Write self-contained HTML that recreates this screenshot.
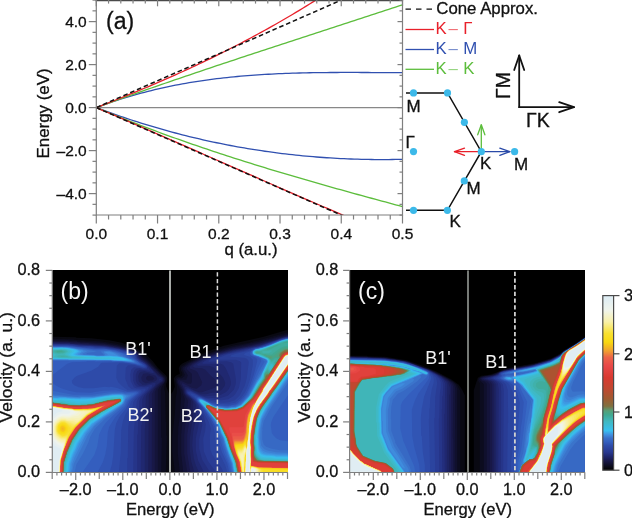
<!DOCTYPE html>
<html><head><meta charset="utf-8"><style>
html,body{margin:0;padding:0;background:#fff;}
svg{display:block;will-change:transform;}
text{font-family:"Liberation Sans",sans-serif;}
g[fill="#111"] text,text[fill="#111"]{stroke:#111;stroke-width:0.3px;}
</style></head><body>
<svg width="632" height="518" viewBox="0 0 632 518">
<rect width="632" height="518" fill="#fff"/>
<defs><clipPath id="ca"><rect x="96.3" y="0" width="306.2" height="215"/></clipPath></defs>
<g clip-path="url(#ca)" fill="none" stroke-width="1.3">
<line x1="96.3" y1="107.6" x2="402.5" y2="107.6" stroke="#888" stroke-width="1.2"/>
<path d="M96.30,107.60 L99.74,106.31 L103.18,105.05 L106.62,103.82 L110.06,102.62 L113.50,101.46 L116.94,100.32 L120.38,99.21 L123.82,98.14 L127.26,97.09 L130.70,96.07 L134.14,95.07 L137.59,94.11 L141.03,93.17 L144.47,92.26 L147.91,91.38 L151.35,90.52 L154.79,89.69 L158.23,88.89 L161.67,88.11 L165.11,87.35 L168.55,86.62 L171.99,85.91 L175.43,85.23 L178.87,84.57 L182.31,83.93 L185.75,83.31 L189.19,82.72 L192.63,82.15 L196.07,81.60 L199.51,81.06 L202.95,80.55 L206.39,80.07 L209.83,79.59 L213.28,79.14 L216.72,78.71 L220.16,78.30 L223.60,77.90 L227.04,77.53 L230.48,77.17 L233.92,76.82 L237.36,76.49 L240.80,76.18 L244.24,75.89 L247.68,75.61 L251.12,75.35 L254.56,75.10 L258.00,74.86 L261.44,74.64 L264.88,74.43 L268.32,74.23 L271.76,74.05 L275.20,73.88 L278.64,73.72 L282.08,73.58 L285.52,73.44 L288.97,73.31 L292.41,73.20 L295.85,73.10 L299.29,73.00 L302.73,72.91 L306.17,72.84 L309.61,72.77 L313.05,72.71 L316.49,72.65 L319.93,72.61 L323.37,72.57 L326.81,72.54 L330.25,72.51 L333.69,72.49 L337.13,72.48 L340.57,72.46 L344.01,72.46 L347.45,72.46 L350.89,72.46 L354.33,72.46 L357.77,72.47 L361.21,72.48 L364.66,72.50 L368.10,72.51 L371.54,72.53 L374.98,72.55 L378.42,72.56 L381.86,72.58 L385.30,72.60 L388.74,72.62 L392.18,72.64 L395.62,72.65 L399.06,72.67 L402.50,72.68" stroke="#3050b0"/>
<path d="M96.30,107.60 L99.74,108.89 L103.18,110.17 L106.62,111.43 L110.06,112.67 L113.50,113.89 L116.94,115.10 L120.38,116.29 L123.82,117.46 L127.26,118.62 L130.70,119.75 L134.14,120.87 L137.59,121.98 L141.03,123.06 L144.47,124.13 L147.91,125.19 L151.35,126.22 L154.79,127.24 L158.23,128.24 L161.67,129.23 L165.11,130.20 L168.55,131.15 L171.99,132.08 L175.43,133.00 L178.87,133.91 L182.31,134.79 L185.75,135.66 L189.19,136.52 L192.63,137.35 L196.07,138.17 L199.51,138.98 L202.95,139.77 L206.39,140.54 L209.83,141.29 L213.28,142.03 L216.72,142.76 L220.16,143.47 L223.60,144.16 L227.04,144.83 L230.48,145.49 L233.92,146.14 L237.36,146.77 L240.80,147.38 L244.24,147.98 L247.68,148.56 L251.12,149.13 L254.56,149.68 L258.00,150.21 L261.44,150.73 L264.88,151.24 L268.32,151.73 L271.76,152.20 L275.20,152.66 L278.64,153.10 L282.08,153.53 L285.52,153.94 L288.97,154.34 L292.41,154.72 L295.85,155.09 L299.29,155.44 L302.73,155.78 L306.17,156.11 L309.61,156.42 L313.05,156.71 L316.49,156.99 L319.93,157.25 L323.37,157.50 L326.81,157.74 L330.25,157.96 L333.69,158.16 L337.13,158.36 L340.57,158.53 L344.01,158.70 L347.45,158.85 L350.89,158.98 L354.33,159.10 L357.77,159.21 L361.21,159.30 L364.66,159.38 L368.10,159.44 L371.54,159.49 L374.98,159.53 L378.42,159.55 L381.86,159.56 L385.30,159.55 L388.74,159.53 L392.18,159.50 L395.62,159.45 L399.06,159.39 L402.50,159.32" stroke="#3050b0"/>
<path d="M96.30,107.60 L99.74,106.35 L103.18,105.10 L106.62,103.86 L110.06,102.62 L113.50,101.38 L116.94,100.15 L120.38,98.92 L123.82,97.69 L127.26,96.47 L130.70,95.25 L134.14,94.04 L137.59,92.82 L141.03,91.62 L144.47,90.41 L147.91,89.21 L151.35,88.01 L154.79,86.81 L158.23,85.62 L161.67,84.43 L165.11,83.24 L168.55,82.06 L171.99,80.88 L175.43,79.70 L178.87,78.52 L182.31,77.35 L185.75,76.18 L189.19,75.01 L192.63,73.84 L196.07,72.68 L199.51,71.52 L202.95,70.36 L206.39,69.20 L209.83,68.05 L213.28,66.89 L216.72,65.74 L220.16,64.59 L223.60,63.44 L227.04,62.30 L230.48,61.15 L233.92,60.01 L237.36,58.87 L240.80,57.73 L244.24,56.59 L247.68,55.46 L251.12,54.32 L254.56,53.19 L258.00,52.05 L261.44,50.92 L264.88,49.79 L268.32,48.66 L271.76,47.53 L275.20,46.41 L278.64,45.28 L282.08,44.15 L285.52,43.03 L288.97,41.90 L292.41,40.78 L295.85,39.66 L299.29,38.53 L302.73,37.41 L306.17,36.29 L309.61,35.17 L313.05,34.05 L316.49,32.92 L319.93,31.80 L323.37,30.68 L326.81,29.56 L330.25,28.44 L333.69,27.32 L337.13,26.20 L340.57,25.07 L344.01,23.95 L347.45,22.83 L350.89,21.71 L354.33,20.58 L357.77,19.46 L361.21,18.33 L364.66,17.21 L368.10,16.08 L371.54,14.96 L374.98,13.83 L378.42,12.70 L381.86,11.57 L385.30,10.44 L388.74,9.31 L392.18,8.17 L395.62,7.04 L399.06,5.91 L402.50,4.77" stroke="#5cbd3c"/>
<path d="M96.30,107.60 L99.74,109.04 L103.18,110.47 L106.62,111.89 L110.06,113.30 L113.50,114.70 L116.94,116.09 L120.38,117.47 L123.82,118.84 L127.26,120.20 L130.70,121.55 L134.14,122.89 L137.59,124.22 L141.03,125.54 L144.47,126.85 L147.91,128.15 L151.35,129.44 L154.79,130.73 L158.23,132.00 L161.67,133.27 L165.11,134.53 L168.55,135.78 L171.99,137.02 L175.43,138.25 L178.87,139.47 L182.31,140.69 L185.75,141.90 L189.19,143.10 L192.63,144.29 L196.07,145.48 L199.51,146.65 L202.95,147.82 L206.39,148.99 L209.83,150.14 L213.28,151.29 L216.72,152.43 L220.16,153.57 L223.60,154.69 L227.04,155.81 L230.48,156.93 L233.92,158.03 L237.36,159.14 L240.80,160.23 L244.24,161.32 L247.68,162.40 L251.12,163.48 L254.56,164.55 L258.00,165.61 L261.44,166.67 L264.88,167.73 L268.32,168.78 L271.76,169.82 L275.20,170.86 L278.64,171.89 L282.08,172.92 L285.52,173.94 L288.97,174.96 L292.41,175.97 L295.85,176.98 L299.29,177.99 L302.73,178.99 L306.17,179.98 L309.61,180.98 L313.05,181.97 L316.49,182.95 L319.93,183.93 L323.37,184.91 L326.81,185.88 L330.25,186.85 L333.69,187.82 L337.13,188.78 L340.57,189.74 L344.01,190.70 L347.45,191.65 L350.89,192.60 L354.33,193.55 L357.77,194.50 L361.21,195.44 L364.66,196.38 L368.10,197.32 L371.54,198.25 L374.98,199.19 L378.42,200.12 L381.86,201.05 L385.30,201.98 L388.74,202.91 L392.18,203.84 L395.62,204.76 L399.06,205.68 L402.50,206.60" stroke="#5cbd3c"/>
<path d="M96.30,107.60 L99.74,106.27 L103.18,104.94 L106.62,103.60 L110.06,102.25 L113.50,100.89 L116.94,99.52 L120.38,98.15 L123.82,96.76 L127.26,95.37 L130.70,93.97 L134.14,92.56 L137.59,91.14 L141.03,89.71 L144.47,88.27 L147.91,86.82 L151.35,85.36 L154.79,83.89 L158.23,82.40 L161.67,80.91 L165.11,79.41 L168.55,77.89 L171.99,76.37 L175.43,74.83 L178.87,73.28 L182.31,71.72 L185.75,70.15 L189.19,68.57 L192.63,66.97 L196.07,65.36 L199.51,63.74 L202.95,62.10 L206.39,60.45 L209.83,58.79 L213.28,57.12 L216.72,55.43 L220.16,53.72 L223.60,52.01 L227.04,50.28 L230.48,48.53 L233.92,46.77 L237.36,45.00 L240.80,43.21 L244.24,41.41 L247.68,39.59 L251.12,37.75 L254.56,35.90 L258.00,34.04 L261.44,32.15 L264.88,30.26 L268.32,28.34 L271.76,26.41 L275.20,24.46 L278.64,22.50 L282.08,20.52 L285.52,18.52 L288.97,16.50 L292.41,14.47 L295.85,12.42 L299.29,10.35 L302.73,8.26 L306.17,6.16 L309.61,4.03 L313.05,1.89 L316.49,-0.27 L319.93,-2.45 L323.37,-4.65 L326.81,-6.87 L330.25,-9.11 L333.69,-11.37 L337.13,-13.65 L340.57,-15.94 L344.01,-18.26 L347.45,-20.60 L350.89,-22.96 L354.33,-25.34 L357.77,-27.74 L361.21,-30.16 L364.66,-32.61 L368.10,-35.07 L371.54,-37.56 L374.98,-40.07 L378.42,-42.60 L381.86,-45.15 L385.30,-47.73 L388.74,-50.33 L392.18,-52.95 L395.62,-55.59 L399.06,-58.26 L402.50,-60.95" stroke="#e8202a"/>
<path d="M96.30,107.60 L99.74,109.06 L103.18,110.53 L106.62,112.00 L110.06,113.47 L113.50,114.95 L116.94,116.43 L120.38,117.91 L123.82,119.39 L127.26,120.88 L130.70,122.36 L134.14,123.85 L137.59,125.34 L141.03,126.84 L144.47,128.33 L147.91,129.83 L151.35,131.33 L154.79,132.83 L158.23,134.33 L161.67,135.84 L165.11,137.34 L168.55,138.85 L171.99,140.35 L175.43,141.86 L178.87,143.37 L182.31,144.88 L185.75,146.40 L189.19,147.91 L192.63,149.42 L196.07,150.94 L199.51,152.45 L202.95,153.97 L206.39,155.48 L209.83,157.00 L213.28,158.51 L216.72,160.03 L220.16,161.55 L223.60,163.06 L227.04,164.58 L230.48,166.10 L233.92,167.62 L237.36,169.13 L240.80,170.65 L244.24,172.16 L247.68,173.68 L251.12,175.19 L254.56,176.71 L258.00,178.22 L261.44,179.73 L264.88,181.25 L268.32,182.76 L271.76,184.27 L275.20,185.78 L278.64,187.28 L282.08,188.79 L285.52,190.29 L288.97,191.80 L292.41,193.30 L295.85,194.80 L299.29,196.30 L302.73,197.79 L306.17,199.29 L309.61,200.78 L313.05,202.27 L316.49,203.76 L319.93,205.25 L323.37,206.74 L326.81,208.22 L330.25,209.70 L333.69,211.18 L337.13,212.65 L340.57,214.12 L344.01,215.59 L347.45,217.06 L350.89,218.52 L354.33,219.99 L357.77,221.44 L361.21,222.90 L364.66,224.35 L368.10,225.80 L371.54,227.25 L374.98,228.69 L378.42,230.13 L381.86,231.56 L385.30,232.99 L388.74,234.42 L392.18,235.85 L395.62,237.27 L399.06,238.68 L402.50,240.09" stroke="#e8202a"/>
<line x1="96.3" y1="107.6" x2="353.508" y2="-5.275000000000006" stroke="#111" stroke-dasharray="4.6,2.8" stroke-width="1.5"/>
<line x1="96.3" y1="107.6" x2="353.508" y2="220.475" stroke="#111" stroke-dasharray="4.6,2.8" stroke-width="1.5"/>
</g>
<g stroke="#7f7f7f" stroke-width="1.2" fill="none">
<path d="M96.3,0 V215 H402.5 V0"/>
<line x1="95.7" y1="0.45" x2="403.1" y2="0.45" stroke="#4a4a4a" stroke-width="1.5"/>
<line x1="92.5" y1="0.10" x2="96.3" y2="0.10"/>
<line x1="399.5" y1="0.10" x2="402.5" y2="0.10"/>
<line x1="92.5" y1="10.85" x2="96.3" y2="10.85"/>
<line x1="399.5" y1="10.85" x2="402.5" y2="10.85"/>
<line x1="88.8" y1="21.60" x2="96.3" y2="21.60"/>
<line x1="397.5" y1="21.60" x2="402.5" y2="21.60"/>
<line x1="92.5" y1="32.35" x2="96.3" y2="32.35"/>
<line x1="399.5" y1="32.35" x2="402.5" y2="32.35"/>
<line x1="92.5" y1="43.10" x2="96.3" y2="43.10"/>
<line x1="399.5" y1="43.10" x2="402.5" y2="43.10"/>
<line x1="92.5" y1="53.85" x2="96.3" y2="53.85"/>
<line x1="399.5" y1="53.85" x2="402.5" y2="53.85"/>
<line x1="88.8" y1="64.60" x2="96.3" y2="64.60"/>
<line x1="397.5" y1="64.60" x2="402.5" y2="64.60"/>
<line x1="92.5" y1="75.35" x2="96.3" y2="75.35"/>
<line x1="399.5" y1="75.35" x2="402.5" y2="75.35"/>
<line x1="92.5" y1="86.10" x2="96.3" y2="86.10"/>
<line x1="399.5" y1="86.10" x2="402.5" y2="86.10"/>
<line x1="92.5" y1="96.85" x2="96.3" y2="96.85"/>
<line x1="399.5" y1="96.85" x2="402.5" y2="96.85"/>
<line x1="88.8" y1="107.60" x2="96.3" y2="107.60"/>
<line x1="397.5" y1="107.60" x2="402.5" y2="107.60"/>
<line x1="92.5" y1="118.35" x2="96.3" y2="118.35"/>
<line x1="399.5" y1="118.35" x2="402.5" y2="118.35"/>
<line x1="92.5" y1="129.10" x2="96.3" y2="129.10"/>
<line x1="399.5" y1="129.10" x2="402.5" y2="129.10"/>
<line x1="92.5" y1="139.85" x2="96.3" y2="139.85"/>
<line x1="399.5" y1="139.85" x2="402.5" y2="139.85"/>
<line x1="88.8" y1="150.60" x2="96.3" y2="150.60"/>
<line x1="397.5" y1="150.60" x2="402.5" y2="150.60"/>
<line x1="92.5" y1="161.35" x2="96.3" y2="161.35"/>
<line x1="399.5" y1="161.35" x2="402.5" y2="161.35"/>
<line x1="92.5" y1="172.10" x2="96.3" y2="172.10"/>
<line x1="399.5" y1="172.10" x2="402.5" y2="172.10"/>
<line x1="92.5" y1="182.85" x2="96.3" y2="182.85"/>
<line x1="399.5" y1="182.85" x2="402.5" y2="182.85"/>
<line x1="88.8" y1="193.60" x2="96.3" y2="193.60"/>
<line x1="397.5" y1="193.60" x2="402.5" y2="193.60"/>
<line x1="92.5" y1="204.35" x2="96.3" y2="204.35"/>
<line x1="399.5" y1="204.35" x2="402.5" y2="204.35"/>
<line x1="92.5" y1="215.10" x2="96.3" y2="215.10"/>
<line x1="399.5" y1="215.10" x2="402.5" y2="215.10"/>
<line x1="96.30" y1="215" x2="96.30" y2="223.5"/>
<line x1="96.30" y1="0" x2="96.30" y2="6.3"/>
<line x1="108.55" y1="215" x2="108.55" y2="219.5"/>
<line x1="108.55" y1="0" x2="108.55" y2="3.6"/>
<line x1="120.80" y1="215" x2="120.80" y2="219.5"/>
<line x1="120.80" y1="0" x2="120.80" y2="3.6"/>
<line x1="133.04" y1="215" x2="133.04" y2="219.5"/>
<line x1="133.04" y1="0" x2="133.04" y2="3.6"/>
<line x1="145.29" y1="215" x2="145.29" y2="219.5"/>
<line x1="145.29" y1="0" x2="145.29" y2="3.6"/>
<line x1="157.54" y1="215" x2="157.54" y2="223.5"/>
<line x1="157.54" y1="0" x2="157.54" y2="6.3"/>
<line x1="169.79" y1="215" x2="169.79" y2="219.5"/>
<line x1="169.79" y1="0" x2="169.79" y2="3.6"/>
<line x1="182.04" y1="215" x2="182.04" y2="219.5"/>
<line x1="182.04" y1="0" x2="182.04" y2="3.6"/>
<line x1="194.28" y1="215" x2="194.28" y2="219.5"/>
<line x1="194.28" y1="0" x2="194.28" y2="3.6"/>
<line x1="206.53" y1="215" x2="206.53" y2="219.5"/>
<line x1="206.53" y1="0" x2="206.53" y2="3.6"/>
<line x1="218.78" y1="215" x2="218.78" y2="223.5"/>
<line x1="218.78" y1="0" x2="218.78" y2="6.3"/>
<line x1="231.03" y1="215" x2="231.03" y2="219.5"/>
<line x1="231.03" y1="0" x2="231.03" y2="3.6"/>
<line x1="243.28" y1="215" x2="243.28" y2="219.5"/>
<line x1="243.28" y1="0" x2="243.28" y2="3.6"/>
<line x1="255.52" y1="215" x2="255.52" y2="219.5"/>
<line x1="255.52" y1="0" x2="255.52" y2="3.6"/>
<line x1="267.77" y1="215" x2="267.77" y2="219.5"/>
<line x1="267.77" y1="0" x2="267.77" y2="3.6"/>
<line x1="280.02" y1="215" x2="280.02" y2="223.5"/>
<line x1="280.02" y1="0" x2="280.02" y2="6.3"/>
<line x1="292.27" y1="215" x2="292.27" y2="219.5"/>
<line x1="292.27" y1="0" x2="292.27" y2="3.6"/>
<line x1="304.52" y1="215" x2="304.52" y2="219.5"/>
<line x1="304.52" y1="0" x2="304.52" y2="3.6"/>
<line x1="316.76" y1="215" x2="316.76" y2="219.5"/>
<line x1="316.76" y1="0" x2="316.76" y2="3.6"/>
<line x1="329.01" y1="215" x2="329.01" y2="219.5"/>
<line x1="329.01" y1="0" x2="329.01" y2="3.6"/>
<line x1="341.26" y1="215" x2="341.26" y2="223.5"/>
<line x1="341.26" y1="0" x2="341.26" y2="6.3"/>
<line x1="353.51" y1="215" x2="353.51" y2="219.5"/>
<line x1="353.51" y1="0" x2="353.51" y2="3.6"/>
<line x1="365.76" y1="215" x2="365.76" y2="219.5"/>
<line x1="365.76" y1="0" x2="365.76" y2="3.6"/>
<line x1="378.00" y1="215" x2="378.00" y2="219.5"/>
<line x1="378.00" y1="0" x2="378.00" y2="3.6"/>
<line x1="390.25" y1="215" x2="390.25" y2="219.5"/>
<line x1="390.25" y1="0" x2="390.25" y2="3.6"/>
<line x1="402.50" y1="215" x2="402.50" y2="223.5"/>
<line x1="402.50" y1="0" x2="402.50" y2="6.3"/>
</g>
<g font-family="Liberation Sans, sans-serif" font-size="15.5" fill="#111" text-anchor="end">
<text x="86.7" y="27.1">4.0</text>
<text x="86.7" y="70.1">2.0</text>
<text x="86.7" y="113.1">0.0</text>
<text x="86.7" y="156.1">–2.0</text>
<text x="86.7" y="199.1">–4.0</text>
</g>
<g font-family="Liberation Sans, sans-serif" font-size="15.5" fill="#111" text-anchor="middle">
<text x="96.3" y="238.5">0.0</text>
<text x="157.5" y="238.5">0.1</text>
<text x="218.8" y="238.5">0.2</text>
<text x="280.0" y="238.5">0.3</text>
<text x="341.3" y="238.5">0.4</text>
<text x="402.5" y="238.5">0.5</text>
<text x="251" y="254.5" font-size="16.8">q (a.u.)</text>
<text transform="translate(49,113.4) rotate(-90)" font-size="16.9">Energy (eV)</text>
</g>
<text x="106" y="29.3" font-family="Liberation Sans, sans-serif" font-size="23" fill="#111">(a)</text>
<g stroke-width="1.3">
<line x1="405.5" y1="9.2" x2="435" y2="9.2" stroke="#111" stroke-dasharray="5.5,5"/>
<line x1="405.5" y1="29.5" x2="434" y2="29.5" stroke="#e8202a"/>
<line x1="405.5" y1="49.5" x2="434" y2="49.5" stroke="#3050b0"/>
<line x1="405.5" y1="69.3" x2="434" y2="69.3" stroke="#5cbd3c"/>
</g>
<g font-family="Liberation Sans, sans-serif" font-size="16.8">
<text x="436.3" y="13.8" fill="#111">Cone Approx.</text>
<text x="435.5" y="34.3" fill="#e8202a">K<tspan dx="1.8" opacity="0.65">–</tspan><tspan dx="5.5">Γ</tspan></text>
<text x="435.5" y="54.2" fill="#3050b0">K<tspan dx="1.8" opacity="0.65">–</tspan><tspan dx="5.5">M</tspan></text>
<text x="435.5" y="74.4" fill="#5cbd3c">K<tspan dx="1.8" opacity="0.65">–</tspan><tspan dx="5.5">K</tspan></text>
</g>
<g stroke="#111" stroke-width="1.5" fill="none">
<path d="M406,92.9 H447.5 L481.3,151.7 L447.4,210.3 H406"/>
</g>
<g stroke="#e8202a" stroke-width="1.3" fill="none" stroke-linecap="round" stroke-linejoin="round"><line x1="481.3" y1="151.7" x2="454.5" y2="151.7"/><path d="M464.50,148.10 L454.5,151.7 L464.50,155.30"/></g>
<g stroke="#2a4aa8" stroke-width="1.3" fill="none" stroke-linecap="round" stroke-linejoin="round"><line x1="481.3" y1="151.7" x2="509.8" y2="151.7"/><path d="M499.80,155.30 L509.8,151.7 L499.80,148.10"/></g>
<g stroke="#5cbd3c" stroke-width="1.3" fill="none" stroke-linecap="round" stroke-linejoin="round"><line x1="481.3" y1="151.7" x2="481.3" y2="124.8"/><path d="M484.90,134.80 L481.3,124.8 L477.70,134.80"/></g>
<g stroke="#111" stroke-width="1.8" fill="none" stroke-linecap="round" stroke-linejoin="round"><line x1="519.2" y1="107.2" x2="519.2" y2="55.5"/><path d="M524.20,70.00 L519.2,55.5 L514.20,70.00"/></g>
<g stroke="#111" stroke-width="1.8" fill="none" stroke-linecap="round" stroke-linejoin="round"><line x1="519.2" y1="107.2" x2="574" y2="107.2"/><path d="M559.20,112.20 L574,107.2 L559.20,102.20"/></g>
<g fill="#3cb9e9">
<circle cx="413.5" cy="92.9" r="3.6"/>
<circle cx="447.5" cy="92.9" r="3.6"/>
<circle cx="464.4" cy="122.3" r="3.6"/>
<circle cx="481.3" cy="151.7" r="3.6"/>
<circle cx="413.5" cy="151.6" r="3.6"/>
<circle cx="514.6" cy="151.7" r="3.6"/>
<circle cx="464.3" cy="180.9" r="3.6"/>
<circle cx="413.5" cy="210.3" r="3.6"/>
<circle cx="447.4" cy="210.3" r="3.6"/>
</g>
<g font-family="Liberation Sans, sans-serif" font-size="17" fill="#111">
<text x="406.5" y="111.5">M</text>
<text x="405.5" y="148.4">Γ</text>
<text x="480" y="169.4">K</text>
<text x="514" y="169.5">M</text>
<text x="466.5" y="193.8">M</text>
<text x="449.5" y="226.6">K</text>
</g>
<g font-family="Liberation Sans, sans-serif" font-size="19.5" fill="#111">
<text x="526" y="126.8">ΓK</text>
<text transform="translate(510.3,99) rotate(-90)">ΓM</text>
</g>
<clipPath id="clb"><rect x="52" y="270" width="236" height="202"/></clipPath><g clip-path="url(#clb)"><g><rect x="52" y="270" width="236" height="202" fill="#000000"/><path fill="#090912" fill-rule="evenodd" d="M287.8 329.8 263.8 336.8 223.8 345.8 206.8 351.8 182.8 363.2 180.2 365.2 178.8 368.2 179.8 373.8 175.8 375.8 173.8 378.2 174.8 386.8 172.8 391.8 170.8 394.2 168.8 393.2 166.2 386.2 166.2 383.8 167.2 381.2 167.2 377.8 166.2 375.8 157.8 367.8 152.8 361.2 145.8 354.2 135.8 347.8 121.8 342.8 109.2 340.2 90.8 338.2 76.2 337.8 75.8 337.2 52.2 336.8 52.2 471.8 287.8 471.8Z"/><path fill="#0c0c1f" fill-rule="evenodd" d="M52.2 338.8 52.2 471.8 165.8 471.8 166.8 435.8 166.2 435.2 166.2 422.2 165.8 421.8 165.2 392.8 164.2 388.2 164.8 384.2 166.2 380.8 166.2 378.2 165.2 376.2 160.8 372.8 153.8 364.8 145.2 356.2 140.2 352.2 135.2 349.2 128.2 346.8 117.2 343.8 100.2 341.2 74.2 339.8 73.8 339.2ZM287.8 332.2 248.8 342.8 234.2 345.2 219.2 349.2 194.8 358.8 186.8 362.8 181.2 366.8 180.8 370.2 182.2 372.8 182.2 375.2 180.2 376.8 176.8 377.2 175.2 379.2 176.8 385.8 176.8 392.8 175.8 396.8 174.8 413.8 172.2 437.2 172.2 450.8 174.8 471.8 287.8 471.8Z"/><path fill="#10102d" fill-rule="evenodd" d="M52.2 340.2 52.2 471.8 161.2 471.8 161.8 438.2 161.2 437.8 160.8 389.8 161.8 386.8 165.2 381.2 164.8 377.2 146.2 358.8 143.2 356.8 138.2 351.8 131.2 348.8 118.2 345.2 102.2 342.8 77.2 341.2 76.8 340.8 68.8 340.8 68.2 340.2ZM287.8 333.8 258.8 341.8 229.2 347.8 215.2 351.8 198.2 358.2 188.2 363.2 182.8 367.2 182.2 368.8 184.8 374.8 184.2 376.2 181.8 378.2 178.2 378.2 176.8 379.2 176.8 382.2 180.2 389.8 181.2 395.2 179.8 416.8 178.2 428.2 178.2 434.2 177.8 434.8 177.8 453.8 179.8 471.8 287.8 471.8Z"/><path fill="#14143a" fill-rule="evenodd" d="M52.2 341.2 52.2 471.8 157.8 471.8 157.8 390.2 159.2 387.2 163.8 382.8 164.8 380.2 164.2 377.8 145.2 359.2 142.8 357.8 137.8 352.2 132.2 349.8 116.8 345.8 102.8 343.8 77.8 342.2 77.2 341.8 68.8 341.8 68.2 341.2ZM287.8 334.8 252.8 344.2 233.8 347.8 216.8 352.2 199.2 358.8 190.2 363.2 184.8 367.2 184.2 369.2 187.8 375.2 186.2 379.8 178.8 379.8 177.8 380.8 178.2 383.2 182.2 390.2 182.8 393.8 184.8 398.8 181.2 434.2 181.2 453.8 183.2 471.8 287.8 471.8Z"/><path fill="#181847" fill-rule="evenodd" d="M52.2 341.8 52.2 471.8 154.8 471.8 154.8 392.2 156.2 388.8 163.8 381.2 163.8 378.2 146.2 361.2 143.2 359.2 136.8 352.2 130.2 349.8 118.2 346.8 105.2 344.8 88.8 343.8 88.2 343.2 80.8 343.2 80.2 342.8 72.8 342.8 72.2 342.2ZM287.8 335.2 264.2 342.2 247.8 346.2 228.8 349.8 217.8 352.8 201.2 358.8 192.2 363.2 186.8 367.8 186.8 369.2 191.8 373.8 191.8 382.2 190.8 383.8 187.8 383.8 182.2 381.2 179.8 381.2 179.8 383.8 183.2 389.8 183.8 393.2 188.2 400.8 184.2 434.8 184.2 453.2 187.2 471.8 287.8 471.8Z"/><path fill="#1b1d55" fill-rule="evenodd" d="M52.2 342.2 52.2 471.8 151.8 471.8 151.8 410.2 152.2 409.8 151.8 394.2 154.2 389.2 158.2 384.8 162.8 381.2 163.2 380.2 162.8 377.8 158.2 374.8 146.2 362.2 141.8 359.2 136.8 352.8 130.2 350.2 118.2 347.2 104.8 345.2 70.2 343.2 69.8 342.8ZM146.2 377.2 147.8 375.8 149.8 375.8 152.8 376.8 154.2 378.8 152.8 380.2 148.2 380.8 146.2 379.2ZM287.8 336.2 282.2 337.2 275.8 339.8 253.2 345.8 234.2 349.2 216.8 353.8 201.8 359.2 193.2 363.8 190.2 366.2 189.8 367.2 190.2 368.8 195.8 370.8 197.8 372.8 202.2 382.2 201.2 385.2 196.8 388.8 191.8 387.8 182.8 383.2 181.8 383.8 184.2 389.8 184.2 392.2 185.2 394.8 190.8 400.8 189.8 417.2 187.2 435.2 187.2 453.2 189.8 469.2 190.8 471.8 287.8 471.8Z"/><path fill="#1d2362" fill-rule="evenodd" d="M52.2 343.2 52.2 471.8 148.2 471.8 148.8 395.2 150.2 392.2 156.8 384.8 162.2 380.8 162.2 378.8 160.8 377.2 158.2 376.2 147.8 364.2 141.2 359.8 135.8 352.8 132.2 351.2 120.8 348.2 104.8 345.8 69.8 343.8 69.2 343.2ZM141.2 377.8 143.2 373.8 147.2 373.2 155.8 375.8 157.2 378.8 155.8 380.8 153.8 381.8 145.8 383.2 142.2 381.2ZM287.8 336.2 260.2 344.8 232.8 350.2 217.2 354.2 200.2 360.8 195.2 363.8 193.2 365.8 193.2 366.8 194.8 367.8 202.2 368.2 205.2 369.8 210.8 375.8 216.8 380.8 217.8 382.8 217.2 385.2 214.8 387.8 201.8 392.2 199.2 392.2 193.8 390.2 188.2 387.2 184.8 386.8 184.8 391.8 185.8 394.2 191.8 399.8 193.2 402.2 192.8 417.2 189.8 438.2 189.8 450.8 191.2 461.2 194.2 471.8 287.8 471.8Z"/><path fill="#202870" fill-rule="evenodd" d="M159.2 378.8 159.2 380.8 161.2 379.8 160.8 378.8ZM52.2 343.8 52.2 471.8 144.8 471.8 144.8 428.8 145.2 428.2 145.8 396.8 147.2 393.8 154.8 385.8 155.8 383.2 154.2 382.8 146.2 384.8 142.2 384.8 138.8 381.2 138.2 376.2 139.2 373.2 140.8 371.8 144.2 371.2 153.2 373.2 153.8 372.8 152.8 370.8 145.8 363.2 138.8 358.2 137.8 355.2 135.8 353.2 127.2 350.2 105.8 346.2 70.8 344.2 70.2 343.8ZM287.8 336.8 281.2 338.2 278.2 339.8 258.8 345.8 233.2 350.8 216.2 355.2 203.2 360.2 197.2 364.2 197.2 365.2 198.2 365.8 208.8 365.8 213.8 367.2 223.2 377.8 225.2 382.8 224.8 385.8 221.8 389.8 218.2 391.8 214.8 392.8 211.8 392.8 206.2 394.2 200.8 394.2 189.2 388.8 187.2 388.2 185.8 389.8 185.8 393.2 193.2 400.2 195.8 404.8 195.8 419.8 193.2 432.2 192.2 445.2 193.8 458.2 195.8 465.2 198.8 471.8 287.8 471.8Z"/><path fill="#232e7d" fill-rule="evenodd" d="M52.2 343.8 52.2 471.8 140.8 471.8 141.2 425.2 141.8 424.8 141.8 415.2 142.2 414.8 142.2 399.8 144.2 395.2 151.8 387.2 152.2 385.2 151.2 384.8 144.2 386.2 139.2 385.8 136.8 383.2 135.8 380.2 135.8 374.8 137.2 371.2 139.8 369.8 150.2 370.8 147.2 365.2 140.8 360.8 137.8 357.8 135.8 353.8 123.8 349.8 110.8 347.2 101.2 346.2 78.8 345.2 71.8 344.2ZM287.8 337.2 282.2 338.2 258.8 346.2 236.2 350.8 220.2 354.8 207.8 359.2 202.2 362.8 202.8 363.8 220.8 363.8 223.2 364.8 225.8 368.2 229.8 377.2 230.8 381.2 230.8 384.8 228.8 389.2 225.8 392.2 219.8 395.2 204.2 396.2 198.2 394.2 189.2 389.8 187.2 389.8 186.2 390.8 186.8 393.8 193.8 399.8 195.8 402.2 197.8 407.2 197.8 412.2 198.8 414.8 198.8 424.2 195.8 438.2 195.8 450.2 198.2 460.8 203.8 471.8 287.8 471.8Z"/><path fill="#263589" fill-rule="evenodd" d="M52.2 344.2 52.2 471.8 136.8 471.8 137.2 471.2 137.2 434.8 137.8 434.2 138.2 415.8 139.2 409.8 139.2 401.2 140.8 397.2 148.2 389.2 148.8 387.2 148.2 386.8 146.2 387.2 136.8 386.8 134.8 384.8 133.2 380.8 133.2 373.8 134.2 370.8 136.2 368.8 139.8 368.2 143.2 369.2 146.8 369.2 147.2 366.2 145.8 364.2 139.8 360.8 137.2 358.2 136.8 355.8 134.8 353.8 119.8 349.2 102.8 346.8 80.2 345.8 73.8 344.8ZM287.8 337.2 284.8 337.8 260.2 346.2 224.8 354.2 215.2 357.2 209.8 359.8 208.2 361.2 209.2 361.8 226.8 361.2 231.2 362.2 233.2 363.8 235.8 378.2 235.8 383.8 233.8 389.8 227.8 395.8 219.8 398.2 206.8 397.8 200.2 395.8 190.2 390.8 187.2 391.2 186.8 392.2 187.2 393.2 195.8 401.2 198.8 405.8 199.2 410.2 202.2 419.2 202.2 425.8 199.2 439.2 199.2 448.8 202.2 459.8 209.8 471.8 287.8 471.8Z"/><path fill="#293c95" fill-rule="evenodd" d="M52.2 344.8 52.2 471.8 133.2 471.8 133.8 431.2 136.8 401.2 138.2 398.2 145.2 390.8 145.8 388.8 136.2 388.2 133.8 387.2 130.8 381.2 130.2 374.8 131.2 369.8 133.8 367.2 146.2 368.2 146.8 367.2 146.2 365.8 143.8 363.2 139.2 360.8 136.8 358.2 134.8 354.2 129.8 352.2 118.2 349.2 104.8 347.2 97.2 347.2 90.8 346.2 82.2 346.2 66.8 344.8ZM287.8 337.8 283.8 338.2 259.8 346.8 253.8 347.8 244.8 350.8 227.8 354.2 216.2 358.8 217.2 359.8 235.8 359.8 240.2 361.2 241.2 362.8 240.8 379.2 238.8 388.2 235.2 394.2 233.2 396.2 228.2 399.2 221.8 400.2 216.2 400.2 207.2 398.8 198.8 395.8 190.8 391.8 187.8 392.2 188.2 393.8 195.2 399.8 199.2 405.2 200.8 410.8 203.8 416.2 205.8 424.2 205.2 430.8 203.2 438.8 203.8 451.2 207.8 460.8 215.8 471.8 287.8 471.8Z"/><path fill="#2b449f" fill-rule="evenodd" d="M52.2 345.2 52.2 471.8 126.8 471.8 127.2 470.8 127.2 458.2 127.8 457.8 128.2 427.2 129.2 419.8 132.2 409.2 133.2 402.2 134.2 400.2 141.2 393.2 141.8 390.8 139.8 389.8 131.8 389.2 128.2 386.2 125.2 378.8 125.8 367.8 128.2 365.2 134.2 365.2 144.2 367.8 145.8 366.8 145.2 365.2 138.2 360.8 135.8 358.2 135.2 356.2 133.8 354.8 120.2 350.2 104.2 347.8 95.8 347.8 89.8 346.8 81.2 346.8 67.2 345.2ZM287.8 337.8 278.8 340.2 266.2 345.2 257.8 347.8 255.8 347.8 248.8 350.8 235.8 353.8 231.2 355.2 230.2 356.8 244.2 357.8 246.8 358.8 248.2 360.2 248.8 362.2 246.8 377.8 244.8 385.8 239.8 395.2 234.8 400.2 228.8 402.2 224.2 402.8 216.2 402.2 205.8 399.2 193.2 393.8 190.2 393.2 190.8 394.8 195.8 399.2 197.2 402.2 200.2 405.2 202.2 410.2 208.8 421.8 210.8 428.8 209.8 436.2 210.2 449.2 212.2 454.8 221.8 468.2 223.2 471.8 287.8 471.8Z"/><path fill="#2e4ba9" fill-rule="evenodd" d="M52.2 345.8 52.2 471.8 118.8 471.8 120.8 452.8 121.2 430.2 122.8 421.2 125.2 414.8 128.8 408.8 131.2 401.2 139.2 393.8 139.8 391.8 138.2 390.8 127.8 390.2 122.2 386.2 118.2 382.2 116.2 377.8 116.8 365.8 119.2 363.2 130.2 363.8 143.2 366.8 144.2 365.8 142.2 363.8 137.2 360.8 132.2 355.2 126.8 352.8 115.2 349.8 103.8 348.2 94.8 348.2 94.2 347.8 80.8 347.2 67.8 345.8ZM287.8 338.2 280.8 339.8 264.2 346.2 253.8 348.8 249.2 351.8 245.8 352.8 243.8 354.2 244.8 355.2 249.8 356.8 252.8 359.8 252.8 365.2 249.8 380.2 247.2 387.8 244.8 392.8 241.2 397.8 235.2 402.8 231.2 403.2 229.2 404.2 216.8 403.8 211.2 402.2 201.8 397.8 194.2 395.8 197.8 402.2 201.8 406.2 204.8 412.2 206.8 414.2 206.8 415.2 210.2 420.2 213.2 426.2 214.8 432.8 214.8 437.2 216.8 448.2 225.2 465.2 227.2 471.8 287.8 471.8Z"/><path fill="#3155b4" fill-rule="evenodd" d="M52.2 346.2 52.2 471.8 109.8 471.8 111.8 464.8 113.2 455.8 114.8 429.8 116.2 423.2 119.8 416.2 126.2 408.2 129.8 400.8 138.2 393.2 138.2 392.2 136.2 391.2 127.8 391.8 116.2 387.8 110.8 386.8 109.2 387.2 104.8 386.8 93.8 388.2 83.8 388.2 78.8 387.2 74.2 385.2 72.2 383.2 71.8 380.8 74.8 377.2 77.2 375.8 91.2 370.8 98.2 366.8 100.8 363.2 102.2 362.8 122.2 362.2 133.8 363.8 138.8 365.2 142.2 365.2 142.2 364.8 129.2 354.8 115.2 350.2 104.2 348.8 94.2 348.8 69.8 346.2ZM287.8 338.2 278.8 340.8 272.2 343.8 261.8 347.2 254.8 348.8 252.8 349.8 249.8 352.8 249.8 354.2 251.2 355.8 255.8 357.8 257.2 359.2 257.2 361.2 253.8 374.8 249.2 387.8 246.2 393.8 243.2 397.8 237.2 403.2 235.2 404.2 227.8 405.8 219.8 405.2 211.8 403.2 200.8 397.8 198.8 397.2 196.8 397.8 197.2 400.8 202.2 406.2 211.8 420.2 215.2 426.8 219.2 441.2 219.8 445.2 222.2 452.8 227.2 463.2 229.2 471.8 287.8 471.8Z"/><path fill="#345ebe" fill-rule="evenodd" d="M52.2 382.8 52.2 471.8 97.8 471.8 102.8 462.2 105.2 454.8 106.8 446.2 107.8 432.2 109.2 426.8 115.2 417.2 125.2 406.8 128.2 400.8 136.8 393.8 136.2 392.2 124.8 392.2 115.8 390.2 102.8 390.8 90.8 392.8 76.2 392.2 68.8 390.8 61.2 388.2 56.2 385.8ZM52.2 346.2 52.2 375.2 67.2 363.8 71.8 362.2 86.2 361.8 86.8 361.2 94.8 361.2 95.2 361.8 111.8 361.2 112.2 361.8 121.8 361.8 139.8 364.8 140.2 364.2 137.8 361.8 126.2 354.2 115.2 350.8 105.8 349.2 93.8 349.2 72.2 346.8ZM287.8 338.8 285.2 338.8 268.8 345.2 255.2 348.8 251.2 351.8 251.2 354.2 252.2 355.2 258.8 357.8 260.8 359.2 261.2 361.2 257.2 369.8 252.2 383.8 247.2 394.2 243.8 398.8 238.2 403.8 235.2 405.2 232.2 405.2 229.8 406.2 223.2 406.2 214.2 404.8 199.8 397.8 198.2 397.8 197.2 398.8 198.2 401.8 202.8 406.2 216.2 426.2 224.2 452.8 229.2 464.8 230.8 471.8 287.8 471.8Z"/><path fill="#3769c4" fill-rule="evenodd" d="M134.2 393.2 125.2 393.2 121.8 392.2 109.2 392.2 92.2 394.8 72.8 394.8 52.2 390.8 52.2 471.8 82.8 471.8 94.2 455.2 97.2 446.8 99.2 434.2 102.8 426.8 105.8 422.8 112.8 415.8 124.8 405.2 126.8 400.8 134.8 393.8ZM52.2 346.8 52.2 360.8 68.2 360.8 68.8 361.2 111.2 360.8 111.8 361.2 120.8 361.2 138.2 363.8 134.8 360.2 127.2 356.8 121.8 353.2 110.2 350.2 106.2 349.8 96.8 350.2 67.8 346.8ZM287.8 338.8 279.8 340.8 263.2 347.2 254.8 349.2 252.2 351.2 251.8 353.8 253.2 355.2 261.2 358.2 264.8 361.8 260.8 368.2 247.8 395.2 243.2 400.8 239.8 403.8 234.8 406.2 230.8 406.2 227.2 407.2 218.2 405.8 217.2 406.2 212.8 404.8 201.8 398.8 198.8 398.2 197.8 399.2 198.2 401.2 208.2 412.8 216.8 425.2 219.8 434.8 222.2 440.2 222.8 443.8 226.2 452.8 226.8 455.8 230.2 463.8 231.8 471.8 287.8 471.8 287.8 441.2 280.2 440.2 276.2 438.2 272.8 434.8 271.8 432.8 270.8 425.8 271.2 422.2 273.2 417.2 287.8 395.2Z"/><path fill="#3b74cb" fill-rule="evenodd" d="M131.2 394.8 125.2 394.2 122.2 393.2 112.2 393.2 91.8 396.2 78.8 396.2 77.8 396.8 52.2 394.2 52.2 471.8 74.8 471.8 76.2 464.8 82.8 453.8 88.2 442.8 90.2 436.8 94.8 428.8 106.2 417.8 109.8 415.8 121.8 406.2 124.2 403.8 125.8 399.8 129.8 396.8ZM52.2 347.2 52.2 359.8 54.8 360.2 95.8 360.2 96.2 360.8 110.8 360.2 111.2 360.8 124.8 361.2 133.8 362.8 135.8 362.2 133.8 360.2 126.8 357.8 118.8 353.2 109.2 350.8 101.8 351.2 100.8 351.8 103.8 354.8 98.2 355.8 94.8 354.8 86.8 354.2 86.2 353.8 87.8 352.8 96.8 351.8 92.8 350.8 69.2 347.2ZM287.8 338.8 280.2 340.8 271.2 344.8 260.8 348.2 255.2 349.2 252.2 351.8 252.2 353.2 253.2 354.8 264.8 359.2 266.8 361.8 256.2 380.2 248.8 395.2 240.8 404.2 235.2 406.8 226.2 407.8 213.8 405.8 200.8 398.8 198.8 398.8 198.2 399.8 198.8 401.2 203.2 405.8 217.2 424.2 220.2 433.2 222.8 438.2 226.2 450.8 231.2 463.2 232.8 471.8 287.8 471.8 287.8 450.2 279.8 450.2 271.8 448.8 266.2 446.8 263.8 444.8 262.2 439.2 262.2 430.8 262.8 430.2 262.2 428.8 263.8 420.8 272.2 405.8 287.8 382.8Z"/><path fill="#3d80d4" fill-rule="evenodd" d="M128.8 395.8 121.8 393.8 114.8 393.8 92.8 396.8 80.2 396.8 79.8 397.2 58.8 396.2 58.2 395.8 56.8 396.2 52.2 395.2 52.2 471.8 72.2 471.8 73.8 463.8 87.8 435.2 94.2 426.2 103.8 418.2 121.2 405.8 123.8 403.2 125.2 399.2ZM52.2 347.2 52.2 359.8 112.8 360.2 113.2 360.8 121.8 360.8 134.2 362.2 133.8 360.8 130.8 359.2 120.2 355.8 115.2 352.8 109.8 351.2 104.2 351.2 103.8 352.8 105.2 354.8 103.8 355.8 86.2 355.2 83.2 354.8 82.2 353.8 87.2 351.2 82.8 349.8 66.2 347.2ZM287.8 339.2 285.2 339.2 271.8 344.8 261.2 348.2 255.8 349.2 252.8 351.2 252.8 353.8 254.2 355.2 258.8 356.2 266.2 359.8 267.2 361.2 262.8 370.8 249.2 395.2 240.8 404.8 235.2 407.2 231.2 407.2 227.8 408.2 218.8 407.2 211.8 405.2 202.8 399.8 198.8 399.2 199.2 401.8 211.2 415.2 218.8 426.8 220.8 433.2 223.8 439.2 224.8 444.2 231.8 463.2 233.2 471.8 287.8 471.8 287.8 452.8 276.2 452.2 268.2 450.8 264.2 449.2 261.2 445.8 260.2 438.2 260.8 428.2 262.2 420.2 267.8 409.8 287.8 379.8Z"/><path fill="#3f8cdd" fill-rule="evenodd" d="M125.2 395.2 122.2 394.2 112.8 394.2 92.8 397.2 80.8 397.2 80.2 397.8 52.2 396.2 52.2 471.8 70.8 471.8 71.8 468.2 71.8 464.8 74.8 456.8 86.2 434.2 94.8 424.2 104.8 416.2 113.8 410.8 123.2 403.2 126.2 396.2ZM52.2 347.8 52.2 359.2 117.2 360.2 117.8 360.8 133.2 361.8 131.2 359.8 122.8 356.8 118.8 356.2 112.8 352.8 109.2 351.8 105.8 351.8 105.2 352.8 107.2 353.8 107.8 354.8 102.8 356.2 82.2 355.2 79.8 354.2 80.2 353.2 83.8 351.2 82.2 350.2 69.8 347.8 63.2 347.8 62.8 347.2ZM287.8 339.2 282.2 340.2 270.8 345.2 258.2 349.2 256.2 349.2 253.2 350.8 252.8 353.2 253.8 354.8 259.2 356.2 266.8 359.8 267.2 362.2 260.8 375.8 257.2 380.8 248.8 396.8 240.8 405.2 236.2 407.2 230.2 408.2 219.2 407.8 211.2 405.2 208.2 402.8 202.2 399.8 199.2 399.2 198.8 400.2 209.2 412.2 218.2 424.8 220.8 430.8 220.8 432.2 223.8 438.2 228.8 454.8 232.2 463.2 233.8 471.8 287.8 471.8 287.8 454.2 286.8 453.8 276.2 453.8 266.2 452.2 262.8 450.8 260.2 447.2 259.2 438.8 259.8 428.2 261.8 418.8 269.8 404.8 287.8 378.2Z"/><path fill="#3e9ae3" fill-rule="evenodd" d="M124.2 395.8 122.2 394.8 111.8 394.8 92.8 397.8 81.2 397.8 80.8 398.2 66.8 397.8 66.2 397.2 58.2 397.2 57.8 397.8 52.2 397.2 52.2 471.8 69.8 471.8 70.8 463.8 73.2 456.8 79.2 443.8 82.8 438.8 85.8 432.8 90.2 427.2 96.2 421.8 121.8 404.2 124.2 399.8 124.8 397.8ZM52.2 347.8 52.2 359.2 111.2 359.8 111.8 360.2 131.8 361.2 131.2 360.2 127.8 358.8 118.2 356.2 113.2 356.2 112.8 355.8 95.8 356.2 95.2 355.8 79.8 355.2 78.2 354.8 77.8 353.8 80.8 352.2 81.2 351.2 76.8 349.2 67.2 347.8ZM287.8 339.2 281.2 340.8 263.8 347.8 255.2 349.8 253.2 351.2 252.8 352.8 254.2 354.8 259.8 356.2 266.2 359.2 267.8 360.8 267.8 361.8 261.2 375.8 257.2 381.8 249.8 395.8 241.2 405.2 235.8 407.8 231.2 407.8 229.2 408.8 226.2 408.8 213.8 406.8 208.8 403.2 201.8 399.8 199.2 399.8 199.8 401.8 209.8 412.2 209.8 413.2 213.8 417.8 218.8 425.2 221.8 433.8 223.8 437.2 227.8 450.8 232.8 463.8 232.8 466.2 234.2 471.8 287.8 471.8 287.8 455.2 280.2 455.2 263.8 453.2 260.8 450.8 258.8 444.2 258.8 431.8 260.8 419.2 266.2 408.8 287.8 376.8Z"/><path fill="#3ca8e8" fill-rule="evenodd" d="M123.2 395.8 120.2 394.8 116.2 394.8 92.2 398.2 80.8 398.2 80.2 398.8 66.8 398.2 66.2 397.8 59.2 397.8 58.8 398.2 52.2 397.8 52.2 471.8 68.8 471.8 69.8 467.8 69.8 463.8 72.8 455.2 78.2 443.2 84.2 433.2 92.2 423.8 121.8 403.8 123.8 400.2ZM52.2 348.2 52.2 358.8 52.8 359.2 68.2 359.2 68.8 359.8 93.8 359.2 94.2 359.8 113.2 359.8 113.8 360.2 130.2 360.8 128.2 359.2 123.8 357.8 116.2 356.2 108.8 355.8 108.2 356.2 97.8 356.8 93.8 355.8 77.2 355.2 75.8 354.2 79.8 351.2 75.2 349.2 65.2 347.8 52.8 347.8ZM287.8 339.2 280.2 341.2 271.2 345.2 260.8 348.8 255.2 349.8 253.2 351.2 253.8 354.2 266.8 359.2 267.8 360.2 267.8 362.2 260.2 378.2 256.8 383.2 249.8 396.2 241.8 405.2 234.8 408.2 230.2 408.8 219.2 408.2 211.2 405.8 209.2 403.8 201.2 399.8 199.8 399.8 199.8 401.2 212.2 415.2 212.2 416.2 216.8 421.2 219.8 426.8 221.2 431.8 224.8 438.8 227.2 448.2 232.8 462.8 234.2 471.8 287.8 471.8 287.8 455.8 275.8 455.8 265.8 454.8 262.2 453.8 260.2 451.8 258.8 448.2 258.2 438.2 257.8 437.8 259.2 423.2 261.8 415.8 266.2 407.8 287.8 375.8Z"/><path fill="#3ab6ed" fill-rule="evenodd" d="M122.2 395.8 120.8 395.2 109.8 395.8 85.8 399.2 52.2 398.2 52.2 471.8 68.2 471.8 69.2 462.8 73.2 451.8 74.8 449.8 77.2 443.2 84.8 431.2 91.8 423.2 93.2 422.8 103.8 414.8 121.2 403.8 123.2 400.8 123.2 396.8ZM52.2 348.2 52.2 358.8 128.2 360.2 122.8 357.8 117.2 356.8 111.8 356.8 111.2 356.2 96.2 356.8 95.8 356.2 78.2 355.8 75.2 355.2 74.2 354.2 77.8 351.8 77.8 350.8 75.8 349.8 61.8 347.8ZM287.8 339.2 281.8 340.8 270.2 345.8 261.2 348.8 255.8 349.8 253.2 351.8 253.2 353.2 254.8 354.8 259.2 355.8 266.2 358.8 268.2 360.8 268.2 361.8 262.8 372.8 260.8 378.2 256.2 384.8 252.2 392.8 247.2 399.8 241.2 405.8 235.8 408.2 231.2 408.2 226.2 409.2 212.8 406.8 208.2 403.2 203.2 400.8 199.8 400.2 200.2 401.8 204.2 405.8 205.2 407.8 209.8 411.8 217.2 421.8 219.8 426.2 221.8 432.2 225.2 439.2 225.8 442.8 233.2 463.2 234.8 471.8 287.8 471.8 287.8 456.8 276.2 456.8 274.2 455.8 267.2 455.8 261.2 454.2 259.8 452.8 258.2 448.8 257.8 438.2 257.2 437.8 258.8 423.8 260.8 416.8 265.2 408.2 287.8 374.8Z"/><path fill="#39bfeb" fill-rule="evenodd" d="M121.2 395.8 112.2 395.8 108.8 396.8 104.8 396.8 98.8 398.2 86.2 399.8 75.2 399.8 68.8 398.8 59.8 398.8 59.2 399.2 52.2 398.8 52.2 471.8 67.8 471.8 68.2 463.8 71.2 454.8 76.2 443.2 84.2 430.8 92.2 422.2 121.2 403.2 122.8 401.2 122.8 397.2ZM52.2 348.2 52.2 358.8 111.8 359.2 112.2 359.8 122.8 359.8 123.2 360.2 126.8 359.8 121.2 357.8 112.2 356.8 95.2 356.8 94.8 356.2 75.8 355.8 72.8 354.2 76.8 351.2 72.8 349.2 66.8 348.2ZM287.8 339.8 280.8 341.2 269.2 346.2 256.2 349.8 253.8 351.2 253.2 352.8 254.2 354.2 266.8 358.8 268.2 360.2 268.2 362.2 263.2 372.2 261.8 377.2 257.2 383.8 249.8 397.2 241.8 405.8 234.2 408.8 225.8 409.2 212.8 406.8 208.8 403.8 202.8 400.8 200.2 400.2 200.2 401.2 210.2 412.2 218.8 423.2 225.2 438.8 229.8 453.8 233.2 462.2 234.8 471.8 287.8 471.8 287.8 457.2 275.8 457.2 271.2 456.2 264.8 456.2 261.2 455.2 258.2 451.2 257.2 445.2 257.2 431.8 259.2 419.2 264.8 408.2 287.8 374.2Z"/><path fill="#3bbddf" fill-rule="evenodd" d="M121.2 396.8 120.2 396.2 109.8 396.8 95.2 399.2 90.8 400.8 79.8 401.2 79.2 401.8 64.8 399.2 63.2 399.8 61.2 399.2 57.2 400.2 52.2 399.8 52.2 471.8 66.8 471.8 67.2 463.2 69.8 457.2 70.2 454.2 75.2 442.8 82.2 431.8 91.2 421.8 120.2 403.2 122.2 400.8 122.2 398.2ZM52.2 348.8 52.2 358.2 68.8 358.8 69.2 359.2 73.8 358.8 122.8 359.2 117.8 357.8 112.8 357.8 108.8 356.8 108.2 357.2 95.8 357.2 95.2 356.8 84.2 356.8 83.8 356.2 72.2 355.8 70.8 354.2 74.2 351.8 74.2 350.8 72.2 349.8 61.8 348.2ZM287.8 339.8 281.2 341.2 271.2 345.8 260.8 349.2 255.2 350.2 253.8 351.8 253.8 353.2 254.8 354.2 260.2 355.8 267.2 358.8 268.8 360.2 268.8 361.8 263.2 373.2 262.8 376.2 261.2 379.2 258.8 382.2 250.2 397.2 241.8 406.2 236.2 408.8 226.2 409.8 213.8 407.2 204.2 401.8 201.2 401.2 205.8 407.8 207.8 409.2 217.8 421.2 220.2 425.8 225.8 438.8 230.2 453.8 233.8 462.2 235.2 471.8 287.8 471.8 287.8 458.2 275.8 458.2 270.2 457.2 263.8 457.2 260.8 456.2 257.2 451.8 256.8 439.2 256.2 438.8 257.8 423.8 258.8 419.2 261.2 413.2 264.2 407.8 287.8 373.2Z"/><path fill="#3dbbd2" fill-rule="evenodd" d="M120.2 397.2 111.8 397.2 108.8 398.2 104.8 398.2 95.8 400.2 91.2 402.2 80.2 402.8 79.8 403.2 76.2 403.2 74.8 402.2 70.8 402.2 69.8 401.2 66.2 401.2 62.2 400.2 52.2 400.8 52.2 471.8 65.8 471.8 66.2 463.2 67.2 461.8 69.8 452.8 74.8 441.8 81.8 430.8 90.8 421.2 102.2 413.2 105.8 411.8 119.8 402.8 121.8 400.8 121.8 398.8ZM52.2 349.2 52.2 357.8 54.2 358.2 67.2 358.2 67.8 358.8 80.2 358.8 80.8 358.2 94.8 358.2 95.2 358.8 112.2 358.2 114.2 358.8 114.8 358.2 71.8 356.2 68.8 354.8 69.8 353.2 72.2 351.8 71.2 350.2 63.8 348.8ZM287.8 339.8 279.2 342.2 267.8 347.2 261.8 349.2 255.8 350.2 254.2 351.2 253.8 352.8 255.2 354.2 259.8 355.2 267.8 358.8 269.2 361.8 263.8 372.8 262.8 377.8 258.8 383.2 250.8 397.2 241.8 406.8 235.8 409.2 226.2 409.8 216.8 408.2 211.2 406.2 206.8 403.2 202.8 402.2 205.8 407.2 219.2 423.2 222.8 430.2 234.2 462.2 235.8 471.8 287.8 471.8 287.8 459.2 275.8 459.2 272.2 458.2 261.2 457.8 257.8 454.8 256.8 452.8 256.8 448.2 255.8 444.2 256.2 430.8 257.8 420.8 259.2 416.2 264.2 406.8 287.8 371.8Z"/><path fill="#3fb9c6" fill-rule="evenodd" d="M120.2 398.2 116.2 397.8 106.8 398.8 91.2 403.2 80.2 403.8 79.8 404.2 66.2 402.8 65.2 401.8 61.8 401.2 60.2 401.8 52.2 401.2 52.2 471.8 65.2 471.8 65.8 462.8 68.8 453.2 74.2 440.8 80.8 430.8 90.8 420.2 99.8 414.8 101.8 412.8 107.2 410.2 115.8 404.2 119.8 402.2 121.2 400.8ZM52.2 349.8 52.8 354.2 52.2 357.2 53.8 357.8 61.2 357.8 61.8 358.2 86.2 357.8 69.8 356.2 67.8 355.2 67.2 353.8 69.2 352.8 70.2 351.2 67.2 349.8 64.8 349.2ZM287.8 340.2 281.2 341.8 271.2 346.2 261.2 349.8 255.2 350.8 254.2 351.8 254.2 352.8 255.8 354.2 259.2 354.8 268.2 358.8 269.8 361.2 263.8 373.8 263.2 377.8 259.2 383.2 251.2 397.2 242.2 406.8 235.8 409.2 225.8 409.8 216.2 408.2 209.8 405.8 205.8 403.2 204.2 403.2 204.8 405.2 207.8 409.8 210.2 411.8 219.2 422.8 226.8 438.8 231.2 453.8 233.2 457.8 235.2 464.8 236.2 471.8 287.8 471.8 287.8 459.8 265.8 459.2 260.2 458.2 256.8 454.8 255.2 444.2 255.2 436.2 256.8 423.2 257.8 418.8 260.8 411.8 271.8 395.2 272.8 392.8 287.8 371.2ZM271.2 365.2 272.2 366.8 270.2 368.8 269.8 367.2Z"/><path fill="#40b5b8" fill-rule="evenodd" d="M120.2 398.8 115.8 399.2 112.2 398.8 91.8 403.8 80.8 404.2 80.2 404.8 70.2 404.2 68.8 403.2 65.2 403.2 61.8 402.2 58.8 402.8 52.2 401.8 52.2 471.8 64.2 471.8 65.2 466.8 65.2 462.2 68.2 452.8 73.2 441.2 80.2 430.2 89.8 420.2 100.8 413.2 101.2 412.2 119.8 402.2 121.2 400.8ZM52.2 350.2 52.2 352.8 56.2 354.8 53.8 356.8 59.2 357.8 73.2 357.8 64.8 354.8 65.8 353.2 68.2 351.8 66.8 350.2 64.8 349.8ZM287.8 340.2 280.8 342.2 263.8 349.2 258.8 350.8 256.2 350.8 254.8 351.8 254.8 353.2 260.2 354.8 267.8 358.2 269.8 360.2 269.8 363.8 264.2 373.2 263.8 377.2 262.2 380.2 258.8 384.8 251.2 397.8 242.8 406.8 236.2 409.2 225.8 409.8 216.2 408.2 205.2 403.8 206.2 407.8 207.8 408.8 219.2 422.8 226.8 438.2 233.2 456.8 233.2 458.2 234.2 459.8 234.2 461.2 235.2 462.8 235.2 465.8 236.8 471.8 287.8 471.8 287.8 460.8 263.2 459.8 259.8 458.8 256.8 455.8 255.8 453.8 255.8 448.2 254.8 443.8 255.2 441.2 254.8 436.2 256.8 420.8 260.2 411.8 268.2 398.8 271.2 395.2 272.2 392.8 275.8 388.8 287.8 371.2ZM272.2 363.8 273.2 365.2 272.8 367.8 270.8 370.2 269.8 370.2 268.8 368.8 268.8 366.8 270.2 364.2Z"/><path fill="#40b1ab" fill-rule="evenodd" d="M120.2 398.8 107.2 400.2 91.8 404.2 80.8 404.8 80.2 405.2 65.8 404.2 64.8 403.2 61.2 402.8 58.8 403.2 52.2 402.2 52.2 471.8 64.2 471.8 64.8 462.2 67.8 452.8 73.2 440.2 80.2 429.8 90.2 419.2 101.2 412.2 119.8 402.2 121.2 400.8ZM56.8 356.2 58.8 357.2 68.8 357.2 67.2 356.2 62.8 355.2 59.2 355.2ZM52.2 351.2 52.8 352.2 57.2 353.8 62.8 353.8 66.8 351.8 66.2 350.8 61.2 349.8 54.2 350.2ZM287.8 340.8 282.8 341.8 260.2 350.8 256.8 350.8 254.8 352.2 256.2 353.8 259.8 354.2 268.2 358.2 270.2 360.2 270.8 362.8 272.2 362.2 273.2 362.8 273.8 366.2 270.2 371.2 268.2 369.8 267.8 368.2 264.2 373.8 263.8 378.2 258.8 385.2 250.8 398.8 242.8 406.8 236.2 409.2 225.8 409.8 216.2 408.2 205.8 404.2 206.2 407.8 207.8 408.8 219.2 422.8 226.8 438.2 230.2 449.2 234.8 460.2 236.8 471.8 287.8 471.8 287.8 461.2 263.8 460.2 260.8 459.8 256.8 456.8 255.2 453.2 254.8 437.8 254.2 437.2 256.8 418.8 260.8 410.2 265.2 402.8 287.8 371.2Z"/><path fill="#40ac9d" fill-rule="evenodd" d="M120.2 398.8 107.2 400.2 92.2 404.2 81.2 404.8 80.8 405.2 69.2 404.8 52.2 402.2 52.2 471.8 63.8 471.8 64.2 461.8 66.8 453.8 72.8 440.2 79.8 429.2 89.8 419.2 101.8 411.8 120.2 401.8 121.2 400.2ZM61.2 356.2 61.2 356.8 65.8 356.8ZM54.2 351.2 54.8 352.2 58.8 353.2 63.8 352.8 65.2 351.8 62.2 350.2 57.2 350.2ZM287.8 340.8 268.2 347.8 262.2 350.8 255.2 351.8 255.2 352.8 256.8 353.8 260.8 354.2 268.8 358.2 271.8 361.8 274.8 359.8 275.8 360.2 274.2 362.2 274.2 365.8 270.8 371.2 268.8 371.8 267.8 369.8 266.2 370.8 264.2 374.8 263.8 378.8 258.8 385.8 252.8 396.2 250.2 399.8 242.8 406.8 236.2 409.2 225.8 409.8 216.2 408.2 209.2 405.2 206.2 404.8 206.2 407.2 219.2 422.8 226.8 438.2 230.2 449.2 235.8 462.8 237.2 471.8 287.8 471.8 287.8 461.2 274.2 461.2 273.8 460.8 260.8 460.2 258.2 458.8 255.8 455.8 254.8 452.2 255.2 449.2 254.2 445.2 254.2 435.2 254.8 434.8 254.2 432.8 256.8 418.8 259.2 412.2 263.8 404.8 287.8 371.2ZM272.2 350.8 269.2 353.2 263.2 353.2 261.8 351.8 263.2 350.8 268.8 350.8 269.2 350.2Z"/><path fill="#40a890" fill-rule="evenodd" d="M120.8 399.2 119.8 398.8 113.2 399.2 96.8 402.8 91.2 404.8 80.2 405.2 79.8 405.8 70.2 405.2 68.8 404.2 52.2 402.8 52.2 471.8 63.2 471.8 63.8 462.8 66.8 452.8 72.2 440.2 79.2 429.8 89.8 419.2 101.8 411.8 120.2 401.8 121.2 400.2ZM56.2 351.2 57.2 352.2 63.2 351.8 61.2 350.8ZM287.8 345.8 283.2 346.8 279.2 348.8 271.2 354.8 261.2 353.8 259.8 351.8 255.8 351.8 256.2 353.2 260.8 353.8 267.8 357.2 271.2 360.2 272.8 360.2 274.8 358.2 277.2 358.2 278.2 359.8 276.2 362.2 275.2 362.2 274.8 365.2 269.8 372.8 267.8 371.2 265.8 372.2 264.8 373.8 264.2 378.2 259.2 385.2 251.2 398.8 242.8 406.8 236.8 409.2 225.2 409.8 215.8 408.2 208.8 405.2 206.2 405.2 206.2 407.2 219.8 423.2 226.8 437.8 230.2 449.2 235.8 462.2 237.2 471.8 287.8 471.8 287.8 461.8 261.8 461.2 258.2 459.2 256.2 457.2 254.8 453.8 254.8 448.2 253.8 444.2 254.2 431.2 255.2 428.8 256.8 418.8 259.2 412.2 262.2 406.8 270.2 396.2 271.8 393.2 278.8 384.2 287.8 370.8ZM281.2 343.8 277.2 344.8 266.8 349.2 267.2 349.8 270.2 349.2ZM287.8 341.2 282.2 343.2 287.8 342.8Z"/><path fill="#49a485" fill-rule="evenodd" d="M120.8 399.2 119.8 398.8 113.2 399.2 105.2 400.8 103.8 401.8 91.2 404.8 80.2 405.2 79.8 405.8 70.2 405.2 52.2 402.8 52.2 471.8 63.2 471.8 63.8 462.8 66.8 452.8 72.2 440.2 79.2 429.8 89.8 419.2 101.8 411.8 120.2 401.8ZM256.2 352.2 256.2 352.8 258.8 352.8 257.8 351.8ZM287.8 347.2 285.8 347.2 281.8 348.8 273.8 355.8 264.2 354.8 264.8 355.8 268.2 357.2 271.2 359.8 274.8 356.8 279.2 358.2 269.2 373.2 266.8 372.2 265.2 373.8 264.2 378.8 259.2 385.8 251.2 399.2 242.2 407.2 236.8 409.2 231.8 409.2 226.2 410.2 216.8 408.8 208.8 405.2 206.2 405.8 206.2 407.2 219.8 423.2 226.8 437.8 231.8 451.8 231.8 453.2 235.8 462.2 237.8 471.8 287.8 471.8 287.8 461.8 259.8 461.2 255.2 456.2 254.2 453.2 254.2 445.2 253.8 444.8 253.8 436.2 254.8 427.8 255.8 425.8 256.8 418.8 259.8 410.8 287.8 370.8Z"/><path fill="#52a17b" fill-rule="evenodd" d="M120.8 399.2 112.2 399.8 91.8 404.8 80.8 405.2 80.2 405.8 69.8 405.2 52.2 402.8 52.2 471.8 63.2 471.8 63.8 462.2 66.8 452.2 72.2 439.8 79.2 429.2 89.2 419.2 101.2 411.8 119.8 401.8 120.8 400.8ZM266.2 355.8 270.8 358.8 272.2 358.2 272.2 356.8 271.2 356.2ZM287.8 348.2 284.2 348.8 278.8 352.8 277.2 355.8 278.2 357.2 279.8 357.8 270.2 372.2 268.8 373.8 266.2 373.2 265.2 374.2 264.8 378.2 259.8 385.2 252.2 398.2 242.2 407.2 235.8 409.8 226.2 410.2 216.8 408.8 208.8 405.2 206.2 405.8 206.2 407.2 219.8 423.2 227.2 438.8 230.2 448.8 235.8 462.2 237.8 471.8 287.8 471.8 287.8 461.8 259.2 461.2 255.8 457.8 254.2 454.8 254.2 445.8 253.8 445.2 253.8 436.2 254.8 427.8 256.8 418.2 259.2 413.2 259.8 410.8 287.8 370.8Z"/><path fill="#5b9970" fill-rule="evenodd" d="M120.2 399.2 112.2 399.8 91.8 404.8 80.8 405.2 80.2 405.8 69.8 405.2 52.2 402.8 52.2 471.8 63.2 471.8 63.8 462.2 66.8 452.2 72.2 439.8 79.2 429.2 89.2 419.2 101.2 411.8 119.8 401.8 120.8 400.8ZM268.8 356.2 270.8 358.2 271.8 357.8ZM287.8 348.8 284.8 349.2 280.2 352.2 278.8 354.8 278.8 356.8 279.8 357.8 268.8 374.2 268.2 373.8 265.8 374.2 264.8 378.8 258.8 387.2 252.2 398.2 242.2 407.2 235.8 409.8 225.8 410.2 216.2 408.8 208.8 405.2 206.2 405.8 206.2 407.2 219.8 422.8 223.2 429.8 224.8 434.2 227.2 438.8 230.8 449.8 235.8 461.8 237.8 471.8 287.8 471.8 287.8 461.8 259.2 461.2 255.8 458.2 254.2 455.2 253.8 451.2 254.2 450.8 253.8 436.2 254.8 427.2 256.8 418.2 260.2 409.8 287.8 370.8Z"/><path fill="#639166" fill-rule="evenodd" d="M120.2 399.2 107.2 400.8 91.8 404.8 80.8 405.2 80.2 405.8 69.8 405.2 52.2 402.8 52.2 471.8 63.2 471.8 63.8 462.2 66.8 452.2 72.2 439.8 79.2 429.2 89.2 419.2 101.2 411.8 119.8 401.8 120.8 400.8ZM287.8 349.2 283.2 350.2 280.2 352.8 279.2 354.8 279.2 356.8 280.2 357.2 268.8 374.2 267.8 373.8 265.8 374.8 264.8 378.8 252.2 398.2 242.2 407.2 236.2 409.8 225.8 410.2 216.2 408.8 208.8 405.2 206.2 405.8 206.2 407.2 219.8 422.8 227.2 438.2 230.8 449.8 235.8 461.8 237.8 471.8 287.8 471.8 287.8 461.8 259.2 461.2 257.8 460.8 255.2 457.8 254.2 455.8 253.8 451.2 254.2 450.8 253.8 436.2 254.8 427.2 256.8 418.2 259.8 410.8 262.8 405.8 269.8 396.8 271.2 393.8 275.8 388.2 287.8 370.8Z"/><path fill="#6b885c" fill-rule="evenodd" d="M120.2 399.2 107.2 400.8 91.8 404.8 80.8 405.2 80.2 405.8 69.8 405.2 52.2 402.8 52.2 471.8 63.2 471.8 63.8 462.2 66.8 452.2 72.2 439.8 79.2 429.2 89.2 419.2 101.2 411.8 119.8 401.8 120.8 400.8ZM287.8 349.8 285.2 349.8 280.8 352.8 279.2 355.8 280.2 357.2 269.8 373.2 265.8 375.2 264.8 379.2 260.2 385.2 257.8 390.2 252.2 398.2 242.8 407.2 236.2 409.8 225.8 410.2 216.2 408.8 208.8 405.2 206.8 405.2 206.2 407.2 219.8 422.8 227.2 438.2 232.2 453.8 235.2 460.2 237.8 471.8 287.8 471.8 287.8 461.8 259.2 461.2 257.8 460.8 254.2 456.2 253.8 451.8 254.2 450.8 253.8 435.8 254.8 427.2 256.8 418.2 259.2 411.8 262.8 405.8 269.8 396.8 272.2 392.2 274.2 390.2 287.8 370.8Z"/><path fill="#737f51" fill-rule="evenodd" d="M120.2 399.2 107.2 400.8 91.8 404.8 80.8 405.2 80.2 405.8 69.8 405.2 52.2 402.8 52.2 471.8 63.2 471.8 63.8 462.2 66.8 452.2 72.2 439.8 79.2 429.2 89.2 419.2 101.2 411.8 119.8 401.8 120.8 400.8ZM287.8 349.8 284.8 350.2 280.8 353.2 279.8 355.2 280.2 357.2 269.8 373.2 268.2 374.8 267.8 374.2 266.2 375.2 265.2 378.8 260.8 384.8 252.2 398.2 242.8 407.2 236.2 409.8 225.8 410.2 216.2 408.8 210.8 406.8 208.8 405.2 207.2 405.2 206.2 406.2 206.8 407.8 219.8 422.8 227.2 438.2 230.8 449.2 233.2 454.8 233.2 456.2 236.2 462.8 236.2 465.8 237.8 471.8 287.8 471.8 287.8 461.8 257.2 460.8 254.2 456.8 253.8 452.2 254.2 450.8 253.8 435.8 256.8 417.8 261.8 407.2 287.8 370.8Z"/><path fill="#7b7647" fill-rule="evenodd" d="M120.2 399.2 107.2 400.8 91.8 404.8 80.8 405.2 80.2 405.8 69.8 405.2 52.2 402.8 52.2 471.8 63.2 471.8 63.8 462.2 66.8 452.2 72.2 439.8 79.2 429.2 89.2 419.2 101.2 411.8 119.8 401.8 120.8 400.8ZM287.8 350.2 284.2 350.8 280.8 353.8 280.2 357.2 269.2 374.2 266.2 375.8 263.8 381.2 252.8 397.8 242.8 407.2 236.2 409.8 225.8 410.2 216.2 408.8 210.8 406.8 208.8 405.2 207.2 405.2 206.2 406.2 206.8 407.8 208.2 408.8 219.8 422.8 227.2 438.2 230.8 449.2 236.2 462.8 237.8 471.8 287.8 471.8 287.8 461.8 257.2 460.8 254.2 456.8 253.8 452.8 254.2 447.2 253.2 442.2 255.2 424.2 256.8 417.8 259.2 411.8 263.8 404.2 287.8 370.8Z"/><path fill="#846d3e" fill-rule="evenodd" d="M120.2 399.2 107.2 400.8 91.8 404.8 80.8 405.2 80.2 405.8 69.8 405.2 52.2 402.8 52.2 471.8 63.2 471.8 63.8 462.2 66.8 452.2 72.2 439.8 79.2 429.2 89.2 419.2 101.2 411.8 119.8 401.8 120.8 400.8ZM287.8 350.2 283.2 351.8 280.8 354.2 281.2 355.8 271.8 369.8 268.2 375.8 267.2 375.2 266.2 376.2 265.2 379.2 252.8 397.8 242.8 407.2 236.2 409.8 225.8 410.2 216.2 408.8 208.2 405.2 206.2 406.2 206.8 407.8 208.2 408.8 219.8 422.8 227.2 438.2 230.8 449.2 235.2 459.8 237.8 471.8 287.8 471.8 287.8 461.8 256.8 460.8 254.2 457.2 253.8 452.8 254.2 447.2 253.2 442.2 255.8 421.2 259.8 410.2 287.8 370.2Z"/><path fill="#8d6739" fill-rule="evenodd" d="M120.2 399.2 107.2 400.8 91.8 404.8 80.8 405.2 80.2 405.8 69.8 405.2 52.2 402.8 52.2 471.8 63.2 471.8 63.8 462.2 66.8 452.2 72.2 439.8 79.2 429.2 89.2 419.2 101.2 411.8 119.8 401.8 120.8 400.8ZM287.8 351.8 285.8 351.8 281.8 354.8 268.8 375.2 266.8 376.8 266.2 378.8 261.8 384.2 251.8 399.2 242.8 407.2 236.2 409.8 225.8 410.2 216.2 408.8 208.2 405.2 206.2 406.2 219.8 422.8 227.2 438.2 230.8 449.2 236.2 462.2 238.2 471.8 287.8 471.8 287.8 461.8 256.2 460.8 254.2 457.8 253.8 453.8 254.2 448.8 253.2 443.8 253.8 440.8 253.2 436.8 256.2 418.8 258.8 412.2 261.8 406.8 287.8 370.2Z"/><path fill="#986034" fill-rule="evenodd" d="M120.2 399.2 107.2 400.8 92.2 404.8 81.2 405.2 80.8 405.8 69.2 405.2 52.2 402.8 52.2 471.8 63.2 471.8 63.8 461.8 66.8 451.8 72.2 439.2 79.2 428.8 88.8 419.2 100.8 411.8 119.2 401.8 120.8 400.2ZM287.8 351.8 284.2 352.8 281.8 355.2 267.8 377.2 263.2 382.2 252.8 398.2 242.8 407.2 236.2 409.8 225.8 410.2 216.2 408.8 209.2 406.2 208.2 405.2 206.8 405.8 206.8 407.2 219.8 422.8 227.2 438.2 230.8 449.2 236.2 462.2 238.2 471.8 287.8 471.8 287.8 461.8 255.8 460.8 254.2 458.2 253.8 455.2 253.8 445.8 253.2 445.2 253.8 430.8 256.8 416.8 262.2 405.8 269.2 396.8 271.8 392.2 276.2 386.8 287.8 369.8Z"/><path fill="#a25930" fill-rule="evenodd" d="M120.2 399.8 119.2 399.2 110.8 400.2 109.8 401.2 107.8 400.8 106.8 401.8 104.8 401.8 92.2 405.2 81.2 405.8 80.8 406.2 69.2 405.8 52.2 403.2 52.2 471.8 62.8 471.8 63.2 461.8 66.2 451.8 71.8 439.2 78.8 428.8 88.8 418.8 100.8 411.2 120.2 400.8ZM287.8 351.8 284.2 352.8 281.8 355.2 268.2 376.8 261.8 384.8 252.8 398.2 243.2 407.2 236.8 409.8 225.2 410.2 215.8 408.8 210.2 406.2 206.8 405.8 206.8 407.2 208.2 409.2 210.8 411.2 219.8 422.2 227.2 437.8 230.8 448.8 236.2 462.2 238.2 471.8 287.8 471.8 287.8 462.2 255.2 461.2 254.2 460.2 254.8 459.8 253.8 456.8 253.2 452.8 253.8 447.8 252.8 442.2 255.2 421.2 259.2 410.2 287.8 369.8Z"/><path fill="#ac5330" fill-rule="evenodd" d="M119.8 399.8 110.8 400.8 110.2 401.8 107.8 401.2 107.2 402.2 105.2 401.8 104.8 402.8 92.2 405.8 81.2 406.2 80.8 406.8 69.2 406.2 52.2 403.8 52.2 471.8 62.2 471.8 62.8 461.8 65.8 451.8 71.2 439.2 78.2 428.8 88.8 418.2 100.8 410.8 111.8 405.2 119.2 400.8ZM287.8 352.2 285.8 352.2 282.8 354.2 267.2 378.8 258.8 389.8 252.8 399.2 243.2 408.2 236.8 410.8 225.2 411.2 215.8 409.8 211.8 408.2 210.2 406.2 206.8 405.8 206.8 407.2 211.8 411.2 220.8 422.2 228.2 437.8 231.8 448.8 236.2 459.2 238.8 471.8 287.8 471.8 287.8 462.8 258.8 462.2 254.2 461.2 253.2 456.2 253.2 444.8 252.8 444.2 253.2 440.8 252.8 436.2 256.8 415.8 261.2 406.8 269.2 396.2 271.8 391.8 276.2 386.2 287.8 369.2Z"/><path fill="#b74d30" fill-rule="evenodd" d="M119.8 400.2 107.8 401.8 92.2 405.8 81.2 406.2 80.8 406.8 69.2 406.2 52.2 403.8 52.2 471.8 62.2 471.8 62.8 461.8 65.8 451.8 71.2 439.2 78.2 428.8 88.8 418.2 100.8 410.8 111.8 405.2ZM287.8 352.2 284.2 353.2 282.2 355.2 253.8 398.8 243.2 408.2 236.8 410.8 225.2 411.2 215.8 409.8 210.2 407.8 209.8 406.2 208.8 405.8 206.8 406.2 206.8 407.2 208.2 407.8 219.2 420.2 224.2 429.2 228.2 437.8 231.8 448.8 237.2 461.8 239.2 471.8 287.8 471.8 287.8 462.8 255.2 461.8 253.2 460.8 253.2 452.8 252.8 452.2 253.2 450.2 252.8 436.2 253.8 427.2 254.8 425.2 255.8 418.2 258.8 410.8 261.8 405.8 287.8 369.2Z"/><path fill="#c14730" fill-rule="evenodd" d="M119.8 400.2 107.8 401.8 92.2 405.8 81.2 406.2 80.8 406.8 69.2 406.2 52.2 403.8 52.2 471.8 62.2 471.8 62.8 461.8 65.8 451.8 71.2 439.2 78.2 428.8 88.8 418.2 100.8 410.8 111.8 405.2ZM287.8 352.2 285.2 352.8 282.8 354.8 265.2 382.2 253.8 398.8 243.2 408.2 236.8 410.8 225.2 411.2 215.8 409.8 210.2 407.8 208.8 405.8 206.8 406.2 207.2 407.2 209.2 408.2 219.2 420.2 224.2 429.2 228.2 437.8 231.8 448.8 237.2 461.8 239.2 471.8 287.8 471.8 287.8 462.8 258.8 462.2 253.8 461.2 252.8 454.2 253.2 447.8 252.2 442.2 254.2 424.2 258.8 410.2 287.8 368.8Z"/><path fill="#ca4230" fill-rule="evenodd" d="M119.8 400.2 107.8 401.8 92.2 405.8 81.2 406.2 80.8 406.8 69.2 406.2 52.2 403.8 52.2 471.8 62.2 471.8 62.8 461.8 65.8 451.8 71.2 439.2 78.2 428.8 88.8 418.2 100.8 410.8 111.8 405.2ZM287.8 352.8 284.8 353.2 282.2 355.8 266.8 380.2 253.8 398.8 243.2 408.2 236.8 410.8 225.2 411.2 215.8 409.8 208.8 407.2 207.2 405.8 207.2 406.8 209.2 408.2 220.8 422.2 228.2 437.8 231.8 448.8 237.2 461.8 239.2 471.8 287.8 471.8 287.8 462.8 258.8 462.2 253.8 461.2 252.8 456.8 252.8 444.2 252.2 443.8 253.2 430.2 255.8 417.2 261.8 405.2 268.8 396.2 271.2 391.8 275.8 386.2 287.8 368.8Z"/><path fill="#d33d30" fill-rule="evenodd" d="M119.8 400.2 107.8 401.8 92.2 405.8 81.2 406.2 80.8 406.8 69.2 406.2 52.2 403.8 52.2 471.8 62.2 471.8 62.8 461.8 65.8 451.8 71.2 439.2 78.2 428.8 88.8 418.2 100.8 410.8 111.8 405.2ZM287.8 352.8 286.2 352.8 282.8 355.2 267.2 379.8 262.8 385.2 253.8 398.8 243.2 408.2 236.8 410.8 225.2 411.2 215.8 409.8 207.8 406.8 220.8 422.2 228.2 437.8 231.8 448.8 237.2 461.8 239.2 471.8 287.8 471.8 287.8 462.8 258.8 462.2 253.2 461.2 252.2 451.8 252.8 450.2 252.2 445.8 252.8 430.8 255.8 416.8 259.2 408.8 287.8 368.2Z"/><path fill="#db3c34" fill-rule="evenodd" d="M119.8 400.2 105.2 402.2 92.8 405.2 92.2 406.2 81.2 406.8 80.8 407.2 69.2 406.8 68.8 405.8 64.8 405.8 60.8 404.8 57.8 405.2 52.2 404.2 52.2 471.8 61.8 471.8 62.2 461.8 65.2 451.8 70.8 439.2 77.8 428.8 88.8 417.8 100.8 410.2ZM287.8 353.2 285.8 353.2 282.8 355.8 268.2 378.8 254.2 398.8 243.2 408.8 236.8 411.2 225.2 411.8 215.8 410.2 212.8 409.2 211.2 407.8 207.8 406.8 219.8 420.2 224.8 429.2 228.8 437.8 232.2 448.8 237.8 461.8 239.8 471.8 287.8 471.8 287.8 463.2 258.8 462.8 253.2 461.8 252.2 456.2 252.8 448.8 251.8 443.2 252.8 430.2 255.2 417.2 260.2 406.8 287.8 367.8Z"/><path fill="#e0413c" fill-rule="evenodd" d="M116.8 401.2 105.8 402.8 92.8 406.2 81.8 406.8 81.2 407.2 68.8 406.8 52.2 404.2 52.2 471.8 61.8 471.8 62.2 461.2 65.2 451.2 70.8 438.8 77.8 428.2 88.2 417.8 100.2 410.2ZM287.8 353.2 284.8 354.2 283.2 355.8 269.8 377.2 254.2 399.2 243.8 408.8 237.2 411.2 224.8 411.8 215.2 410.2 207.8 406.8 212.2 410.8 219.8 419.8 224.8 428.8 228.8 437.2 232.2 448.2 237.8 461.2 239.8 471.8 287.8 471.8 287.8 463.2 258.2 462.8 252.8 461.8 251.8 455.2 252.2 448.2 251.2 442.8 253.2 423.8 257.2 411.2 262.8 402.2 267.2 396.8 269.8 392.2 271.8 390.2 287.8 366.8Z"/><path fill="#e64644" fill-rule="evenodd" d="M106.8 404.8 93.2 408.2 81.8 408.8 81.2 409.2 74.8 409.2 73.2 408.2 63.8 407.8 52.2 405.8 52.2 471.8 60.2 471.8 60.8 460.8 63.8 450.8 69.2 437.2 76.2 426.8 87.8 415.8 99.8 408.2ZM287.8 354.2 284.2 356.2 266.2 384.8 262.8 389.2 262.2 391.2 255.8 401.2 253.2 401.8 250.8 404.8 245.2 415.2 243.8 426.2 242.2 427.2 229.8 427.2 229.2 427.8 229.2 429.8 231.8 436.8 234.2 448.8 239.2 461.2 241.2 471.8 287.8 471.8 287.8 467.8 257.8 467.2 251.2 465.8 250.8 465.2 251.2 463.2 250.8 449.8 251.2 448.8 250.2 442.8 251.8 426.2 252.8 420.8 255.2 413.2 259.8 404.8 267.8 394.2 269.2 391.2 271.2 389.2 287.8 365.2Z"/><path fill="#e94e48" fill-rule="evenodd" d="M105.8 405.2 93.2 408.2 82.2 408.8 81.8 409.2 69.8 408.8 67.8 407.8 63.8 407.8 52.2 405.8 52.2 471.8 60.2 471.8 60.8 460.8 63.8 450.2 68.8 437.8 75.8 427.2 86.8 416.2 98.8 408.8ZM287.8 354.8 286.2 354.8 284.2 356.2 268.2 381.8 263.8 387.8 261.2 393.2 256.2 401.2 253.2 402.8 251.8 404.8 246.8 415.8 244.2 431.2 242.8 432.8 232.2 432.8 231.8 433.2 233.2 444.2 235.2 449.8 235.2 451.8 239.2 460.8 241.2 471.8 287.8 471.8 287.8 467.8 257.2 467.2 251.2 465.8 250.8 465.2 251.2 457.2 250.8 456.8 250.8 444.2 250.2 443.8 251.2 429.8 253.8 416.8 257.8 407.8 287.8 365.2Z"/><path fill="#eb5a48" fill-rule="evenodd" d="M105.2 405.2 93.8 408.2 82.2 408.8 81.8 409.2 68.8 408.8 52.2 405.8 52.2 471.8 60.2 471.8 60.8 460.8 62.8 455.2 63.2 451.2 68.8 437.8 75.8 427.2 87.2 415.8ZM287.8 354.8 286.2 354.8 283.8 357.2 263.2 388.8 262.2 391.8 255.8 402.2 254.2 402.8 252.2 404.8 247.8 414.2 246.2 421.8 246.2 426.2 244.2 434.2 241.8 436.2 233.2 436.2 232.8 436.8 233.8 445.8 235.2 449.2 236.2 454.2 239.2 460.8 241.2 471.8 287.8 471.8 287.8 468.2 263.8 467.8 251.8 466.2 250.8 465.2 251.2 458.2 250.8 457.8 250.8 444.8 250.2 444.2 250.8 440.2 250.2 436.2 251.2 434.2 251.8 426.2 254.2 415.2 259.2 405.2 266.2 396.2 268.8 391.8 273.2 386.2 287.8 364.8Z"/><path fill="#ec6348" fill-rule="evenodd" d="M104.8 405.8 88.2 409.2 84.8 408.8 73.8 409.2 52.2 406.2 52.2 471.8 60.2 471.8 60.2 466.2 60.8 465.8 60.2 461.8 64.2 448.2 69.8 435.8 75.8 426.8 87.2 415.8 99.2 408.2ZM287.8 354.8 286.2 354.8 283.8 357.2 266.8 384.2 263.2 388.8 262.2 391.8 256.8 400.8 252.8 404.8 247.8 415.8 245.8 431.8 243.8 437.8 242.8 438.8 234.8 438.8 233.2 440.2 235.8 452.2 239.8 461.8 241.2 471.8 287.8 471.8 287.8 468.2 259.8 467.8 251.8 466.2 250.8 465.2 251.2 459.8 250.2 450.8 250.8 449.8 250.2 444.8 250.8 430.8 251.8 428.8 252.8 420.2 254.2 415.2 259.8 404.2 267.2 394.8 269.2 390.8 271.8 388.2 287.8 364.8Z"/><path fill="#ed7342" fill-rule="evenodd" d="M103.2 406.2 93.2 408.8 88.2 409.2 73.8 409.2 52.2 406.2 52.2 471.8 59.8 471.8 60.2 461.2 63.2 450.8 68.8 437.2 75.8 426.8 87.2 415.8 99.8 407.8ZM287.8 354.8 285.8 355.2 284.2 356.8 267.8 382.8 264.2 387.2 255.8 402.2 253.2 404.2 248.2 414.8 246.8 422.8 246.2 431.2 244.2 438.2 241.8 440.2 234.2 440.2 233.8 440.8 234.2 446.8 236.8 454.8 239.8 461.2 241.8 471.8 287.8 471.8 287.8 468.2 258.8 467.8 256.2 466.8 251.2 466.2 250.2 465.2 250.8 463.8 250.2 435.2 252.8 420.2 254.8 413.8 259.8 404.2 267.2 394.8 269.2 390.8 272.8 386.8 287.8 364.8Z"/><path fill="#ee813d" fill-rule="evenodd" d="M103.2 406.2 93.2 408.8 81.8 409.2 81.2 409.8 63.8 408.2 52.2 406.2 52.2 471.8 59.8 471.8 60.2 461.2 63.2 450.8 69.2 436.2 75.2 427.2 87.8 415.2 98.8 408.2ZM287.8 354.8 285.8 355.2 284.2 356.8 267.8 382.8 264.2 387.2 262.2 391.8 255.8 401.8 255.8 402.8 252.8 405.2 248.2 415.2 246.8 423.2 246.2 432.2 243.8 439.8 242.2 440.8 234.8 440.8 233.8 442.8 234.2 446.2 236.8 454.8 239.8 461.2 241.8 471.8 287.8 471.8 287.8 468.2 258.2 467.8 256.2 466.8 251.2 466.2 250.2 465.2 250.8 463.8 250.2 435.2 253.2 417.8 256.8 409.2 259.8 404.2 268.2 393.2 269.2 390.8 272.8 386.8 287.8 364.8Z"/><path fill="#ef8e37" fill-rule="evenodd" d="M103.2 406.2 93.2 408.8 81.8 409.2 81.2 409.8 63.8 408.2 52.2 406.2 52.2 471.8 59.8 471.8 60.2 461.2 63.2 450.8 68.2 437.8 75.2 427.2 86.8 415.8 98.8 408.2ZM287.8 354.8 285.8 355.2 284.2 356.8 263.2 389.2 255.8 401.8 255.8 402.8 253.2 404.8 248.2 415.8 246.8 424.2 246.2 432.8 244.2 439.8 242.2 441.2 234.8 441.2 234.2 442.2 234.8 448.2 239.8 461.2 241.8 471.8 287.8 471.8 287.8 468.2 258.2 467.8 251.2 466.2 250.2 465.2 250.8 463.8 250.2 435.2 251.2 426.8 252.2 425.2 253.2 417.8 256.8 409.2 259.8 404.2 268.2 393.2 269.2 390.8 287.8 364.8Z"/><path fill="#f09d31" fill-rule="evenodd" d="M103.2 406.2 93.2 408.8 81.8 409.2 81.2 409.8 63.8 408.2 52.2 406.2 52.2 471.8 59.8 471.8 60.2 461.2 63.2 450.8 68.2 437.8 75.2 427.2 86.8 415.8 98.8 408.2ZM287.8 354.8 285.8 355.2 284.2 356.8 263.2 389.2 255.8 402.8 252.2 406.8 248.2 416.2 246.8 427.2 246.8 432.8 244.2 440.2 242.2 441.8 235.2 441.8 234.2 442.8 235.8 451.2 239.8 460.8 241.8 471.8 287.8 471.8 287.8 468.2 257.8 467.8 250.2 465.8 250.8 463.8 250.2 435.2 251.2 426.8 252.2 425.2 253.8 416.2 259.8 404.2 267.8 393.8 269.2 390.8 273.8 385.2 287.8 364.8Z"/><path fill="#f1a92b" fill-rule="evenodd" d="M101.8 406.8 93.8 408.8 74.8 409.8 72.8 408.8 63.8 408.2 52.2 406.2 52.2 471.8 59.8 471.8 60.2 461.2 64.2 447.8 68.8 436.8 74.8 427.8 86.8 415.8ZM287.8 354.8 285.8 355.2 284.2 356.8 266.8 383.8 265.8 386.2 263.2 389.2 263.2 390.2 256.8 400.2 255.2 403.8 252.8 406.2 248.2 416.8 246.8 428.2 246.8 433.8 244.2 440.8 242.8 442.2 235.2 442.2 234.2 444.2 236.8 454.2 239.8 460.8 241.8 471.8 287.8 471.8 287.8 468.8 274.2 468.8 271.8 467.8 257.8 467.8 250.8 466.2 250.2 465.8 250.8 446.8 249.8 441.2 251.2 426.8 252.8 422.2 253.2 417.8 255.8 411.2 261.8 401.2 267.8 393.8 269.2 390.8 287.8 364.8Z"/><path fill="#f3b524" fill-rule="evenodd" d="M101.8 406.8 89.2 409.2 74.2 409.8 71.8 408.8 63.8 408.2 52.2 406.2 52.2 471.8 59.8 471.8 60.2 460.8 64.2 447.8 69.2 435.8 75.2 426.8 87.2 415.2ZM287.8 354.8 285.8 355.2 284.2 356.8 265.8 386.2 263.2 389.2 263.2 390.2 255.2 403.8 253.2 405.8 248.8 416.2 247.2 424.8 246.8 435.8 244.2 441.2 242.8 442.8 236.2 442.8 234.8 443.8 234.8 447.2 237.8 456.8 239.8 460.8 241.8 471.8 287.8 471.8 287.8 468.8 262.8 468.2 262.2 467.8 257.2 467.8 252.2 466.2 250.8 466.8 250.2 466.2 250.8 447.2 249.8 441.8 251.8 423.8 252.8 422.2 253.2 417.8 255.8 411.2 261.8 401.2 266.2 395.8 287.8 364.8ZM248.2 427.8 248.8 427.2 249.2 428.2 248.8 428.8ZM248.8 423.8 249.2 423.2 249.8 424.2 249.2 424.8Z"/><path fill="#f5c11d" fill-rule="evenodd" d="M101.8 406.8 92.2 409.2 89.8 408.8 81.8 409.8 74.2 409.8 52.2 406.2 52.2 471.8 59.8 471.8 60.2 460.8 63.2 450.2 68.2 437.2 75.2 426.8 87.2 415.2ZM61.8 428.2 63.2 427.8 63.8 429.2 62.2 429.8ZM287.8 354.8 284.8 356.2 266.8 384.8 263.2 389.2 262.8 391.2 251.8 409.2 249.2 415.2 248.2 419.8 246.8 438.2 246.2 438.8 245.8 438.2 244.2 441.8 241.8 443.8 235.2 443.8 234.8 445.2 236.8 453.8 239.8 460.2 241.8 471.8 287.8 471.8 287.8 468.8 261.2 468.2 254.2 467.2 251.8 466.2 250.8 467.2 250.2 466.8 250.8 447.2 249.8 441.8 251.8 423.8 256.2 409.8 287.8 364.2ZM246.8 441.2 247.2 440.8 247.8 441.8 247.2 442.2ZM247.8 434.2 248.2 434.8 247.8 439.8 247.2 439.2ZM248.2 429.2 248.8 429.8 248.2 433.8 247.8 433.2ZM248.8 424.8 249.2 425.2 248.8 428.8 248.2 428.2ZM249.2 420.2 249.8 420.8 249.2 424.8 248.8 424.2ZM249.8 417.2 250.2 417.8 249.8 419.2 249.2 418.8ZM249.8 416.2 250.2 415.8 250.8 416.2 250.2 416.8ZM250.2 414.8 250.8 414.2 251.2 414.8 250.8 415.2Z"/><path fill="#f6cd16" fill-rule="evenodd" d="M100.8 407.2 92.8 409.2 87.8 409.8 86.8 409.2 74.2 409.8 52.2 406.2 52.2 471.8 59.8 471.8 60.2 460.8 63.8 448.8 68.8 436.2 74.8 427.2 87.2 415.2 97.2 408.8ZM61.8 426.2 63.2 426.2 64.8 427.8 64.8 430.2 63.8 431.2 62.2 431.2 60.8 429.8 60.8 427.2ZM287.8 354.8 285.2 355.8 269.8 379.2 268.8 381.8 263.2 389.2 262.8 391.2 257.8 398.8 257.8 399.8 253.2 407.2 249.8 419.8 250.2 421.2 248.8 428.8 247.2 447.2 246.8 447.8 246.2 447.2 245.8 442.2 246.2 439.8 245.8 439.2 243.2 443.8 235.2 444.8 236.2 451.8 240.2 462.2 241.8 471.8 287.8 471.8 287.8 468.8 259.8 468.2 251.8 466.2 250.8 467.2 250.2 466.8 250.8 447.8 249.8 442.2 251.2 426.2 253.2 417.8 256.2 409.8 287.8 364.2Z"/><path fill="#f8d912" fill-rule="evenodd" d="M99.2 407.8 88.2 409.8 83.8 409.2 73.8 409.8 64.8 408.8 62.8 407.8 52.2 406.2 52.2 471.8 59.8 471.8 60.2 460.8 62.2 453.2 67.8 437.8 72.8 429.8 86.8 415.2ZM62.2 425.2 64.2 425.8 65.8 427.8 65.8 429.8 63.8 432.2 61.2 431.8 59.8 429.8 60.2 426.8ZM287.8 354.8 286.2 355.2 284.2 357.2 276.2 369.2 269.8 380.2 263.2 389.2 262.2 392.2 253.8 406.2 249.8 419.8 250.2 421.2 248.8 428.8 247.2 447.8 246.8 448.2 246.2 447.8 245.8 439.8 243.2 444.2 236.2 444.8 235.2 445.8 236.2 451.8 240.2 461.2 242.2 471.8 244.2 471.8 244.8 467.2 245.2 471.8 287.8 471.8 287.8 468.8 258.8 468.2 251.2 466.2 250.8 467.8 250.2 467.2 250.8 463.2 250.2 449.8 250.8 448.2 249.8 442.8 251.8 423.2 253.2 419.2 253.2 417.2 256.2 409.8 287.8 364.2ZM245.2 458.8 245.8 459.2 245.2 461.8 244.8 461.2ZM245.2 455.2 245.8 454.8 246.2 455.2 245.8 455.8Z"/><path fill="#f8db1d" fill-rule="evenodd" d="M98.8 407.8 93.8 409.2 80.2 410.2 79.8 409.8 64.2 408.8 52.2 406.2 52.2 471.8 59.8 471.8 60.2 460.2 62.2 452.8 65.2 445.8 67.2 438.8 71.8 430.8 74.8 426.8 86.8 415.2ZM62.2 424.2 65.2 425.2 66.8 427.8 66.8 430.2 64.2 433.2 61.8 433.2 59.2 430.8 59.2 426.8ZM287.8 355.2 286.2 355.2 284.2 357.2 270.8 378.8 264.2 387.8 263.2 390.8 256.8 400.8 253.2 407.8 250.2 417.2 250.8 418.2 248.8 428.8 247.2 447.8 246.8 448.2 246.2 447.8 246.2 444.2 245.2 441.8 242.2 445.8 236.2 445.8 235.8 446.2 237.2 454.2 240.2 460.8 242.2 471.8 244.2 471.8 244.8 466.8 245.2 471.8 287.8 471.8 287.8 469.2 262.8 468.8 258.2 468.2 251.2 466.2 250.8 467.8 250.2 467.2 250.8 463.2 250.2 449.2 250.8 448.8 249.8 443.2 251.8 423.2 252.8 418.2 256.2 409.8 287.2 365.2ZM245.2 458.2 245.8 458.8 245.2 461.8 244.8 461.2ZM245.8 454.2 246.2 454.8 245.8 456.2 245.2 455.8Z"/><path fill="#f8de29" fill-rule="evenodd" d="M98.8 407.8 93.8 409.2 76.8 410.2 52.2 406.8 52.2 471.8 59.8 471.8 60.2 459.8 66.2 440.8 70.2 432.2 73.2 428.2 87.2 414.8ZM62.2 423.2 64.8 423.8 67.2 426.2 68.2 428.8 67.8 431.2 64.8 434.2 61.2 434.2 58.8 431.8 58.2 430.2 58.2 427.2 59.2 425.2ZM287.8 355.2 286.2 355.2 281.2 361.8 272.8 375.8 263.8 388.8 263.2 390.8 256.8 400.8 253.2 407.8 250.8 415.8 249.2 425.2 247.2 447.8 246.8 448.2 246.2 447.8 245.2 442.8 243.2 446.2 236.2 447.2 237.2 453.8 240.8 462.8 242.2 471.8 244.2 471.8 244.2 466.8 244.8 466.2 245.2 466.8 245.2 471.8 287.8 471.8 287.8 470.2 273.2 470.2 260.2 468.8 252.8 466.8 251.2 466.8 250.8 468.2 250.2 467.8 250.8 457.2 250.2 456.8 250.2 444.2 249.8 443.8 250.8 429.8 252.2 420.2 255.8 410.8 259.8 403.8 266.8 394.8 269.2 390.2 273.8 384.8 287.8 364.2ZM245.2 458.2 245.8 458.8 245.2 462.2 244.8 461.8ZM245.8 453.2 246.2 453.8 245.8 457.2 245.2 456.8Z"/><path fill="#f8e135" fill-rule="evenodd" d="M96.8 408.8 88.2 410.2 86.8 409.8 74.2 410.2 72.8 409.2 63.8 408.8 52.2 406.8 52.2 471.8 59.2 471.8 60.2 459.2 66.2 440.2 67.2 438.8 67.2 437.2 69.8 431.8 86.8 414.8ZM62.8 422.2 65.8 423.2 69.8 427.8 69.8 431.2 66.8 434.2 63.8 435.8 60.2 434.8 58.8 433.2 57.2 429.8 58.2 425.2 60.2 423.2ZM287.8 355.2 286.2 355.2 284.8 356.8 276.8 368.8 274.8 372.8 263.2 389.8 262.8 391.8 256.2 401.8 253.2 407.8 250.8 416.2 249.2 425.2 248.8 438.2 247.8 440.2 247.2 447.8 246.8 448.2 245.2 443.8 242.2 447.8 237.2 448.2 236.8 449.2 237.8 454.8 240.8 462.2 242.2 471.8 244.2 471.8 244.2 466.2 244.8 465.8 245.2 466.2 245.2 471.8 262.8 471.8 263.2 471.2 262.8 469.8 260.8 468.8 258.8 468.8 251.2 466.8 250.8 468.2 250.2 467.8 250.8 458.8 249.8 450.2 250.2 449.8 249.8 435.2 250.8 433.2 250.8 429.2 252.8 417.8 255.8 411.8 256.2 409.2 259.2 404.2 267.8 393.2 268.8 390.8 272.2 386.8 287.8 364.2ZM245.8 453.2 246.2 458.2 245.2 462.2 244.8 461.8 244.8 455.8ZM245.8 449.8 246.2 449.2 246.8 450.2 246.2 450.8Z"/><path fill="#f8e345" fill-rule="evenodd" d="M96.8 408.8 88.8 410.2 84.2 409.8 74.2 410.2 71.8 409.2 63.8 408.8 52.2 406.8 52.2 471.8 59.2 471.8 59.8 461.2 62.8 450.2 64.8 446.2 67.8 436.2 67.8 434.8 64.2 436.2 62.2 436.2 58.2 433.2 57.2 431.2 57.8 425.2 61.2 422.2 64.8 422.2 67.2 423.8 71.2 428.2 72.2 428.2 86.8 414.8ZM287.8 355.2 284.8 356.8 278.8 365.8 276.8 369.8 263.2 389.8 262.8 391.8 253.2 407.8 253.2 409.2 251.8 412.2 248.8 429.2 249.2 433.2 248.8 433.8 248.8 438.8 247.8 440.2 247.2 447.8 246.8 448.2 245.8 447.2 245.2 444.8 242.8 448.2 237.2 449.2 237.8 454.2 240.8 461.2 242.2 471.8 244.2 471.8 243.8 467.8 244.2 467.2 244.2 459.2 245.8 452.8 246.2 453.2 246.2 459.2 245.2 462.8 245.2 471.8 261.8 471.8 261.8 470.2 259.8 468.8 251.8 466.8 250.8 468.8 250.2 468.2 250.8 459.8 249.8 450.8 250.2 449.8 249.8 435.2 252.8 417.8 255.8 411.8 256.2 409.2 259.2 404.2 267.8 393.2 268.8 390.8 270.8 388.8 287.8 364.2ZM246.2 449.2 246.8 449.8 246.2 451.2 245.8 450.8Z"/><path fill="#f8e553" fill-rule="evenodd" d="M96.2 408.8 93.8 409.8 89.2 410.2 73.8 410.2 52.2 406.8 52.2 471.8 59.2 471.8 60.2 458.8 67.2 437.8 67.2 435.8 62.2 436.8 57.8 433.2 56.8 430.8 56.8 427.2 57.8 424.8 61.2 421.8 64.8 421.8 72.8 427.2 86.8 414.8ZM287.8 355.2 284.8 356.8 279.8 364.2 277.8 368.2 264.2 388.2 261.8 393.8 258.8 397.8 253.8 406.8 252.2 410.8 249.8 422.2 248.8 429.2 249.2 429.8 248.8 439.2 247.8 440.2 247.2 448.2 246.8 448.8 245.8 447.8 245.2 444.8 242.2 449.2 238.8 449.2 237.2 450.8 238.8 456.8 240.8 460.8 242.8 471.8 243.8 471.8 244.2 458.8 245.8 452.2 246.2 452.8 246.2 460.2 245.2 462.8 245.2 471.8 260.8 471.8 261.2 471.2 260.2 469.2 251.8 466.8 250.8 468.8 250.2 468.2 250.8 460.8 249.8 451.2 250.2 449.8 249.8 435.2 252.8 417.8 256.2 409.2 259.2 404.2 266.8 393.8 267.8 393.2 268.8 390.8 270.8 388.8 287.8 364.2ZM246.2 449.2 246.8 449.8 246.2 451.8 245.8 451.2Z"/><path fill="#f8e762" fill-rule="evenodd" d="M250.8 468.8 250.8 471.8 260.2 471.8 260.2 469.8 256.2 467.8 251.8 467.2ZM95.2 409.2 92.2 410.2 89.8 409.8 80.8 410.8 80.2 410.2 69.8 409.8 67.2 408.8 63.2 408.8 52.2 406.8 52.2 471.8 59.2 471.8 59.8 460.8 66.8 438.8 66.8 436.8 62.2 437.2 57.8 433.8 56.2 429.8 57.8 424.2 60.2 421.8 64.2 421.2 73.2 426.2 78.2 422.8 86.2 414.8ZM287.8 355.2 284.8 356.8 280.8 362.8 278.8 366.8 264.2 388.2 261.8 393.8 258.8 397.8 253.8 406.8 252.2 410.8 249.8 422.2 248.8 439.2 247.8 440.2 247.8 445.2 246.8 451.2 246.2 451.8 245.8 451.2 245.2 445.2 242.2 449.8 237.8 450.8 237.8 453.8 240.8 460.8 242.8 471.8 243.8 471.8 244.8 454.2 245.8 452.2 246.2 452.8 245.8 471.8 249.8 471.8 249.8 463.8 250.2 463.2 249.8 435.2 250.2 434.8 250.2 429.8 251.2 428.2 252.2 420.2 253.8 414.8 257.2 407.2 258.2 406.8 260.2 402.8 264.8 397.2 287.2 364.8Z"/><path fill="#f8e971" fill-rule="evenodd" d="M250.8 468.8 250.8 471.8 259.8 471.8 259.2 469.2 255.8 467.8 251.8 467.2ZM94.2 409.8 79.2 410.8 69.2 409.8 67.2 408.8 63.2 408.8 52.2 406.8 52.2 471.8 59.2 471.8 59.8 460.8 66.2 439.8 66.2 437.2 64.8 437.8 60.8 437.2 57.2 433.8 56.2 431.2 56.2 426.8 57.2 424.2 59.8 421.8 61.8 420.8 64.2 420.8 74.2 425.2 79.8 421.2 86.2 414.8ZM287.8 355.2 285.8 355.8 282.8 359.8 279.8 365.2 263.8 389.2 262.8 392.2 258.2 398.8 253.2 408.2 249.8 422.2 248.8 439.2 247.8 440.8 247.8 445.8 246.8 448.8 246.8 451.8 246.2 452.2 245.8 451.8 245.2 445.8 241.8 450.8 238.2 450.8 237.8 451.8 238.8 456.2 240.8 460.2 242.8 471.8 243.8 471.8 244.2 458.2 245.8 451.8 246.2 452.2 245.8 471.8 249.8 471.8 249.8 463.8 250.2 463.2 249.8 435.2 250.2 434.8 250.2 429.8 253.8 414.8 257.2 407.2 287.8 363.8Z"/><path fill="#f8eb7f" fill-rule="evenodd" d="M250.8 468.8 250.8 471.8 259.2 471.8 258.8 469.2 256.8 468.2 251.8 467.2ZM245.2 446.2 243.8 449.2 241.8 451.2 238.2 451.8 238.2 454.2 241.2 462.2 242.8 471.8 243.8 471.8 244.2 455.8 245.8 449.8ZM93.2 410.2 77.8 410.8 73.2 409.8 64.8 409.2 62.8 408.2 52.2 406.8 52.2 471.8 59.2 471.8 59.8 460.8 66.2 438.2 60.8 437.8 56.8 433.8 55.8 430.8 55.8 427.2 57.2 423.8 59.8 421.2 63.8 420.2 73.8 424.2 75.2 424.2 77.8 422.8 86.8 414.2ZM287.8 355.2 284.8 356.8 281.8 362.2 263.8 389.2 262.8 392.2 258.2 398.8 253.2 408.2 250.8 416.8 249.2 425.8 249.8 428.2 248.8 433.8 248.8 439.2 247.8 441.2 247.8 445.8 246.2 452.8 245.8 471.8 249.8 471.8 250.2 446.2 249.2 440.8 250.8 426.2 251.8 425.2 251.8 422.8 253.8 414.8 257.2 407.2 287.8 363.8Z"/><path fill="#f8ed8e" fill-rule="evenodd" d="M250.8 469.2 250.8 471.8 258.8 471.8 258.2 469.2 254.8 467.8 251.8 467.2ZM245.2 446.8 242.2 451.8 238.8 452.2 238.8 455.2 241.8 463.2 242.8 471.8 243.8 471.8 243.8 458.8 245.8 449.8ZM91.2 410.2 76.2 410.8 72.8 409.8 64.2 409.2 52.2 406.8 52.2 471.8 59.2 471.8 59.8 460.8 65.8 440.8 65.8 438.8 60.8 438.2 57.2 435.2 55.2 429.8 55.8 425.8 56.8 423.8 61.2 420.2 65.2 420.2 75.2 423.8 79.2 421.2 85.8 414.8 91.8 410.8ZM287.8 355.2 286.8 355.2 284.2 357.8 273.8 373.8 266.2 386.2 263.8 389.2 262.8 392.2 259.8 396.2 253.2 408.2 249.8 422.8 250.2 424.8 249.2 428.8 248.8 439.2 247.8 441.8 247.8 446.2 246.8 448.8 245.8 471.8 249.8 471.8 250.2 446.8 249.2 440.8 250.8 426.2 254.2 413.2 257.2 407.2 262.2 399.8 265.8 395.8 267.8 391.8 270.2 389.2 287.8 363.8Z"/><path fill="#f8ef9d" fill-rule="evenodd" d="M251.8 467.2 250.8 469.2 250.8 471.8 258.2 471.8 257.8 469.2 256.2 468.2ZM245.2 447.2 243.2 451.2 241.8 452.8 238.8 453.2 241.8 462.8 243.2 471.8 243.8 458.2 245.8 449.2ZM91.8 410.8 74.8 410.8 72.8 409.8 60.8 408.8 52.2 406.8 52.2 471.8 59.2 471.8 59.8 460.2 65.2 442.8 65.2 439.2 62.2 439.2 59.8 438.2 56.8 435.2 55.8 433.2 55.2 426.2 56.8 423.2 61.2 419.8 65.2 419.8 66.8 420.8 72.2 421.2 76.2 422.8 78.2 421.8 86.2 414.2ZM287.8 355.2 284.8 357.2 274.8 372.2 267.2 384.8 263.8 389.2 263.8 390.8 260.8 394.8 253.2 408.2 249.8 422.8 250.2 424.8 249.2 428.8 248.8 439.2 247.8 441.8 247.8 446.2 246.8 448.8 245.8 471.8 249.8 471.8 250.2 446.8 249.2 440.8 250.8 426.2 254.2 413.2 258.8 404.8 265.8 395.8 268.8 390.2 270.2 389.2 287.8 363.8Z"/><path fill="#f8f0ac" fill-rule="evenodd" d="M251.8 467.2 250.8 469.2 250.8 471.8 257.8 471.8 257.8 469.8 256.8 468.8ZM245.2 447.2 243.2 452.2 242.2 453.2 239.2 453.8 241.8 462.2 243.2 471.8 243.8 454.8 245.2 452.2 245.8 449.2ZM90.2 411.2 74.2 410.8 72.8 409.8 63.8 409.2 52.2 406.8 52.2 471.8 59.2 471.8 59.8 460.2 65.2 441.2 64.8 439.8 61.8 439.8 59.8 438.8 56.2 435.2 54.8 431.2 54.8 427.2 56.2 423.2 59.2 420.2 61.8 419.2 65.2 419.2 66.8 420.2 73.8 420.8 75.2 421.8 77.2 421.8 80.2 419.8 85.8 414.2ZM287.8 355.2 284.8 357.2 275.8 370.8 268.2 383.2 263.8 389.2 263.8 390.8 260.8 394.8 253.8 407.2 250.2 419.8 248.8 439.2 247.8 442.2 247.8 446.8 246.8 448.8 246.8 453.8 246.2 454.2 245.8 471.8 249.8 471.8 250.2 447.2 249.2 440.8 251.2 423.2 252.2 422.2 252.2 419.8 254.2 413.2 259.2 403.8 260.2 403.2 266.8 394.2 268.8 390.2 270.2 389.2 287.8 363.8Z"/><path fill="#f6f1b9" fill-rule="evenodd" d="M250.8 469.2 250.8 471.8 257.2 471.8 257.2 469.8 255.2 468.2 251.8 467.8ZM240.8 454.8 240.2 456.8 241.8 460.2 242.8 467.2 243.2 466.8 243.2 454.8ZM245.2 448.2 243.8 451.2 243.8 453.2 245.2 451.8ZM87.8 411.8 83.2 410.8 82.8 411.2 73.8 410.8 71.2 409.8 63.8 409.2 52.2 407.2 52.2 471.8 59.2 471.8 59.8 460.2 64.8 443.2 64.8 441.2 59.2 439.2 56.2 436.2 54.8 433.2 54.2 427.2 55.8 423.2 58.2 420.2 61.2 418.8 65.8 418.8 68.2 419.8 73.8 419.2 75.8 420.2 78.2 420.2 81.2 418.2ZM287.8 355.2 284.8 357.2 269.2 381.8 264.8 387.8 263.8 390.8 256.2 402.2 253.2 408.8 250.2 419.8 250.8 421.8 249.2 428.8 248.8 439.2 247.8 442.8 247.8 447.2 246.8 448.8 245.8 471.8 249.8 471.8 249.8 463.8 250.2 463.2 249.8 449.8 250.2 447.8 249.2 440.8 250.8 426.2 252.8 417.2 255.2 410.8 259.2 403.8 267.8 392.8 268.8 390.2 271.2 387.8 287.8 363.8Z"/><path fill="#f4f2c6" fill-rule="evenodd" d="M251.8 467.8 250.8 469.8 250.8 471.8 256.8 471.8 256.8 469.8 255.8 468.8ZM245.2 448.8 244.2 452.2 244.8 452.2ZM84.2 411.8 76.2 411.2 67.2 409.2 63.2 409.2 52.2 407.2 52.2 471.8 59.2 471.8 59.2 465.8 59.8 465.2 59.2 461.8 62.2 450.2 64.2 445.2 64.2 442.2 59.2 440.2 55.8 436.8 54.2 433.8 53.8 426.8 55.2 422.8 58.8 419.2 62.2 417.8 64.8 417.8 67.2 418.8 73.2 417.8 74.2 418.2 79.2 417.8 84.8 413.2ZM287.8 355.2 284.8 357.2 266.2 385.8 266.2 386.8 263.8 389.8 263.8 390.8 257.2 400.8 253.8 407.8 250.8 417.2 250.8 421.8 249.2 428.8 247.8 447.8 246.8 449.2 245.8 471.8 249.8 471.8 249.8 463.2 250.2 462.8 249.8 449.8 250.2 448.2 249.2 440.8 250.8 426.2 253.2 415.8 259.2 403.8 267.8 392.8 268.8 390.2 272.2 386.2 287.8 363.8Z"/><path fill="#f3f3d4" fill-rule="evenodd" d="M251.2 468.8 250.8 471.8 256.2 471.8 255.8 469.2 252.2 467.8ZM52.2 407.2 52.2 471.8 58.8 471.8 59.2 461.2 63.8 446.2 63.8 442.8 61.2 442.2 57.8 440.2 54.2 435.8 53.2 432.8 53.8 424.8 55.2 421.8 59.8 417.8 61.2 417.2 69.2 417.8 71.8 416.8 78.2 415.8 80.8 413.2 80.8 412.2 77.8 411.2 74.2 411.2 72.8 410.2 68.8 410.2 67.2 409.2 63.2 409.2ZM287.8 355.8 286.2 355.8 282.8 360.2 268.2 382.8 267.2 385.2 263.8 389.8 263.8 390.8 253.8 407.8 253.8 409.2 250.8 417.2 251.2 418.8 249.2 429.2 248.8 439.8 247.8 443.8 247.8 447.8 246.8 449.2 245.8 471.8 249.8 471.8 250.2 456.8 249.8 456.2 249.2 440.2 249.8 439.8 250.2 429.2 252.2 417.8 253.2 416.8 255.8 409.2 287.2 364.2Z"/><path fill="#f1f3e1" fill-rule="evenodd" d="M251.2 469.2 251.2 471.8 255.8 471.8 255.8 470.2 254.2 468.8 252.2 468.2ZM52.2 407.2 52.2 471.8 58.8 471.8 59.2 460.8 63.8 444.8 62.8 443.2 60.2 442.8 57.8 441.2 54.2 437.2 52.2 430.8 52.8 425.8 54.8 421.2 58.2 417.8 61.8 416.2 69.2 416.8 72.2 415.2 75.8 414.8 78.2 412.2 71.8 410.2 64.2 409.8ZM287.8 355.8 285.2 356.8 269.2 381.2 269.2 382.2 263.8 389.8 261.2 395.2 256.2 402.8 252.8 410.8 251.2 415.8 251.8 416.2 249.8 425.2 247.8 448.2 246.8 449.8 245.8 471.8 249.8 471.8 250.2 457.8 249.8 457.2 249.2 440.2 250.8 425.8 252.8 416.2 253.8 415.2 256.8 407.2 257.8 406.8 258.8 404.2 263.2 398.8 287.8 363.2Z"/><path fill="#eef3ed" fill-rule="evenodd" d="M251.2 469.2 251.2 471.8 255.2 471.8 255.2 470.2 253.8 468.8 252.2 468.2ZM52.2 432.8 52.2 471.8 58.8 471.8 59.2 460.8 61.2 454.8 63.2 444.8 58.2 442.8 54.2 438.8 52.8 435.8ZM52.2 426.8 52.2 424.8 54.2 420.8 57.8 417.2 63.2 415.2 68.8 415.8 74.8 413.2 75.2 412.2 72.8 410.8 60.2 409.2 52.2 407.2ZM287.8 355.8 285.2 356.8 271.2 378.2 271.2 379.2 264.8 388.2 262.2 393.8 254.8 405.8 252.8 410.8 250.2 422.2 249.2 429.2 249.8 432.2 249.2 438.8 248.2 440.2 248.2 444.8 246.8 450.8 246.8 458.8 245.8 462.2 245.8 471.8 249.8 471.8 250.2 459.2 249.2 450.2 249.8 449.8 249.2 434.8 253.2 414.8 255.2 411.8 256.8 407.2 264.2 397.2 287.8 363.2Z"/><path fill="#e7f0f0" fill-rule="evenodd" d="M251.8 469.2 251.2 471.8 254.2 471.8 254.2 470.2 253.2 469.2ZM52.2 437.8 52.2 471.8 58.8 471.8 59.2 460.2 62.2 449.2 62.2 446.8 57.2 444.2 53.2 440.2ZM52.2 421.8 54.2 418.2 57.8 415.2 61.2 413.8 68.8 413.8 71.2 411.8 67.8 410.2 64.2 410.2 62.2 409.2 52.2 407.8ZM287.8 355.8 286.8 355.8 284.8 357.8 275.2 372.2 275.2 373.2 263.8 390.2 263.2 392.2 256.8 402.2 253.8 408.2 252.8 413.2 251.2 416.8 249.8 425.8 250.2 428.8 249.2 434.2 249.2 439.8 248.2 441.2 248.2 445.8 246.8 452.8 246.2 471.8 249.2 471.8 249.8 446.2 248.8 440.2 250.2 426.2 251.2 425.2 251.8 419.8 253.8 413.2 258.8 403.8 259.8 403.2 264.2 396.2 265.2 395.8 268.8 389.8 273.2 384.2 287.2 363.8Z"/><path fill="#e0edf3" fill-rule="evenodd" d="M252.2 470.2 251.8 470.8 252.2 471.8 252.8 471.2ZM52.2 442.2 52.2 471.8 58.2 471.8 58.8 460.8 60.2 456.2 61.2 449.2 55.2 445.8ZM52.2 417.8 55.8 413.8 58.2 412.2 62.8 411.2 62.8 410.8 59.2 409.2 54.2 408.8 52.2 407.8ZM287.8 355.8 285.2 357.2 282.2 362.8 272.2 377.2 266.8 386.8 264.2 389.8 263.2 392.8 260.2 396.8 254.2 407.8 250.8 419.8 251.2 422.2 249.8 429.2 249.2 439.8 248.2 443.2 248.2 447.8 247.2 449.2 246.2 471.8 249.2 471.8 249.2 463.2 249.8 462.8 249.2 449.2 249.8 448.2 248.8 440.2 250.2 425.8 252.8 415.8 256.8 406.8 287.2 363.2Z"/></g></g>
<line x1="170.0" y1="270.4" x2="170.0" y2="472.4" stroke="#a8aca8" stroke-width="2"/>
<line x1="217.4" y1="270.4" x2="217.4" y2="472.4" stroke="#dadada" stroke-width="1.5" stroke-dasharray="4.3,2.4" stroke-dashoffset="-1.9"/>
<g stroke="#7f7f7f" stroke-width="1.2" fill="none">
<path d="M52.300000000000004,270.09999999999997 V472.5 H287.8"/>
<line x1="45.800000000000004" y1="472.40" x2="52.300000000000004" y2="472.40"/>
<line x1="49.300000000000004" y1="459.77" x2="52.300000000000004" y2="459.77"/>
<line x1="49.300000000000004" y1="447.15" x2="52.300000000000004" y2="447.15"/>
<line x1="49.300000000000004" y1="434.52" x2="52.300000000000004" y2="434.52"/>
<line x1="45.800000000000004" y1="421.90" x2="52.300000000000004" y2="421.90"/>
<line x1="49.300000000000004" y1="409.27" x2="52.300000000000004" y2="409.27"/>
<line x1="49.300000000000004" y1="396.65" x2="52.300000000000004" y2="396.65"/>
<line x1="49.300000000000004" y1="384.02" x2="52.300000000000004" y2="384.02"/>
<line x1="45.800000000000004" y1="371.40" x2="52.300000000000004" y2="371.40"/>
<line x1="49.300000000000004" y1="358.77" x2="52.300000000000004" y2="358.77"/>
<line x1="49.300000000000004" y1="346.15" x2="52.300000000000004" y2="346.15"/>
<line x1="49.300000000000004" y1="333.52" x2="52.300000000000004" y2="333.52"/>
<line x1="45.800000000000004" y1="320.90" x2="52.300000000000004" y2="320.90"/>
<line x1="49.300000000000004" y1="308.27" x2="52.300000000000004" y2="308.27"/>
<line x1="49.300000000000004" y1="295.65" x2="52.300000000000004" y2="295.65"/>
<line x1="49.300000000000004" y1="283.02" x2="52.300000000000004" y2="283.02"/>
<line x1="45.800000000000004" y1="270.40" x2="52.300000000000004" y2="270.40"/>
<line x1="52.20" y1="472.5" x2="52.20" y2="479.0"/>
<line x1="56.91" y1="472.5" x2="56.91" y2="475.5"/>
<line x1="61.61" y1="472.5" x2="61.61" y2="475.5"/>
<line x1="66.32" y1="472.5" x2="66.32" y2="475.5"/>
<line x1="71.02" y1="472.5" x2="71.02" y2="475.5"/>
<line x1="75.73" y1="472.5" x2="75.73" y2="480.0"/>
<line x1="80.44" y1="472.5" x2="80.44" y2="475.5"/>
<line x1="85.14" y1="472.5" x2="85.14" y2="475.5"/>
<line x1="89.85" y1="472.5" x2="89.85" y2="475.5"/>
<line x1="94.55" y1="472.5" x2="94.55" y2="475.5"/>
<line x1="99.26" y1="472.5" x2="99.26" y2="479.0"/>
<line x1="103.97" y1="472.5" x2="103.97" y2="475.5"/>
<line x1="108.67" y1="472.5" x2="108.67" y2="475.5"/>
<line x1="113.38" y1="472.5" x2="113.38" y2="475.5"/>
<line x1="118.08" y1="472.5" x2="118.08" y2="475.5"/>
<line x1="122.79" y1="472.5" x2="122.79" y2="480.0"/>
<line x1="127.50" y1="472.5" x2="127.50" y2="475.5"/>
<line x1="132.20" y1="472.5" x2="132.20" y2="475.5"/>
<line x1="136.91" y1="472.5" x2="136.91" y2="475.5"/>
<line x1="141.61" y1="472.5" x2="141.61" y2="475.5"/>
<line x1="146.32" y1="472.5" x2="146.32" y2="479.0"/>
<line x1="151.03" y1="472.5" x2="151.03" y2="475.5"/>
<line x1="155.73" y1="472.5" x2="155.73" y2="475.5"/>
<line x1="160.44" y1="472.5" x2="160.44" y2="475.5"/>
<line x1="165.14" y1="472.5" x2="165.14" y2="475.5"/>
<line x1="169.85" y1="472.5" x2="169.85" y2="480.0"/>
<line x1="174.56" y1="472.5" x2="174.56" y2="475.5"/>
<line x1="179.26" y1="472.5" x2="179.26" y2="475.5"/>
<line x1="183.97" y1="472.5" x2="183.97" y2="475.5"/>
<line x1="188.67" y1="472.5" x2="188.67" y2="475.5"/>
<line x1="193.38" y1="472.5" x2="193.38" y2="479.0"/>
<line x1="198.09" y1="472.5" x2="198.09" y2="475.5"/>
<line x1="202.79" y1="472.5" x2="202.79" y2="475.5"/>
<line x1="207.50" y1="472.5" x2="207.50" y2="475.5"/>
<line x1="212.20" y1="472.5" x2="212.20" y2="475.5"/>
<line x1="216.91" y1="472.5" x2="216.91" y2="480.0"/>
<line x1="221.62" y1="472.5" x2="221.62" y2="475.5"/>
<line x1="226.32" y1="472.5" x2="226.32" y2="475.5"/>
<line x1="231.03" y1="472.5" x2="231.03" y2="475.5"/>
<line x1="235.73" y1="472.5" x2="235.73" y2="475.5"/>
<line x1="240.44" y1="472.5" x2="240.44" y2="479.0"/>
<line x1="245.15" y1="472.5" x2="245.15" y2="475.5"/>
<line x1="249.85" y1="472.5" x2="249.85" y2="475.5"/>
<line x1="254.56" y1="472.5" x2="254.56" y2="475.5"/>
<line x1="259.26" y1="472.5" x2="259.26" y2="475.5"/>
<line x1="263.97" y1="472.5" x2="263.97" y2="480.0"/>
<line x1="268.68" y1="472.5" x2="268.68" y2="475.5"/>
<line x1="273.38" y1="472.5" x2="273.38" y2="475.5"/>
<line x1="278.09" y1="472.5" x2="278.09" y2="475.5"/>
<line x1="282.79" y1="472.5" x2="282.79" y2="475.5"/>
<line x1="287.50" y1="472.5" x2="287.50" y2="479.0"/>
</g>
<g font-family="Liberation Sans, sans-serif" font-size="16.3" fill="#111" text-anchor="end">
<text x="40.10000000000001" y="275.4">0.8</text>
<text x="40.10000000000001" y="325.9">0.6</text>
<text x="40.10000000000001" y="376.4">0.4</text>
<text x="40.10000000000001" y="426.9">0.2</text>
<text x="40.10000000000001" y="477.4">0.0</text>
</g>
<g font-family="Liberation Sans, sans-serif" font-size="16.3" fill="#111" text-anchor="middle">
<text x="75.7" y="495">–2.0</text>
<text x="122.8" y="495">–1.0</text>
<text x="169.9" y="495">0.0</text>
<text x="216.9" y="495">1.0</text>
<text x="264.0" y="495">2.0</text>
<text x="170.3" y="514.5" font-size="16.6">Energy (eV)</text>
<text transform="translate(12,367.3) rotate(-90)" font-size="17.4">Velocity (a. u.)</text>
</g>
<text x="60.5" y="299" font-family="Liberation Sans, sans-serif" font-size="23" fill="#f4f4f4">(b)</text>
<clipPath id="clc"><rect x="350" y="270" width="235" height="202"/></clipPath><g clip-path="url(#clc)"><g><rect x="350" y="270" width="235" height="202" fill="#000000"/><path fill="#090912" fill-rule="evenodd" d="M350.2 355.8 350.2 471.8 464.8 471.8 464.8 395.2 462.2 389.8 458.8 384.8 451.2 379.2 435.8 371.2 421.2 365.2 406.8 360.2 384.8 356.8 367.2 356.2 366.8 355.8ZM584.8 336.8 576.8 342.8 563.2 350.8 560.8 353.2 551.2 358.2 534.8 363.2 504.8 368.8 495.8 372.8 489.2 374.8 481.2 375.8 477.8 377.8 473.8 390.2 473.8 471.8 584.8 471.8Z"/><path fill="#0c0c1f" fill-rule="evenodd" d="M350.2 356.2 350.2 471.8 460.2 471.8 460.2 390.8 457.2 384.8 450.8 379.8 437.8 372.8 427.8 368.2 406.8 360.8 384.8 357.2 367.8 356.8 367.2 356.2ZM584.8 337.2 577.2 342.8 563.8 350.8 559.8 354.2 551.2 358.8 534.8 363.8 504.8 369.2 491.8 374.8 481.8 376.2 478.2 378.8 478.2 380.8 479.8 383.2 479.8 471.8 584.8 471.8Z"/><path fill="#10102d" fill-rule="evenodd" d="M350.2 356.2 350.2 471.8 457.2 471.8 457.2 388.8 455.8 384.8 452.8 381.8 448.2 378.8 433.8 371.2 407.2 361.2 386.8 357.8ZM584.8 337.2 575.2 344.2 564.8 350.2 558.8 355.2 550.8 359.2 529.8 365.2 504.2 369.8 491.2 375.2 483.8 376.2 479.8 377.8 479.2 379.8 483.8 384.2 483.8 471.8 584.8 471.8Z"/><path fill="#14143a" fill-rule="evenodd" d="M350.2 356.8 350.2 471.8 454.8 471.8 455.2 388.8 454.8 386.2 452.8 382.8 444.8 377.2 429.8 369.8 406.2 361.2 383.8 357.8ZM584.8 337.8 569.2 348.2 564.2 350.8 560.8 354.2 550.2 359.8 533.2 364.8 503.8 370.2 494.2 374.8 483.2 376.8 480.2 378.2 481.2 380.2 484.8 381.8 486.8 383.8 486.8 471.8 584.8 471.8Z"/><path fill="#181847" fill-rule="evenodd" d="M350.2 356.8 350.2 471.8 453.2 471.8 453.2 438.8 452.8 438.2 453.2 386.8 451.8 383.2 447.2 379.2 430.2 370.2 407.2 361.8 386.2 358.2ZM584.8 337.8 577.2 343.2 563.8 351.2 560.2 354.8 550.8 359.8 534.2 364.8 501.2 371.2 495.2 374.8 490.2 376.2 485.2 376.8 481.2 378.2 482.2 379.8 487.8 381.8 489.8 384.2 489.8 471.8 584.8 471.8Z"/><path fill="#1b1d55" fill-rule="evenodd" d="M350.2 357.2 350.2 471.8 451.2 471.8 451.2 385.2 449.2 381.8 442.2 376.8 429.8 370.2 404.8 361.2 384.2 358.2ZM584.8 337.8 574.2 345.2 564.8 350.8 559.8 355.2 548.8 360.8 530.8 365.8 503.8 370.8 494.8 375.2 482.8 378.2 484.2 379.8 487.2 380.2 490.2 381.8 492.2 384.2 492.2 471.8 584.8 471.8Z"/><path fill="#1d2362" fill-rule="evenodd" d="M350.2 357.2 350.2 471.8 449.2 471.8 449.2 394.8 449.8 394.2 449.8 387.2 447.8 381.8 440.8 376.2 429.2 370.2 407.8 362.2 395.2 359.8 381.8 358.2ZM584.8 337.8 576.8 343.8 564.2 351.2 560.8 354.8 551.8 359.8 531.8 365.8 504.2 370.8 499.8 372.2 495.8 375.2 484.8 378.2 485.8 379.2 491.8 381.2 494.2 384.2 494.2 471.8 584.8 471.8Z"/><path fill="#202870" fill-rule="evenodd" d="M350.2 357.8 350.2 471.8 446.8 471.8 447.2 384.2 446.2 381.8 440.8 376.8 428.8 370.2 405.2 361.8 385.8 358.8 368.8 358.2 368.2 357.8ZM584.8 338.2 568.2 349.2 564.2 351.2 558.8 356.2 549.8 360.8 530.2 366.2 503.2 371.2 500.2 372.2 497.8 374.8 487.2 378.2 488.2 379.2 493.8 381.2 496.2 384.2 496.2 471.8 584.8 471.8Z"/><path fill="#232e7d" fill-rule="evenodd" d="M350.2 357.8 350.2 471.8 444.8 471.8 444.2 414.2 444.8 413.8 445.2 383.8 443.2 379.8 436.8 374.8 428.2 370.2 412.8 364.2 404.2 361.8 383.8 358.8ZM584.8 338.2 576.2 344.2 563.8 351.8 559.8 355.8 550.2 360.8 531.2 366.2 503.8 371.2 499.8 372.8 498.2 374.8 489.8 378.2 495.8 381.2 497.8 383.2 498.8 389.2 498.2 471.8 584.8 471.8Z"/><path fill="#263589" fill-rule="evenodd" d="M350.2 357.8 350.2 471.8 442.2 471.8 441.8 409.2 442.2 408.8 442.2 396.2 442.8 395.8 443.2 385.2 442.8 382.2 441.2 379.2 436.8 375.2 427.8 370.2 412.2 364.2 403.8 361.8 380.8 358.8ZM584.8 338.2 567.8 349.8 565.2 350.8 560.8 355.2 551.8 360.2 543.2 363.2 529.8 366.8 504.2 371.2 500.2 372.8 498.2 375.2 493.8 376.8 491.8 378.2 498.2 381.8 500.2 383.8 500.8 385.2 500.8 390.2 501.2 390.8 500.8 471.8 584.8 471.8Z"/><path fill="#293c95" fill-rule="evenodd" d="M350.2 358.2 350.2 471.8 439.2 471.8 438.8 418.8 439.2 418.2 439.8 394.2 440.8 387.2 440.8 382.2 439.2 378.8 435.8 375.2 427.2 370.2 411.8 364.2 402.8 361.8 385.2 359.2 367.2 358.8 366.8 358.2ZM584.8 338.2 577.2 343.8 563.2 352.2 560.2 355.8 553.2 359.8 542.2 363.8 532.8 366.2 501.2 372.2 499.8 373.2 498.2 375.8 493.8 377.8 493.8 378.8 500.2 381.8 502.8 384.2 503.8 390.2 503.2 471.8 584.8 471.8Z"/><path fill="#2b449f" fill-rule="evenodd" d="M350.2 358.2 350.2 471.8 435.2 471.8 434.2 418.2 434.8 417.8 435.2 396.8 437.2 383.2 436.2 377.8 432.2 373.8 427.8 370.8 413.8 365.2 403.8 362.2 381.8 359.2ZM584.8 338.2 574.2 345.8 564.8 351.2 559.8 356.2 552.8 360.2 546.2 362.8 531.8 366.8 503.8 371.8 500.8 372.8 499.8 375.2 496.2 377.8 496.2 378.8 503.8 382.2 506.2 384.8 507.8 390.2 508.2 422.8 507.8 423.2 507.2 471.8 584.8 471.8Z"/><path fill="#2e4ba9" fill-rule="evenodd" d="M350.2 358.8 350.2 471.8 430.2 471.8 428.8 419.2 429.2 418.8 429.2 408.8 429.8 408.2 430.2 398.2 431.8 389.2 433.8 382.2 433.8 378.2 432.8 375.8 428.8 371.8 424.8 369.8 402.8 362.2 384.8 359.8ZM584.8 338.2 576.8 344.2 564.2 351.8 560.8 355.8 554.2 359.8 543.8 363.8 532.8 366.8 503.2 372.2 500.8 373.2 500.8 375.8 498.2 377.8 498.2 378.8 506.8 382.2 509.2 384.2 512.2 390.2 513.8 397.2 514.2 405.8 513.8 406.2 512.2 451.8 510.8 463.2 511.2 471.8 584.8 471.8Z"/><path fill="#3155b4" fill-rule="evenodd" d="M350.2 359.2 350.2 471.8 424.8 471.8 424.8 464.8 422.8 452.2 421.8 436.2 421.2 435.8 420.8 417.8 421.8 408.2 424.2 396.2 431.2 378.8 431.2 377.2 429.2 372.8 425.2 370.2 404.2 362.8 381.2 359.8ZM584.8 338.2 581.2 341.2 563.8 352.2 560.2 356.2 550.2 361.8 533.8 366.8 506.2 371.8 501.2 373.8 502.2 375.8 499.8 377.8 500.8 379.2 509.2 382.2 513.8 385.8 517.2 392.8 519.8 402.8 517.8 431.8 517.2 432.2 516.8 446.2 514.2 461.2 514.2 471.8 584.8 471.8Z"/><path fill="#345ebe" fill-rule="evenodd" d="M350.2 359.2 350.2 471.8 419.8 471.8 419.2 464.8 414.2 446.8 412.2 435.8 411.8 409.8 414.8 400.8 418.2 393.8 428.8 378.8 429.2 377.2 428.8 372.8 424.8 370.2 417.2 367.2 403.2 362.8 385.2 360.2ZM584.8 338.8 565.2 351.2 559.8 356.8 550.8 361.8 532.2 367.2 512.2 370.8 502.2 373.2 503.2 374.2 504.8 374.2 505.2 375.2 501.8 376.8 500.8 378.2 503.8 380.2 513.8 382.8 516.2 385.2 519.2 390.8 523.8 402.2 522.2 419.8 520.8 428.2 519.2 448.2 516.2 462.8 516.8 471.8 584.8 471.8Z"/><path fill="#3769c4" fill-rule="evenodd" d="M350.2 359.8 350.2 471.8 415.2 471.8 414.2 466.2 403.2 440.8 400.2 428.2 400.8 405.2 402.2 401.8 409.2 393.8 426.2 377.8 428.8 374.2 428.2 372.2 408.2 364.2 396.2 361.8 383.2 360.2ZM584.8 338.8 562.2 353.8 560.8 356.2 551.2 361.8 533.2 367.2 508.8 371.8 504.2 373.2 506.2 374.2 508.2 373.8 510.2 374.2 513.8 373.2 518.8 373.2 519.2 373.8 514.2 375.2 507.2 375.2 503.2 376.8 502.2 378.8 509.2 381.2 515.2 381.2 519.2 384.2 521.2 390.2 527.2 401.8 521.2 449.8 518.2 462.2 518.2 471.8 584.8 471.8Z"/><path fill="#3b74cb" fill-rule="evenodd" d="M350.2 359.8 350.2 471.8 411.2 471.8 409.8 466.8 395.2 442.8 395.2 441.2 391.2 430.8 391.2 419.2 390.8 418.8 391.2 407.2 392.8 399.8 397.8 393.8 403.8 390.8 417.2 381.2 421.2 377.2 420.2 375.2 422.8 374.2 424.8 375.2 426.8 375.2 428.2 373.8 427.8 372.2 418.8 368.2 407.2 364.2 394.8 361.8 385.8 360.8 377.2 360.8 376.8 360.2ZM584.8 338.8 564.8 351.8 559.8 357.2 551.8 361.8 534.2 367.2 507.2 372.8 506.8 373.2 511.8 373.2 512.2 372.8 523.2 372.2 530.8 371.2 533.2 370.2 534.8 370.2 535.2 370.8 534.8 371.2 512.2 376.2 506.2 376.2 503.2 377.8 504.2 379.2 509.2 380.8 512.2 380.8 514.2 379.8 519.8 383.8 529.8 396.2 529.2 397.2 531.2 401.2 526.2 426.8 523.2 452.8 520.2 462.8 520.2 469.8 519.2 471.8 558.8 471.8 558.8 470.2 560.8 465.8 570.2 449.8 574.8 443.8 584.8 434.2 584.8 391.8 582.8 391.2 572.8 391.8 571.2 389.2 571.2 387.2 573.2 381.8 580.8 366.8 584.8 360.8ZM530.8 407.8 531.2 407.2 531.8 407.8 531.2 408.2ZM531.8 402.2 532.2 402.8 531.8 406.8 531.2 406.2ZM532.2 399.8 532.8 400.2 532.2 402.8 531.8 402.2ZM531.2 399.8 531.8 399.2 532.2 399.8 531.8 400.2ZM530.8 398.8 531.2 398.2 531.8 399.2 531.2 399.8ZM530.2 398.2 530.8 397.8 531.2 398.2 530.8 398.8ZM529.8 397.8 530.2 397.2 530.8 397.8 530.2 398.2ZM529.2 397.2 529.8 396.8 530.2 397.2 529.8 397.8Z"/><path fill="#3d80d4" fill-rule="evenodd" d="M350.2 360.2 350.2 471.8 409.2 471.8 408.2 468.2 394.2 446.8 388.2 430.8 387.8 410.8 389.8 401.8 389.8 398.8 396.2 391.2 402.2 388.8 413.2 381.2 414.2 379.2 412.8 378.8 413.8 377.8 422.8 373.8 427.2 374.8 427.8 372.8 425.8 371.2 417.2 367.8 405.2 363.8 397.2 362.2 384.8 360.8ZM584.8 338.8 577.2 344.2 564.8 351.8 559.8 357.2 549.8 362.8 530.8 368.2 510.2 372.2 509.8 372.8 519.2 372.2 535.8 369.8 536.2 370.2 535.8 371.2 511.8 376.8 505.8 376.8 504.2 377.8 504.2 378.8 508.2 380.2 512.2 380.2 513.8 379.2 519.2 383.2 532.8 399.8 530.8 422.2 530.2 422.8 529.8 422.2 529.8 420.2 526.8 432.2 525.2 446.2 525.8 451.8 521.8 462.8 521.8 465.8 519.2 471.8 556.2 471.8 558.2 465.2 568.8 446.8 571.2 443.2 580.8 433.8 584.8 430.8 584.8 394.8 583.8 394.2 578.8 394.8 572.2 397.2 569.2 397.2 567.2 395.2 567.2 391.2 568.8 386.2 582.2 361.2 584.8 358.8ZM529.2 422.8 529.8 422.2 530.2 423.2 529.8 423.8Z"/><path fill="#3f8cdd" fill-rule="evenodd" d="M350.2 360.2 350.2 471.8 404.8 471.8 401.8 467.8 402.8 467.2 404.2 468.8 404.8 467.8 398.2 456.2 392.2 447.8 386.2 431.8 385.8 410.2 387.8 398.2 394.2 389.8 401.8 386.2 404.8 383.8 404.8 383.2 401.8 383.2 401.2 382.8 408.8 379.8 422.8 373.2 424.8 374.2 427.2 374.2 427.8 372.8 418.2 368.2 408.2 364.8 399.8 362.8 383.8 360.8ZM401.2 466.8 401.8 466.2 402.2 467.2 401.8 467.8ZM400.8 466.2 401.2 465.8 401.8 466.2 401.2 466.8ZM400.2 465.8 400.8 465.2 401.2 465.8 400.8 466.2ZM399.8 464.8 400.2 464.2 400.8 465.2 400.2 465.8ZM399.2 464.2 399.8 463.8 400.2 464.2 399.8 464.8ZM398.8 463.8 399.2 463.2 399.8 463.8 399.2 464.2ZM398.2 462.8 398.8 462.2 399.2 463.2 398.8 463.8ZM397.8 462.2 398.2 461.8 398.8 462.2 398.2 462.8ZM397.2 461.2 397.8 460.8 398.2 461.8 397.8 462.2ZM396.8 460.8 397.2 460.2 397.8 460.8 397.2 461.2ZM396.2 460.2 396.8 459.8 397.2 460.2 396.8 460.8ZM395.8 459.2 396.2 458.8 396.8 459.8 396.2 460.2ZM395.2 458.8 395.8 458.2 396.2 458.8 395.8 459.2ZM394.8 457.8 395.2 457.2 395.8 458.2 395.2 458.8ZM394.2 457.2 394.8 456.8 395.2 457.2 394.8 457.8ZM393.8 456.8 394.2 456.2 394.8 456.8 394.2 457.2ZM393.2 455.8 393.8 455.2 394.2 456.2 393.8 456.8ZM392.8 455.2 393.2 454.8 393.8 455.2 393.2 455.8ZM392.2 454.2 392.8 453.8 393.2 454.8 392.8 455.2ZM391.8 453.8 392.2 453.2 392.8 453.8 392.2 454.2ZM391.2 453.2 391.8 452.8 392.2 453.2 391.8 453.8ZM390.8 452.2 391.2 451.8 391.8 452.8 391.2 453.2ZM390.2 451.8 390.8 451.2 391.2 451.8 390.8 452.2ZM389.8 450.8 390.2 450.2 390.8 451.2 390.2 451.8ZM389.2 450.2 389.8 449.8 390.2 450.2 389.8 450.8ZM388.8 449.8 389.2 449.2 389.8 449.8 389.2 450.2ZM388.2 448.8 388.8 448.2 389.2 449.2 388.8 449.8ZM387.8 447.8 388.2 447.2 388.8 448.2 388.2 448.8ZM387.2 446.8 387.8 446.2 388.2 447.2 387.8 447.8ZM387.2 444.8 387.8 445.2 387.2 446.8 386.8 446.2ZM386.8 443.2 387.2 443.8 386.8 445.2 386.2 444.8ZM385.8 442.8 386.2 442.2 386.8 443.2 386.2 443.8ZM385.8 440.8 386.2 441.2 385.8 442.8 385.2 442.2ZM385.2 439.2 385.8 439.8 385.2 441.2 384.8 440.8ZM384.2 438.8 384.8 438.2 385.2 439.2 384.8 439.8ZM384.2 436.8 384.8 437.2 384.2 438.8 383.8 438.2ZM383.8 435.2 384.2 435.8 383.8 437.2 383.2 436.8ZM382.8 434.8 383.2 434.2 383.8 435.2 383.2 435.8ZM382.8 432.8 383.2 433.2 382.8 434.8 382.2 434.2ZM382.2 420.8 382.8 421.2 382.8 432.8 382.2 433.2 381.8 432.8 381.8 421.2ZM381.8 408.2 382.2 408.8 382.2 420.8 381.8 421.2 381.2 420.8 381.2 408.8ZM382.2 405.2 382.8 405.8 382.2 408.8 381.8 408.2ZM382.8 402.2 383.2 402.8 382.8 405.8 382.2 405.2ZM383.2 399.8 383.8 400.2 383.2 402.8 382.8 402.2ZM383.8 396.8 384.2 397.2 383.8 400.2 383.2 399.8ZM384.2 395.2 384.8 395.8 384.2 397.2 383.8 396.8ZM384.2 395.2 384.8 394.8 385.2 395.2 384.8 395.8ZM384.8 394.8 385.2 394.2 385.8 394.8 385.2 395.2ZM385.2 394.2 385.8 393.8 386.2 394.2 385.8 394.8ZM385.8 393.2 386.2 392.8 386.8 393.8 386.2 394.2ZM386.2 392.8 386.8 392.2 387.2 392.8 386.8 393.2ZM386.8 392.2 387.2 391.8 387.8 392.2 387.2 392.8ZM387.2 391.8 387.8 391.2 388.2 391.8 387.8 392.2ZM387.8 391.2 388.2 390.8 388.8 391.2 388.2 391.8ZM388.2 390.8 388.8 390.2 389.2 390.8 388.8 391.2ZM388.8 390.2 389.2 389.8 389.8 390.2 389.2 390.8ZM389.2 389.8 389.8 389.2 390.2 389.8 389.8 390.2ZM389.8 388.8 390.2 388.2 390.8 389.2 390.2 389.8ZM390.2 388.2 390.8 387.8 391.2 388.2 390.8 388.8ZM390.8 387.8 391.2 387.2 391.8 387.8 391.2 388.2ZM391.2 387.2 391.8 386.8 392.2 387.2 391.8 387.8ZM391.8 386.8 392.2 386.2 393.2 386.8 392.8 387.2ZM392.8 386.2 393.2 385.8 394.2 386.2 393.8 386.8ZM393.8 385.8 394.2 385.2 395.8 385.8 395.2 386.2ZM395.2 385.2 395.8 384.8 396.8 385.2 396.2 385.8ZM396.2 384.8 396.8 384.2 398.2 384.8 397.8 385.2ZM397.8 384.2 398.2 383.8 399.2 384.2 398.8 384.8ZM398.8 383.8 399.2 383.2 400.8 383.8 400.2 384.2ZM400.2 383.2 400.8 382.8 401.8 383.2 401.2 383.8ZM584.8 338.8 577.2 344.2 564.2 352.2 560.8 356.8 551.2 362.2 539.2 366.2 513.8 371.8 521.2 371.8 534.8 369.2 536.8 369.8 536.2 371.2 510.2 377.2 506.8 376.8 504.8 377.8 505.8 379.2 507.2 379.8 512.2 379.8 513.8 378.8 519.8 383.2 533.2 399.8 529.8 431.2 529.2 431.8 528.8 430.2 527.2 438.2 527.8 444.8 522.8 461.8 523.2 463.8 521.8 465.2 519.2 471.8 555.2 471.8 556.8 465.2 566.2 447.2 571.8 440.2 584.8 428.8 584.8 396.2 577.8 396.8 569.8 400.2 566.8 399.8 565.2 397.8 565.2 393.8 567.2 386.8 578.8 365.2 582.2 359.8 584.8 357.2ZM528.2 432.8 528.8 432.2 529.2 432.8 528.8 433.2Z"/><path fill="#3e9ae3" fill-rule="evenodd" d="M505.2 378.2 508.8 379.8 511.2 379.8 512.2 378.8 510.2 377.2 506.2 377.2ZM350.2 360.2 350.2 471.8 404.2 471.8 388.2 449.8 381.8 433.2 381.2 408.2 383.2 396.8 385.8 392.8 391.8 386.2 408.2 379.8 422.2 373.2 425.2 374.2 427.2 374.2 427.8 373.2 426.2 371.8 417.8 368.2 401.8 363.2 380.8 360.8ZM419.8 372.2 420.2 371.8 420.8 372.2 420.2 372.8ZM418.2 371.8 418.8 371.2 419.2 371.8 418.8 372.2ZM392.8 365.8 393.2 365.2 394.8 365.8 394.2 366.2ZM386.8 365.2 387.2 364.8 390.8 365.2 390.2 365.8ZM584.8 338.8 575.8 345.2 564.2 352.2 561.8 354.8 561.2 356.2 558.8 358.2 550.2 362.8 536.2 367.2 517.2 371.2 523.2 371.2 535.2 368.8 536.8 369.8 537.2 370.8 526.8 374.2 517.2 375.8 512.2 377.2 522.8 385.8 533.2 399.2 531.8 417.8 529.8 428.2 528.8 441.2 526.2 449.2 525.8 453.8 523.2 460.2 523.2 461.8 524.8 462.2 521.8 465.2 519.2 471.8 554.2 471.8 555.8 465.2 565.8 445.8 568.8 441.8 575.8 434.8 584.8 427.2 584.8 397.2 578.8 397.8 568.8 402.2 565.2 402.2 563.8 400.8 564.2 393.2 566.8 385.8 573.2 374.8 577.2 366.2 582.2 358.8 584.8 356.8Z"/><path fill="#3ca8e8" fill-rule="evenodd" d="M506.2 377.8 507.8 379.2 511.8 378.8 509.2 377.2ZM350.2 360.2 350.2 471.8 403.8 471.8 387.8 449.8 381.2 433.2 380.8 408.2 382.8 396.8 385.2 392.8 391.8 385.8 421.2 373.2 412.8 370.2 413.2 369.8 419.2 371.2 426.2 374.2 427.2 373.8 427.2 372.8 413.2 366.8 405.8 364.2 398.2 362.8 385.8 361.2 376.8 361.2 376.2 360.8ZM412.2 369.8 412.8 369.2 413.2 369.8 412.8 370.2ZM409.8 369.2 410.2 368.8 411.8 369.2 411.2 369.8ZM406.8 368.2 408.8 367.8 410.2 368.8 408.8 369.2ZM405.2 367.8 405.8 367.2 407.2 367.8 406.8 368.2ZM403.8 367.2 404.2 366.8 405.8 367.2 405.2 367.8ZM402.2 366.8 402.8 366.2 403.8 366.8 403.2 367.2ZM386.8 365.2 387.2 364.8 392.8 364.8 401.2 366.2 400.8 366.8 395.8 366.8ZM382.2 364.8 382.8 364.2 384.8 364.8 384.2 365.2ZM584.8 338.8 575.8 345.2 564.2 352.2 561.8 354.8 561.2 356.2 556.8 359.8 550.8 362.8 538.8 366.8 520.8 370.8 524.2 370.8 535.8 368.8 537.2 370.8 536.8 371.8 512.8 377.2 522.8 385.2 533.8 399.8 532.2 416.8 531.2 418.8 530.2 431.8 529.2 433.8 528.2 444.8 523.8 460.2 523.8 461.8 525.2 462.2 522.2 465.2 519.2 471.8 553.2 471.8 555.8 463.2 564.8 445.8 572.2 436.8 584.8 426.2 584.8 398.2 580.2 398.2 566.8 404.2 564.2 404.2 562.8 402.2 562.8 397.2 565.8 386.8 578.2 363.8 581.2 359.2 584.8 355.8ZM535.8 368.8 536.2 368.2 537.2 368.8 536.8 369.2Z"/><path fill="#3ab6ed" fill-rule="evenodd" d="M507.2 378.2 509.8 379.2 511.2 378.8 509.8 377.8ZM350.2 360.8 350.2 471.8 403.8 471.8 387.8 449.8 381.2 433.2 380.8 408.2 382.8 396.8 385.2 392.8 391.8 385.8 421.2 373.2 413.2 370.8 412.2 369.8 412.8 369.2 421.2 371.8 425.2 373.8 427.2 373.2 417.2 368.2 405.2 364.2 397.8 362.8 384.8 361.2ZM403.8 367.2 405.8 366.8 412.2 369.2 410.2 369.8ZM402.2 366.8 402.8 366.2 404.2 366.8 403.8 367.2ZM386.8 365.2 388.8 364.2 402.2 366.2 401.8 366.8 395.8 366.8ZM382.2 364.8 382.8 364.2 386.8 364.8 386.2 365.2ZM584.8 338.8 563.8 352.8 559.8 357.8 553.2 361.8 537.8 367.2 526.2 369.8 536.8 368.2 537.2 368.8 536.2 369.2 537.8 371.2 531.2 373.8 513.2 377.2 522.8 384.8 534.2 400.2 533.8 405.8 532.8 408.8 531.8 422.2 530.2 428.2 529.2 441.2 525.2 456.8 523.8 461.2 526.2 462.2 522.2 465.2 519.8 471.8 552.8 471.8 553.8 466.8 555.8 461.8 564.8 444.2 571.8 436.2 582.8 426.8 584.8 425.8 584.8 398.8 581.2 398.8 578.2 399.8 571.8 403.2 565.2 405.8 563.2 405.8 561.8 403.8 562.2 396.2 565.2 386.8 577.8 363.8 580.8 359.2 584.8 355.2ZM536.8 368.2 537.2 367.8 538.8 368.2 538.2 368.8ZM539.2 367.8 539.8 367.2 540.2 367.8 539.8 368.2Z"/><path fill="#39bfeb" fill-rule="evenodd" d="M350.2 360.8 350.2 471.8 403.2 471.8 387.2 449.8 380.8 433.2 380.2 408.2 382.8 395.2 391.8 385.2 419.8 373.8 419.8 373.2 412.2 370.8 411.8 369.8 405.8 368.8 402.2 367.2 375.2 364.2 375.8 363.8 384.2 363.8 402.2 365.8 421.8 371.8 425.8 373.8 426.8 373.8 426.8 372.8 411.2 366.2 396.8 362.8 384.2 361.2ZM365.2 363.8 365.8 363.2 367.2 363.8 366.8 364.2ZM584.8 338.8 579.8 342.8 563.8 352.8 561.2 356.2 556.2 360.2 549.2 363.8 537.8 367.2 539.8 366.8 541.8 367.2 536.2 369.2 537.8 371.2 536.8 372.2 514.2 377.8 522.8 384.2 523.2 385.8 534.2 399.2 532.8 417.2 531.8 419.2 531.2 427.8 529.8 433.8 529.2 441.2 527.2 450.8 524.2 461.2 525.8 461.2 526.2 462.2 522.2 465.2 519.8 471.8 552.2 471.8 553.2 466.8 555.8 460.2 564.8 443.2 574.8 432.8 584.8 424.8 584.8 399.2 579.8 399.8 563.8 407.2 562.2 407.2 560.8 405.2 561.8 396.2 564.8 386.8 579.8 359.8 584.8 354.8ZM541.8 366.8 542.2 366.2 543.2 366.8 542.8 367.2ZM543.8 366.2 544.2 365.8 544.8 366.2 544.2 366.8ZM545.2 365.8 545.8 365.2 546.2 365.8 545.8 366.2ZM546.8 365.2 547.2 364.8 547.8 365.2 547.2 365.8Z"/><path fill="#3bbddf" fill-rule="evenodd" d="M350.2 360.8 350.2 471.8 402.8 471.8 386.8 450.2 380.8 435.2 380.2 422.2 379.8 421.8 379.8 407.8 382.2 394.8 391.2 384.8 411.2 376.8 417.8 373.2 410.8 370.8 411.2 370.2 408.8 369.8 407.8 368.8 399.8 367.2 395.8 367.2 394.2 366.2 375.8 364.8 375.2 364.2 383.2 363.2 401.2 365.2 425.8 373.2 426.2 372.8 413.2 367.2 405.8 364.8 398.2 363.2 385.8 361.8 377.8 361.8 377.2 361.2ZM365.2 363.8 365.8 363.2 369.8 363.8 369.2 364.2ZM584.8 338.8 581.2 341.8 562.8 353.8 560.2 357.8 552.8 362.2 551.8 364.2 536.2 369.2 538.2 372.2 537.8 372.8 527.2 375.8 515.8 377.8 522.8 383.2 534.8 398.8 533.2 417.8 532.2 420.2 531.8 427.8 530.8 430.2 529.8 441.8 524.8 460.8 526.2 460.8 526.8 461.8 522.2 465.2 519.8 471.8 551.2 471.8 555.2 459.2 562.8 444.2 573.2 432.8 584.8 423.8 584.8 400.2 581.8 400.2 578.8 401.2 562.8 409.2 561.2 409.2 559.8 407.8 559.8 402.2 560.8 396.8 564.8 384.8 579.2 359.8 584.8 354.2ZM531.8 455.2 532.2 456.2 530.8 459.2 529.8 459.8 529.2 459.2 529.8 457.2ZM531.8 454.8 532.2 454.2 532.8 455.2 532.2 455.8ZM551.8 363.2 552.2 362.8 553.8 363.2 553.2 363.8ZM553.8 362.8 554.2 362.2 555.2 362.8 554.8 363.2Z"/><path fill="#3dbbd2" fill-rule="evenodd" d="M350.2 361.2 350.2 471.8 401.8 471.8 386.2 450.8 380.2 435.8 379.8 422.8 379.2 422.2 379.2 407.2 381.8 394.2 390.8 384.2 416.2 373.8 410.8 371.8 410.2 370.8 411.2 370.2 406.2 369.2 402.8 367.8 391.8 366.8 390.2 365.8 382.2 364.8 355.8 363.8 355.2 363.2 355.8 362.8 368.2 362.8 368.8 363.2 392.8 363.8 396.2 364.8 402.8 365.2 418.8 370.2 416.2 368.8 406.2 365.2 393.2 362.8 383.8 361.8ZM584.8 338.8 581.2 341.8 564.8 352.2 561.8 355.2 561.2 356.8 555.8 361.2 557.8 361.2 558.2 361.8 536.2 369.2 538.8 372.8 537.2 373.8 525.2 377.2 518.8 378.2 523.8 382.8 526.8 387.8 535.8 398.8 534.8 412.8 533.8 414.8 533.2 422.2 532.2 424.2 532.2 427.8 530.8 433.8 530.2 441.8 529.2 444.2 528.2 451.2 525.8 458.8 525.8 460.2 526.8 460.2 527.2 461.2 522.2 465.2 519.8 471.8 550.8 471.8 551.8 466.2 554.2 459.8 562.8 442.8 573.2 431.8 581.8 424.8 584.8 423.2 584.8 401.2 579.8 401.8 562.8 410.8 559.8 411.2 558.2 408.8 559.2 399.8 562.8 388.2 579.2 359.8 584.8 354.2ZM533.8 451.8 534.2 453.2 532.2 458.2 527.8 460.8 527.2 460.2 529.8 455.8ZM533.8 451.2 534.2 450.8 534.8 451.8 534.2 452.2Z"/><path fill="#3fb9c6" fill-rule="evenodd" d="M350.2 363.2 350.2 471.8 400.2 471.8 385.8 451.8 379.2 435.8 378.8 422.8 378.2 422.2 378.2 407.2 380.8 394.2 389.8 383.8 413.8 373.8 408.8 371.8 410.8 370.2 399.2 367.2 383.8 365.8 382.2 364.8ZM350.2 361.2 350.2 362.2 368.2 362.2 368.8 362.8 385.8 362.8 386.2 363.2 388.8 362.8ZM584.8 339.2 564.8 352.2 561.8 355.2 561.2 357.2 558.2 359.8 559.8 361.2 537.8 369.2 537.2 369.8 540.2 373.8 529.8 377.2 524.2 379.8 529.2 389.2 535.8 396.2 537.2 398.8 536.8 407.2 535.8 409.8 534.8 418.2 531.2 434.2 530.2 445.2 527.8 455.8 526.2 458.8 526.8 459.2 528.8 455.2 533.8 450.2 535.2 450.8 535.2 452.2 533.2 458.2 532.2 459.2 529.2 459.8 523.2 464.2 521.2 467.2 519.8 471.8 550.2 471.8 552.2 462.8 561.8 442.8 572.8 431.2 581.2 424.2 584.8 422.2 584.8 401.8 580.2 402.2 559.8 413.2 558.8 413.2 557.2 411.8 557.8 403.8 562.8 388.2 578.8 360.2 584.8 354.2ZM534.8 449.8 535.2 449.2 535.8 450.2 535.2 450.8Z"/><path fill="#40b5b8" fill-rule="evenodd" d="M350.2 363.2 350.2 471.8 398.2 471.8 384.2 452.8 377.2 435.8 376.8 422.8 376.2 422.2 376.2 407.2 378.8 394.2 385.8 385.2 388.8 382.2 392.8 380.2 408.8 373.8 406.8 372.8 410.2 370.2 405.2 368.8 400.2 368.2 399.2 367.2 395.2 367.2 386.8 365.8ZM584.8 339.2 564.2 352.8 561.8 355.2 561.2 357.8 559.8 358.8 559.2 359.8 560.2 360.8 559.2 361.8 556.8 362.2 556.2 363.2 537.8 369.2 537.2 369.8 541.2 375.8 540.2 376.8 538.2 376.8 533.2 378.8 530.2 381.8 529.8 385.2 531.8 389.2 541.2 397.2 540.8 403.8 536.8 414.2 533.8 427.8 532.8 429.8 531.2 443.2 529.2 452.2 535.2 448.2 536.2 448.8 536.2 450.2 534.2 457.8 532.2 459.2 529.2 459.8 523.2 464.2 521.2 467.2 519.8 471.8 549.8 471.8 552.8 459.8 561.8 441.8 572.8 430.2 579.2 424.8 584.8 421.2 584.8 402.8 580.2 403.2 562.8 412.2 560.2 414.2 557.8 414.2 556.2 412.2 556.2 409.8 558.8 399.8 562.2 389.2 578.8 360.2 584.8 354.2Z"/><path fill="#40b1ab" fill-rule="evenodd" d="M350.2 363.8 350.2 471.8 394.8 471.8 393.2 468.8 386.2 463.2 374.8 460.8 363.2 455.8 356.8 445.8 354.8 432.2 355.2 391.8 360.2 382.2 362.2 379.8 387.2 376.2 396.2 375.8 397.8 374.8 403.8 374.2 409.8 370.2 394.8 366.8 382.2 365.2ZM584.8 339.2 564.2 352.8 562.2 354.8 560.2 360.8 559.2 361.8 550.2 365.8 537.8 369.8 543.2 378.2 537.8 379.2 534.8 380.8 532.8 383.8 532.8 386.2 535.8 390.2 541.8 392.2 543.8 393.8 544.2 399.8 541.8 408.2 534.8 425.2 532.2 435.8 530.8 449.2 536.2 447.2 536.8 447.8 536.2 453.2 535.2 456.8 533.8 458.8 529.2 459.8 522.2 465.2 519.8 471.8 549.8 471.8 553.2 457.8 561.2 441.8 564.2 437.8 571.2 431.2 581.2 423.2 584.8 421.2 584.8 402.8 580.2 403.2 559.2 415.2 557.2 415.2 555.8 413.8 555.8 411.2 561.8 390.2 578.8 360.2 584.8 354.2Z"/><path fill="#40ac9d" fill-rule="evenodd" d="M350.2 363.8 350.2 471.8 394.8 471.8 393.2 468.8 386.2 463.2 374.8 460.8 362.8 455.8 357.8 447.8 356.2 443.8 355.8 436.8 354.2 431.8 354.8 392.2 362.2 379.8 382.8 376.8 391.8 376.2 397.2 374.8 401.2 374.8 405.2 373.2 408.8 371.2 409.2 370.2 402.8 368.2 395.8 367.8 394.8 366.8 381.8 365.2ZM584.8 339.2 564.2 352.8 561.8 355.8 560.2 360.8 557.8 362.8 552.2 365.2 537.8 369.8 545.8 381.8 545.2 382.2 542.8 381.2 539.2 381.2 536.2 383.2 535.8 386.2 538.2 388.8 543.8 389.2 545.8 390.8 546.2 397.2 542.8 409.8 534.2 429.8 533.2 433.8 531.8 446.2 537.2 447.2 536.8 454.2 534.2 458.8 529.2 459.8 522.2 465.2 519.8 471.8 549.8 471.8 550.2 467.8 553.8 455.8 561.2 440.8 571.8 430.8 581.8 422.8 584.8 421.2 584.8 402.8 580.2 403.2 570.8 408.2 562.2 413.8 560.2 415.8 556.2 416.2 555.2 415.2 558.2 401.2 562.2 388.8 578.8 360.2 584.8 353.8Z"/><path fill="#40a890" fill-rule="evenodd" d="M350.2 363.8 350.2 471.8 394.2 471.8 393.2 469.2 385.8 463.2 374.2 460.8 362.8 455.8 356.8 445.8 354.2 431.8 354.8 392.2 359.8 382.8 362.2 379.8 374.2 377.8 391.8 376.2 393.2 375.2 401.2 374.8 404.2 373.8 409.2 370.2 403.8 369.2 402.2 368.2 381.8 365.2ZM584.8 339.2 563.8 353.2 561.8 355.8 560.2 360.8 558.8 362.2 555.2 364.2 538.8 369.8 538.8 370.8 547.8 384.2 548.2 387.8 545.8 403.8 539.2 422.2 535.2 429.8 533.2 437.8 532.8 444.2 534.2 445.8 537.2 446.8 537.2 451.8 537.8 452.2 534.2 458.8 529.2 459.8 522.2 465.2 519.8 471.8 549.8 471.8 550.2 467.8 554.2 453.8 558.2 446.8 559.8 442.2 575.8 427.2 584.8 421.2 584.8 402.8 580.8 403.2 571.8 407.8 563.8 412.8 558.2 417.2 555.8 417.2 554.2 416.2 555.8 412.8 558.8 399.2 562.2 388.8 579.2 359.2 584.8 353.8Z"/><path fill="#49a485" fill-rule="evenodd" d="M350.2 363.8 350.2 471.8 394.2 471.8 393.2 469.2 385.8 463.2 374.2 460.8 362.8 455.8 356.2 445.2 354.2 432.2 354.8 391.8 361.8 379.8 374.2 377.8 390.2 376.2 392.8 375.2 400.8 374.8 408.8 370.8 407.2 369.8 403.2 369.2 399.2 367.8 391.8 367.2 390.2 366.2ZM584.8 339.2 565.2 352.2 561.8 355.8 560.2 361.2 559.2 362.2 550.8 366.2 538.8 370.2 549.8 387.8 545.8 406.2 544.8 407.8 540.8 421.2 536.8 428.8 534.2 435.8 533.8 442.8 535.2 444.8 537.8 446.2 538.2 450.8 534.2 458.8 529.2 459.8 522.2 465.2 519.8 471.8 549.8 471.8 550.2 467.8 554.2 455.2 554.8 451.8 557.8 447.2 558.8 443.2 575.8 427.2 584.8 421.2 584.8 402.8 580.8 403.2 571.8 407.8 563.8 412.8 556.8 418.8 554.2 417.2 558.2 400.8 562.2 388.8 578.8 359.8 584.8 353.8Z"/><path fill="#52a17b" fill-rule="evenodd" d="M350.2 363.8 350.2 471.8 394.2 471.8 393.2 469.2 385.8 463.2 374.2 460.8 362.8 455.8 356.2 445.2 354.2 432.2 354.8 391.8 359.8 382.2 360.8 381.8 361.8 379.8 374.2 377.8 386.8 376.8 387.8 375.8 399.8 374.8 401.8 373.8 403.8 373.8 408.2 370.8 404.8 369.2 400.2 368.8 398.8 367.8 387.8 366.8 386.2 365.8ZM584.8 339.2 565.2 352.2 562.2 355.2 559.8 362.2 558.8 362.2 555.2 364.8 539.2 370.2 549.8 387.2 550.2 388.8 549.8 392.2 548.8 394.2 546.8 405.2 543.8 412.8 541.2 422.2 535.2 434.8 534.8 441.8 537.8 445.2 538.2 447.2 537.8 452.2 534.2 458.8 529.2 459.8 522.2 465.2 519.8 471.8 549.8 471.8 551.2 463.8 554.8 453.2 554.8 451.2 558.2 445.2 558.2 443.8 569.2 432.8 584.8 420.8 584.8 402.8 580.8 403.2 572.8 407.2 563.2 413.2 555.8 419.8 553.8 418.2 558.8 398.8 562.2 388.8 578.8 359.8 584.8 353.8Z"/><path fill="#5b9970" fill-rule="evenodd" d="M350.2 363.8 350.2 471.8 394.2 471.8 393.2 469.2 385.8 463.2 374.2 460.8 362.8 455.8 356.2 445.8 354.2 432.2 354.8 391.8 359.8 382.2 360.8 381.8 361.8 379.8 374.2 377.8 382.2 377.2 383.8 376.2 396.2 375.2 398.8 374.2 403.2 373.8 408.2 370.8 402.2 368.8 399.8 368.8 398.2 367.8 383.8 366.2 381.8 365.2ZM584.8 339.2 564.8 352.8 562.2 355.2 560.8 360.8 559.2 362.8 554.2 365.2 539.2 370.2 548.2 383.8 550.8 389.2 550.8 391.2 549.2 395.2 547.2 406.2 546.2 407.8 544.2 415.8 542.8 417.8 540.8 425.2 535.8 435.8 535.2 439.8 535.8 441.8 538.2 445.2 538.8 448.8 537.8 452.2 534.2 458.8 529.2 459.8 522.2 465.2 519.8 471.8 549.8 471.8 551.2 463.8 554.8 453.2 554.8 450.8 558.8 442.8 576.2 426.8 584.8 420.8 584.8 402.8 580.8 403.2 570.2 408.8 559.2 416.2 555.2 420.2 553.8 418.8 558.2 400.2 562.2 388.2 578.8 359.8 584.8 353.8Z"/><path fill="#639166" fill-rule="evenodd" d="M350.2 363.8 350.2 471.8 394.2 471.8 393.2 469.2 385.8 463.2 374.2 460.8 363.2 456.2 356.2 445.8 354.2 432.2 354.8 391.8 359.8 382.2 360.8 381.8 361.8 379.8 374.2 377.8 378.2 377.8 383.2 376.2 401.2 374.2 404.2 373.2 407.8 370.8 402.2 368.8 399.8 368.8 394.8 367.2 382.8 366.2 381.2 365.2ZM584.8 339.2 564.8 352.8 562.2 355.2 559.8 362.8 550.8 366.8 539.2 370.2 549.2 385.2 550.8 388.8 550.8 391.8 549.2 395.8 547.2 406.2 544.2 414.8 543.8 419.2 542.2 420.8 540.8 426.2 537.2 432.2 535.8 437.2 535.8 440.2 538.2 444.2 538.8 447.8 537.8 452.2 534.2 458.8 529.2 459.8 522.2 465.2 519.8 471.8 549.8 471.8 551.2 463.8 554.8 453.2 554.8 450.8 557.2 446.8 558.2 443.2 576.2 426.8 584.8 420.8 584.8 403.2 584.2 402.8 579.8 403.8 567.8 410.2 559.2 416.2 555.2 420.2 553.8 419.2 557.2 403.8 562.2 388.2 570.8 374.2 576.8 362.8 580.2 357.8 584.8 353.8Z"/><path fill="#6b885c" fill-rule="evenodd" d="M350.2 363.8 350.2 471.8 394.2 471.8 393.2 469.2 385.8 463.2 374.2 460.8 363.2 456.2 356.2 445.8 354.2 432.8 354.8 391.2 361.8 379.8 374.2 377.8 378.2 377.8 379.2 376.8 395.8 375.2 397.2 374.2 402.8 373.8 407.8 370.8 402.2 368.8 396.8 368.2 394.8 367.2 386.8 366.8 374.8 364.8ZM584.8 339.2 564.8 352.8 562.2 355.2 559.8 362.8 553.8 365.8 539.8 370.2 549.2 385.2 550.8 388.8 550.8 391.8 547.2 406.2 544.8 413.2 543.2 421.8 541.8 423.2 541.2 425.8 537.2 433.2 536.2 436.8 536.2 440.2 538.8 445.2 538.2 445.8 538.8 449.2 537.8 452.2 534.2 458.8 529.2 459.8 522.2 465.2 519.8 471.8 549.8 471.8 551.2 463.8 554.8 453.2 554.8 450.8 558.2 443.2 576.8 426.2 584.8 420.8 584.8 403.2 584.2 402.8 581.2 403.2 571.2 408.2 563.2 413.2 555.2 420.2 553.8 419.8 554.2 415.2 556.2 409.8 558.2 399.8 559.2 398.2 562.2 388.2 578.2 360.2 584.8 353.8Z"/><path fill="#737f51" fill-rule="evenodd" d="M350.2 363.8 350.2 471.8 394.2 471.8 392.8 468.8 386.2 463.8 374.8 461.2 363.2 456.2 361.2 454.2 357.2 447.8 355.8 443.8 354.8 433.2 353.8 430.2 354.2 392.2 357.8 385.2 361.8 379.8 366.8 379.2 370.8 377.8 400.8 374.2 403.8 373.2 407.2 370.8 403.2 369.8 402.2 368.8 395.8 368.2 394.2 367.2 375.2 365.2 368.2 365.2 364.8 364.2ZM584.8 339.2 578.2 344.2 570.2 348.8 566.2 352.2 564.8 352.8 561.8 356.2 560.8 361.2 559.8 362.8 552.8 366.2 539.8 370.2 547.8 382.2 551.2 389.8 547.2 406.2 543.8 417.2 543.2 422.2 541.8 424.2 536.8 435.8 536.8 440.8 538.8 443.8 539.2 447.8 537.8 452.8 534.2 458.8 529.2 459.8 522.2 465.2 519.8 471.8 549.8 471.8 551.2 463.2 554.8 452.8 554.8 450.2 558.2 443.2 576.8 426.2 584.8 420.8 584.8 403.2 581.2 403.2 572.2 407.8 563.2 413.2 554.2 420.8 553.2 420.2 558.2 399.8 561.8 389.2 578.2 360.2 584.8 353.8Z"/><path fill="#7b7647" fill-rule="evenodd" d="M350.2 363.8 350.2 471.8 394.2 471.8 392.2 468.2 385.2 463.2 374.8 461.2 362.8 456.2 357.2 447.8 355.8 443.8 355.8 440.2 353.8 431.8 354.2 392.2 359.2 382.8 362.2 379.2 382.8 376.2 391.8 375.8 396.8 374.2 400.8 374.2 407.2 370.8 399.2 368.2 395.8 368.2 394.2 367.2ZM584.8 339.2 579.8 343.2 564.8 352.8 561.8 356.8 559.8 363.2 554.2 365.8 540.2 370.2 550.2 386.8 551.2 389.2 543.8 417.2 542.8 424.8 537.2 435.2 536.8 439.2 538.8 443.2 539.2 447.2 537.8 452.8 534.2 458.8 529.2 459.8 522.2 465.2 519.8 471.8 549.8 471.8 551.2 463.2 554.8 452.8 554.8 450.2 557.8 443.8 571.2 430.8 573.2 429.8 579.2 424.2 584.8 420.8 584.8 403.2 581.2 403.2 572.2 407.8 562.8 413.8 553.8 421.2 553.2 420.8 558.2 399.8 561.8 389.2 578.2 360.2 584.8 353.8Z"/><path fill="#846d3e" fill-rule="evenodd" d="M350.2 364.2 350.2 471.8 394.2 471.8 392.2 468.2 385.2 463.2 374.8 461.2 362.8 456.2 357.2 447.8 355.8 443.8 355.8 440.8 353.8 432.2 354.2 391.8 359.2 382.8 362.2 379.2 382.8 376.2 391.8 375.8 396.8 374.2 400.8 374.2 401.8 373.2 404.2 372.8 406.8 370.8 404.8 369.8 390.8 366.8 375.2 365.2ZM584.8 339.2 579.8 343.2 564.8 352.8 561.8 356.8 559.8 363.2 550.8 367.2 540.2 370.8 549.8 385.2 551.2 390.2 549.8 394.2 547.2 406.8 543.8 417.2 542.8 425.8 541.2 427.2 537.2 436.8 537.2 439.8 539.2 443.2 538.8 444.2 539.2 448.2 537.8 452.8 534.2 458.8 529.2 459.8 522.2 465.2 519.8 471.8 549.8 471.8 550.2 467.2 554.2 454.8 555.2 448.2 557.8 443.8 571.2 430.8 581.2 422.8 584.8 420.8 584.8 403.2 581.2 403.2 567.2 410.8 558.8 416.8 553.8 421.8 553.2 421.2 553.8 416.8 561.2 390.2 580.2 357.2 584.8 353.8Z"/><path fill="#8d6739" fill-rule="evenodd" d="M350.2 364.2 350.2 471.8 393.8 471.8 392.8 469.2 385.8 463.8 374.2 461.2 362.8 456.2 356.2 446.2 356.2 444.8 355.2 443.2 355.2 439.8 353.8 432.2 354.2 391.8 359.2 382.2 361.8 379.2 399.2 374.2 403.8 372.8 405.2 370.8 398.8 368.2 395.2 368.2 386.2 366.2ZM584.8 339.2 581.2 342.2 564.2 353.2 561.8 356.8 559.8 363.8 550.2 367.8 540.8 370.8 546.2 378.8 551.8 388.8 543.8 417.8 542.2 428.2 538.8 434.2 537.8 437.8 539.8 443.2 539.2 444.8 540.2 445.8 538.2 452.2 535.8 457.2 534.2 458.8 529.2 459.8 523.2 464.8 520.2 471.8 549.2 471.8 550.8 463.8 554.2 453.2 555.2 446.8 568.8 432.8 579.8 423.8 584.8 420.8 584.8 403.2 581.8 403.2 568.2 410.2 559.8 416.2 553.8 421.8 553.2 421.2 553.8 416.2 555.2 412.8 558.2 399.2 561.8 388.8 578.8 359.2 584.8 353.2Z"/><path fill="#986034" fill-rule="evenodd" d="M350.2 364.2 350.2 471.8 393.8 471.8 392.8 469.2 385.8 463.8 374.2 461.2 362.8 456.2 360.2 453.2 355.8 445.2 353.8 432.8 354.2 391.2 356.8 386.2 361.8 379.2 374.2 377.2 386.2 376.2 392.2 374.8 395.8 374.8 397.2 373.8 400.8 373.8 403.8 372.2 404.2 370.8 399.2 368.8 381.8 365.8ZM584.8 339.2 581.2 342.2 571.2 348.2 563.8 353.8 562.2 355.8 559.8 364.2 548.8 368.8 541.8 370.8 541.8 371.8 550.2 384.8 551.8 388.8 549.2 397.2 547.8 405.8 543.8 418.2 542.2 429.8 538.8 436.8 540.2 446.2 538.2 452.8 535.8 457.8 529.2 460.2 523.2 464.8 520.2 471.8 549.2 471.8 549.8 467.2 553.8 454.8 555.2 446.8 558.2 442.8 570.8 430.8 584.8 420.2 584.8 403.2 582.8 403.2 568.8 410.2 558.8 417.2 553.8 421.8 553.2 421.2 553.8 415.8 561.2 389.8 578.2 359.8 584.8 353.2ZM538.8 438.2 539.2 437.8 539.8 438.2 539.2 438.8Z"/><path fill="#a25930" fill-rule="evenodd" d="M350.2 364.2 350.2 471.8 393.8 471.8 391.8 468.2 384.8 463.2 374.2 461.2 362.2 456.2 356.8 447.8 355.2 443.8 354.8 437.2 353.2 431.8 353.8 391.8 358.8 382.8 360.2 381.8 361.8 379.2 381.8 376.8 387.2 375.2 394.8 374.8 396.8 373.8 400.8 373.2 402.8 372.2 403.2 371.2 398.8 368.8 395.8 368.8 394.2 367.8 387.2 367.2 381.2 365.8ZM584.8 339.8 569.8 349.2 562.8 355.2 559.8 365.2 559.2 364.8 553.2 367.8 542.2 371.2 548.2 380.2 552.2 387.8 549.8 395.8 547.8 406.2 544.2 417.2 542.2 430.8 539.8 437.8 539.8 443.2 540.8 444.8 538.2 452.8 535.8 457.8 534.2 459.2 529.8 460.2 523.8 464.8 520.2 471.8 549.2 471.8 550.8 463.2 554.2 452.8 554.8 447.8 557.2 443.8 568.8 432.2 579.8 423.2 584.8 420.2 584.8 403.8 581.8 403.8 568.2 410.8 559.8 416.8 553.2 422.8 552.8 422.2 553.2 416.8 555.8 409.2 557.8 399.8 558.8 398.2 561.8 388.2 578.2 359.8 584.8 353.2Z"/><path fill="#ac5330" fill-rule="evenodd" d="M350.2 364.2 350.2 471.8 393.8 471.8 391.2 468.2 385.2 463.8 374.8 461.8 362.8 456.8 355.8 446.2 353.2 432.8 353.8 391.2 358.8 382.2 360.2 381.2 361.2 379.2 373.2 377.8 374.8 376.8 391.2 375.2 392.8 374.2 395.8 374.2 397.2 373.2 399.2 373.2 401.2 371.2 398.8 369.2 390.2 367.2 375.8 366.2 373.2 365.2ZM584.8 339.8 577.8 344.8 569.8 349.2 563.2 354.8 562.2 356.2 560.2 364.8 558.8 368.2 558.2 366.2 553.2 368.8 543.8 371.8 552.8 386.2 550.2 394.2 547.8 406.8 544.2 417.2 542.8 430.2 541.8 432.2 542.2 434.2 540.2 437.2 540.2 443.2 541.2 444.8 538.8 452.8 535.8 458.8 529.8 460.2 523.8 464.8 520.2 471.8 548.8 471.8 549.2 467.2 553.2 454.8 554.8 446.2 570.8 430.2 584.8 419.8 584.8 403.8 582.2 403.8 567.8 411.2 558.8 417.8 552.8 423.2 552.2 422.8 553.2 416.2 561.2 389.2 578.2 359.2 581.2 355.8 584.8 353.2ZM551.8 423.2 552.2 422.8 552.8 423.2 552.2 423.8ZM557.8 369.8 558.2 370.2 557.8 371.8 557.2 371.2ZM558.2 367.8 558.8 368.2 558.2 369.8 557.8 369.2Z"/><path fill="#b74d30" fill-rule="evenodd" d="M350.2 364.8 350.2 471.8 393.2 471.8 391.8 468.8 384.8 463.8 374.2 461.8 361.8 456.2 355.2 445.8 354.2 437.2 353.2 435.8 352.8 432.2 353.2 391.2 358.2 382.8 359.8 381.8 361.8 378.8 394.2 374.2 398.8 372.2 398.8 370.8 394.2 368.2 391.2 368.2 381.8 366.2ZM584.8 339.8 569.2 349.8 566.2 352.8 564.2 353.8 562.2 356.8 560.2 365.2 552.8 385.2 547.8 406.8 544.2 417.8 542.2 434.2 540.2 438.2 540.2 441.8 541.2 444.8 538.8 452.8 535.2 459.2 529.2 460.8 523.2 465.2 520.8 471.8 548.8 471.8 550.2 463.2 553.8 452.8 554.8 445.8 568.2 432.2 579.8 422.8 584.8 419.8 584.8 403.8 583.2 403.8 569.8 410.2 559.8 417.2 552.2 423.8 551.8 423.2 557.8 399.2 561.2 388.8 570.2 373.8 574.8 364.8 577.8 360.8 577.8 359.8 584.8 352.8Z"/><path fill="#c14730" fill-rule="evenodd" d="M350.2 364.8 350.2 471.8 393.2 471.8 391.2 468.8 384.2 463.8 373.8 461.8 362.2 456.8 356.2 448.2 354.2 443.2 353.8 437.8 352.8 436.2 352.8 433.2 351.8 430.8 351.2 397.8 352.8 390.8 356.2 384.8 358.8 381.8 359.8 381.8 361.8 378.8 369.8 377.2 381.8 376.2 383.2 375.2 391.2 374.8 392.2 373.8 395.2 373.2 396.2 372.2 396.2 370.2 390.2 367.8 383.2 367.2 381.2 366.2ZM584.8 339.8 574.8 346.8 569.2 349.8 562.8 355.8 560.2 365.8 552.8 385.8 547.8 407.8 544.2 418.8 542.8 432.2 540.2 438.8 541.2 444.8 538.8 452.8 534.8 459.8 529.8 460.8 523.2 465.8 520.8 471.8 548.8 471.8 550.2 463.2 553.8 452.8 554.8 445.8 565.2 434.8 578.2 423.8 584.8 419.8 584.8 404.2 581.8 404.2 569.2 410.8 559.8 417.2 552.8 423.8 551.8 423.2 553.2 414.8 560.8 389.8 577.8 359.8 584.8 352.8Z"/><path fill="#ca4230" fill-rule="evenodd" d="M350.2 438.8 350.2 471.8 392.8 471.8 391.8 469.2 384.8 464.2 374.2 462.2 362.2 457.2 355.8 448.2 352.8 439.8 351.8 438.8ZM350.2 382.8 355.2 382.8 356.8 381.8 359.2 381.8 361.2 378.8 364.2 377.8 390.8 374.2 393.2 372.8 393.8 371.2 393.2 369.8 390.2 368.2 387.2 368.2 385.8 367.2 350.2 364.8ZM584.8 339.8 577.2 345.2 569.2 349.8 562.8 356.2 560.8 364.8 551.8 389.8 548.2 406.2 544.8 417.2 542.8 434.2 540.8 437.2 541.2 444.8 538.8 452.8 534.8 460.2 533.8 459.8 530.2 460.8 523.2 466.2 521.2 471.8 548.8 471.8 550.2 463.2 553.8 452.8 554.8 445.2 560.8 438.8 570.8 429.8 573.2 428.2 574.8 426.2 584.8 419.2 584.8 404.2 582.2 404.2 573.8 408.2 564.8 413.8 551.8 424.8 551.2 424.2 551.8 420.2 555.2 409.2 557.2 399.8 561.2 388.2 577.2 360.2 579.8 356.8 584.8 352.8Z"/><path fill="#d33d30" fill-rule="evenodd" d="M350.2 446.8 350.2 471.8 392.8 471.8 391.2 469.2 384.2 464.2 373.8 462.2 361.8 457.2 356.8 450.2 353.2 446.8ZM350.2 381.8 358.8 381.8 361.2 378.2 385.8 374.8 389.8 372.8 389.8 369.8 385.2 367.8 382.2 367.8 378.8 366.8 350.2 365.2ZM584.8 339.8 575.8 346.2 568.8 350.2 562.8 356.8 558.8 371.8 553.2 385.2 548.2 406.8 545.8 413.8 543.8 423.8 542.8 434.8 540.8 438.2 541.2 444.8 538.8 452.8 534.8 460.2 530.2 461.2 523.8 466.2 521.8 471.8 548.8 471.8 550.2 463.2 553.8 452.8 554.8 445.2 568.2 431.8 577.8 423.8 584.8 419.2 584.8 404.2 582.8 404.2 568.2 411.8 559.8 417.8 551.8 425.2 551.2 424.8 552.8 415.8 560.8 388.8 574.2 364.8 577.2 360.8 577.2 359.8 584.8 352.2Z"/><path fill="#db3c34" fill-rule="evenodd" d="M350.2 449.2 350.2 471.8 391.8 471.8 390.8 469.8 384.8 465.2 374.8 463.2 361.2 457.8 358.2 454.8 354.8 454.2ZM350.2 381.8 358.2 381.8 361.2 377.8 381.2 374.8 384.2 373.2 384.2 369.2 381.2 367.8 374.2 366.8 364.8 366.8 350.2 365.2ZM584.8 339.8 578.2 344.8 568.8 350.2 563.2 356.2 560.2 368.2 553.8 384.8 548.8 406.2 545.2 417.2 543.2 434.2 541.2 437.2 541.8 444.8 539.2 452.8 535.8 459.8 534.2 461.2 533.8 460.8 530.2 461.8 524.2 466.2 522.2 471.8 548.2 471.8 549.8 463.2 553.2 452.8 554.2 445.2 567.8 431.8 579.2 422.2 584.8 418.8 584.8 404.8 582.2 404.8 568.8 411.8 560.2 417.8 551.2 425.8 550.8 425.2 552.2 416.2 554.8 409.2 556.8 399.8 560.8 388.2 577.2 359.2 582.2 353.8 584.8 352.2ZM526.2 470.8 526.8 470.2 527.2 470.8 526.8 471.2ZM526.8 470.2 527.2 469.8 527.8 470.2 527.2 470.8ZM527.8 468.8 528.2 468.2 528.8 468.8 528.2 469.2ZM528.2 468.2 528.8 467.8 529.2 468.2 528.8 468.8ZM528.8 467.8 529.2 467.2 529.8 467.8 529.2 468.2Z"/><path fill="#e0413c" fill-rule="evenodd" d="M350.2 449.8 350.2 471.8 381.8 471.8 381.2 470.8 368.8 465.8 364.2 463.2 360.2 460.2ZM350.2 365.8 350.2 381.8 357.2 381.8 358.8 378.8 361.2 376.8 368.8 375.8 375.8 373.8 375.8 369.2 373.8 368.2 365.2 367.8 363.2 366.8 359.2 366.8 354.8 365.8ZM584.8 339.8 581.2 342.8 567.8 351.2 563.8 356.2 559.8 371.2 553.8 386.2 549.2 406.2 545.8 417.2 543.8 434.8 542.2 436.2 541.2 439.2 542.2 443.8 540.8 448.8 535.8 460.2 526.8 471.8 548.2 471.8 549.8 462.8 553.2 452.2 554.2 444.8 567.8 431.2 577.8 422.8 584.8 418.2 584.8 405.2 582.2 405.2 572.2 410.2 564.2 415.2 553.2 424.2 550.2 427.8 549.8 427.2 551.8 416.2 553.2 412.8 555.8 401.8 559.2 390.8 562.8 383.2 569.2 373.2 569.8 371.2 576.8 360.2 576.8 359.2 584.8 351.2Z"/><path fill="#e64644" fill-rule="evenodd" d="M350.2 449.8 350.2 471.8 381.8 471.8 381.2 470.8 368.8 465.8 364.2 463.2 360.2 460.2ZM350.2 366.2 350.2 373.8 355.8 373.2 359.8 370.8 360.2 368.8 358.8 367.2 354.8 366.2ZM584.8 340.2 569.8 349.8 566.2 353.2 564.8 356.2 561.8 369.2 554.2 390.2 551.2 405.2 547.2 418.2 547.2 420.8 545.2 428.2 544.8 435.8 542.8 439.8 543.8 444.2 542.2 449.2 537.2 460.8 528.8 471.8 546.8 471.8 547.2 466.2 551.8 451.8 552.8 446.2 552.2 444.2 569.2 427.2 578.2 419.8 584.8 415.8 584.8 407.2 583.2 407.2 565.8 416.8 554.8 425.2 548.8 431.2 548.2 430.8 549.2 419.2 552.8 408.2 554.8 399.2 555.8 397.8 558.8 387.8 570.8 367.2 575.8 360.2 575.8 359.2 578.2 355.8 584.8 350.2Z"/><path fill="#e94e48" fill-rule="evenodd" d="M350.2 449.8 350.2 471.8 381.8 471.8 378.8 469.8 368.2 465.8 363.8 463.2 359.8 460.2ZM350.2 366.8 350.2 371.8 353.8 371.8 356.8 370.2 356.2 367.8 354.2 366.8ZM584.8 340.2 576.2 346.2 569.8 349.8 566.2 353.2 565.2 355.2 561.2 371.2 555.2 387.2 550.8 407.2 547.2 418.2 546.2 427.2 545.2 428.8 544.8 435.8 543.2 437.8 543.8 444.2 542.2 449.2 537.2 460.8 528.8 471.8 546.8 471.8 547.2 466.2 551.8 451.8 552.8 446.2 552.2 444.2 566.2 429.8 576.8 420.8 584.8 415.8 584.8 407.8 582.2 407.8 566.8 416.2 554.8 425.2 548.8 431.8 548.2 431.2 548.2 425.2 549.2 419.2 552.8 408.2 554.8 398.8 557.2 393.2 558.2 388.8 561.2 382.8 577.8 356.2 584.8 350.2Z"/><path fill="#eb5a48" fill-rule="evenodd" d="M350.2 449.8 350.2 471.8 381.8 471.8 378.8 469.8 368.2 465.8 363.8 463.2 359.8 460.2ZM350.2 368.2 350.8 370.2 353.2 370.2 354.2 369.2 353.2 367.8ZM584.8 340.2 569.2 350.2 565.8 354.2 562.8 363.8 560.8 373.2 554.2 390.8 554.2 393.2 550.8 407.2 547.2 418.2 545.8 431.2 544.8 432.8 544.8 435.8 543.2 438.2 543.8 444.2 542.2 449.2 537.2 460.8 528.8 471.8 546.8 471.8 547.2 466.2 551.8 451.8 552.8 446.2 552.2 443.8 568.8 427.2 570.8 426.2 572.8 423.8 577.8 419.8 584.8 415.2 584.8 407.8 582.8 407.8 573.8 412.2 566.2 416.8 564.2 418.8 561.8 419.8 558.8 422.8 554.2 425.8 548.8 431.8 547.8 431.2 549.2 419.2 552.8 408.2 555.8 395.2 557.2 392.8 558.8 387.2 576.2 358.2 582.2 351.8 584.8 350.2Z"/><path fill="#ec6348" fill-rule="evenodd" d="M350.2 449.8 350.2 471.8 381.8 471.8 378.8 469.8 368.2 465.8 363.8 463.2 359.8 460.2ZM584.8 340.2 577.2 345.8 569.2 350.2 566.8 352.8 564.8 356.8 561.2 371.8 555.2 387.8 550.8 407.8 547.2 418.8 545.2 434.8 543.2 438.2 543.8 444.2 542.2 449.2 537.2 460.8 528.8 471.8 546.8 471.8 547.2 466.2 551.8 451.8 552.8 446.2 552.2 443.8 563.2 432.2 573.2 423.2 584.8 415.2 584.8 407.8 583.2 407.8 578.8 409.8 561.2 420.2 548.2 432.2 547.8 431.8 549.2 418.8 557.2 390.8 561.2 382.2 576.2 358.2 582.8 351.2 584.8 350.2Z"/><path fill="#ed7342" fill-rule="evenodd" d="M350.2 450.2 350.2 471.8 381.2 471.8 363.8 463.8 359.8 460.8 353.2 454.2ZM584.8 340.2 577.2 345.8 569.2 350.2 566.8 352.8 564.8 356.8 561.2 372.2 555.8 386.2 550.8 407.8 547.2 418.8 545.2 435.8 543.2 438.2 543.2 441.8 544.2 443.2 540.8 454.2 537.2 461.2 529.2 471.8 546.2 471.8 547.8 463.2 551.2 452.8 552.2 447.2 551.8 444.2 569.2 426.8 578.2 419.2 584.8 415.2 584.8 407.8 583.2 407.8 573.2 412.8 561.2 420.2 548.2 432.2 547.8 431.8 549.2 418.8 557.8 389.2 561.8 381.2 575.8 359.8 575.8 358.8 584.8 349.8Z"/><path fill="#ee813d" fill-rule="evenodd" d="M350.2 450.2 350.2 471.8 381.2 471.8 363.8 463.8 359.8 460.8 353.2 454.2ZM584.8 340.2 575.8 346.8 568.8 350.8 565.8 354.8 563.8 360.2 561.2 372.2 557.2 382.2 557.2 383.8 555.8 386.2 554.8 392.2 553.2 395.8 551.8 402.2 552.2 403.2 548.8 414.2 547.8 420.8 546.8 422.2 545.2 435.8 543.2 438.2 543.2 441.8 544.2 443.2 540.8 454.2 537.2 461.2 529.2 471.8 546.2 471.8 547.8 463.2 551.2 452.8 552.2 447.2 551.8 444.2 566.2 429.2 574.2 422.2 584.8 415.2 584.8 407.8 582.2 408.2 565.8 417.2 555.2 425.2 548.2 432.2 547.8 431.8 548.8 419.2 557.2 390.2 560.2 383.8 568.2 371.8 568.2 370.8 572.2 365.2 575.8 358.8 584.8 349.8Z"/><path fill="#ef8e37" fill-rule="evenodd" d="M350.2 450.2 350.2 471.8 381.2 471.8 363.8 463.8 359.8 460.8 353.2 454.2ZM584.8 340.2 575.8 346.8 568.8 350.8 565.8 354.8 562.8 364.2 562.8 366.8 561.2 370.2 561.2 372.2 557.2 382.2 553.2 395.8 552.8 401.2 548.8 414.2 547.2 423.2 546.2 424.8 545.2 435.8 543.2 438.8 543.2 441.2 544.2 443.8 542.8 448.8 537.2 461.2 529.2 471.8 546.2 471.8 547.8 462.8 551.2 452.2 552.2 446.8 551.8 444.2 566.2 429.2 576.8 420.2 584.8 415.2 584.8 408.2 582.2 408.2 571.8 413.8 562.2 419.8 555.2 425.2 548.2 432.2 547.8 431.8 548.8 419.2 557.8 388.8 562.2 380.2 572.2 365.2 575.8 358.8 584.8 349.8Z"/><path fill="#f09d31" fill-rule="evenodd" d="M350.2 450.2 350.2 471.8 381.2 471.8 363.8 463.8 359.8 460.8 353.2 454.2ZM584.8 340.2 575.8 346.8 568.8 350.8 565.8 354.8 562.8 364.8 562.2 369.2 561.2 370.8 558.8 379.8 557.2 382.2 553.8 394.2 553.2 399.2 547.8 418.2 547.2 423.8 546.2 424.8 545.2 435.8 543.2 438.8 543.2 441.2 544.2 443.8 542.8 448.8 537.2 461.2 529.2 471.8 546.2 471.8 547.8 462.8 551.2 452.2 552.2 446.8 551.8 444.2 572.8 423.2 579.2 418.2 584.8 415.2 584.8 408.2 582.8 408.2 575.2 411.8 572.8 413.8 566.8 416.8 564.8 418.8 562.2 419.8 555.2 425.2 548.2 432.2 547.8 431.8 548.8 419.2 552.2 408.2 554.2 398.8 555.2 397.8 557.8 388.8 560.8 382.8 572.2 365.2 572.2 364.2 573.8 362.8 575.8 358.8 584.8 349.8Z"/><path fill="#f1a92b" fill-rule="evenodd" d="M350.2 450.2 350.2 471.8 381.2 471.8 363.8 463.8 359.8 460.8 353.2 454.2ZM584.8 340.2 578.2 345.2 568.8 350.8 565.8 354.8 562.8 364.8 562.2 369.2 561.2 370.8 560.2 375.8 557.8 381.2 554.8 390.8 551.2 407.2 547.8 418.2 547.2 423.8 545.8 428.8 545.2 435.8 543.2 438.8 543.2 441.2 544.2 443.8 542.8 448.8 537.2 461.2 529.2 471.8 546.2 471.8 547.8 462.8 551.2 452.2 552.2 446.8 551.8 444.2 568.2 427.2 570.8 425.8 572.8 423.2 577.8 419.2 584.8 414.8 584.8 408.2 582.8 408.2 573.8 412.8 561.8 420.2 559.2 422.8 555.2 425.2 548.2 432.2 547.8 431.8 548.2 428.8 547.8 425.2 548.8 419.2 552.2 408.2 554.2 398.8 558.2 387.2 578.2 355.2 584.8 349.8Z"/><path fill="#f3b524" fill-rule="evenodd" d="M350.2 450.2 350.2 471.8 381.2 471.8 363.8 463.8 359.8 460.8 353.2 454.2ZM584.8 340.2 579.8 344.2 568.2 351.2 565.8 354.8 563.8 360.8 561.2 372.8 554.8 390.8 551.2 407.2 547.8 418.2 546.8 426.8 545.8 428.8 545.2 435.8 543.2 438.8 543.2 441.2 544.2 443.8 542.8 448.8 537.2 461.2 529.2 471.8 546.2 471.8 547.8 462.8 551.2 452.2 552.2 446.8 551.8 444.2 557.8 437.2 575.8 420.8 584.8 414.8 584.8 408.2 583.2 408.2 578.8 410.2 561.8 420.2 558.8 423.2 554.8 425.8 548.2 432.8 547.8 432.2 548.2 428.2 547.8 425.2 548.8 419.2 552.2 408.2 555.2 395.2 556.8 392.8 558.2 387.2 577.8 355.8 584.8 349.8Z"/><path fill="#f5c11d" fill-rule="evenodd" d="M350.2 450.2 350.2 471.8 381.2 471.8 363.8 463.8 359.8 460.8 353.2 454.2ZM584.8 340.2 576.8 346.2 570.2 349.8 567.2 352.2 565.8 354.8 562.8 364.8 561.8 371.2 554.8 391.2 555.2 392.2 553.8 395.8 551.2 407.8 547.8 418.8 546.8 427.8 545.8 428.8 545.2 435.8 543.2 439.2 544.2 443.8 542.8 448.8 537.2 461.2 529.2 471.8 546.2 471.8 547.8 462.8 551.2 452.2 552.2 446.8 551.8 444.2 556.2 438.8 568.8 426.8 576.2 420.2 584.8 414.8 584.8 408.2 583.2 408.2 566.2 417.2 564.2 419.2 561.8 420.2 558.8 423.2 554.8 425.8 548.2 432.8 547.8 432.2 547.8 425.2 548.8 418.8 555.2 395.2 558.2 387.2 563.2 378.2 577.8 355.8 584.8 349.8Z"/><path fill="#f6cd16" fill-rule="evenodd" d="M350.2 450.2 350.2 471.8 381.2 471.8 363.8 463.8 359.8 460.8 353.2 454.2ZM584.8 340.2 581.2 343.2 569.8 350.2 566.8 353.2 565.2 356.2 562.8 365.2 561.8 371.8 558.8 379.2 557.8 383.8 556.2 386.2 551.2 407.8 547.8 418.8 545.2 435.8 543.2 439.2 544.2 444.2 542.8 449.2 537.8 460.8 529.2 471.8 546.2 471.8 546.8 466.2 551.2 451.8 552.2 446.2 551.8 443.8 563.2 431.8 574.2 421.8 584.8 414.8 584.8 408.8 583.8 408.2 575.2 412.2 561.2 420.8 553.8 426.8 548.2 432.8 547.2 429.2 548.8 418.8 556.8 390.2 557.8 389.2 559.8 383.8 575.2 360.2 576.2 357.8 579.8 353.8 584.8 349.8Z"/><path fill="#f8d912" fill-rule="evenodd" d="M350.2 450.2 350.2 471.8 381.2 471.8 363.8 463.8 359.8 460.8 353.2 454.2ZM584.8 340.2 581.2 343.2 569.8 350.2 566.8 353.2 565.2 356.2 561.8 371.8 557.8 382.2 552.2 402.2 552.8 403.8 549.2 414.8 548.2 421.2 547.2 421.8 545.2 435.8 543.2 439.8 544.2 444.2 542.8 449.2 537.8 460.8 529.2 471.8 546.2 471.8 546.8 466.2 551.2 451.8 552.2 446.2 551.8 443.8 572.2 423.2 584.8 414.2 584.8 408.8 582.8 408.8 581.8 409.8 575.2 412.2 561.2 420.8 548.2 432.8 547.2 430.8 548.2 424.2 548.2 418.8 557.2 388.8 560.2 382.8 575.2 360.2 576.2 357.8 580.8 352.8 584.8 349.8ZM547.2 432.8 547.8 432.2 548.2 432.8 547.8 433.2Z"/><path fill="#f8db1d" fill-rule="evenodd" d="M350.2 450.2 350.2 471.8 381.2 471.8 363.8 463.8 359.8 460.8 353.2 454.2ZM584.8 340.8 577.8 345.8 569.8 350.2 566.8 353.2 563.8 361.2 561.8 372.2 555.2 390.8 555.2 392.8 553.8 396.2 554.2 397.8 550.8 411.2 549.2 414.8 547.8 423.8 546.8 424.8 546.2 431.8 545.2 433.2 545.2 435.8 543.8 437.8 544.2 444.2 542.8 449.2 537.8 460.8 529.2 471.8 546.2 471.8 546.8 466.2 551.2 451.8 552.2 446.2 551.8 443.8 568.2 426.8 578.8 417.8 584.8 414.2 584.8 408.8 583.2 408.8 575.8 412.2 562.2 420.2 555.8 425.2 547.8 433.2 547.2 432.8 548.2 418.8 551.8 407.8 554.2 396.8 555.2 396.2 557.8 387.2 562.2 379.2 567.8 371.8 577.2 356.2 581.8 351.8 584.8 349.8Z"/><path fill="#f8de29" fill-rule="evenodd" d="M350.2 450.2 350.2 471.8 381.2 471.8 363.8 463.8 359.8 460.8 353.2 454.2ZM584.8 340.8 576.2 346.8 569.8 350.2 566.8 353.2 563.2 363.8 562.8 368.2 561.8 370.2 561.8 372.8 558.2 382.2 558.2 383.8 556.8 386.2 555.8 389.8 556.2 390.8 554.2 396.2 551.8 407.8 548.2 418.8 547.8 424.2 546.2 428.8 545.8 435.2 543.8 438.2 544.2 444.2 542.8 449.2 537.2 461.8 529.2 471.8 546.2 471.8 546.8 466.2 551.2 451.8 552.2 446.2 551.8 443.8 572.2 422.8 584.8 413.8 584.8 409.2 583.2 409.2 575.2 412.8 561.8 420.8 559.2 423.2 555.2 425.8 547.8 433.2 547.2 432.8 547.8 428.2 547.2 424.8 548.2 418.8 551.8 407.8 555.8 391.2 557.2 389.2 559.2 383.8 574.8 360.8 575.8 358.2 582.2 351.2 584.8 349.8ZM546.8 433.2 547.2 432.8 547.8 433.2 547.2 433.8Z"/><path fill="#f8e135" fill-rule="evenodd" d="M350.2 450.2 350.2 471.8 381.2 471.8 363.8 463.8 359.8 460.8 353.2 454.2ZM584.2 409.8 576.2 412.8 561.8 420.8 558.8 423.8 555.2 425.8 547.8 433.2 547.2 432.8 547.8 423.8 547.2 427.8 546.2 428.8 545.8 435.8 543.8 438.2 543.8 441.8 544.8 443.2 541.2 454.2 537.8 461.2 529.8 471.8 546.2 471.8 546.8 465.8 551.2 451.2 551.8 443.8 557.2 437.2 568.2 426.2 577.2 418.2 584.8 412.8ZM546.8 433.2 547.2 432.8 547.8 433.8 547.2 434.2ZM584.8 340.8 574.8 347.8 569.2 350.8 566.2 354.2 563.2 364.2 563.2 366.8 561.8 370.8 562.2 371.8 560.8 375.2 560.8 377.2 557.8 384.8 558.2 385.2 557.2 386.8 555.2 394.2 557.2 386.8 559.2 384.2 561.2 379.8 567.8 371.2 577.2 356.2 584.8 349.2Z"/><path fill="#f8e345" fill-rule="evenodd" d="M350.2 450.2 350.2 471.8 381.2 471.8 363.8 463.8 359.8 460.8 353.2 454.2ZM582.2 411.8 579.8 411.8 566.8 417.8 564.8 419.8 562.8 420.2 554.8 426.2 547.2 434.2 546.8 433.8 547.2 424.8 547.2 428.2 546.2 429.2 545.8 435.8 543.8 438.2 543.8 441.8 544.8 443.2 541.2 454.2 537.8 461.2 529.8 471.8 546.2 471.8 546.8 465.8 551.2 451.2 551.8 443.8 556.2 438.2 572.2 422.2 581.8 414.2 582.8 412.2ZM584.8 340.8 577.2 346.2 569.2 350.8 567.2 352.8 564.2 360.2 562.2 371.8 560.2 379.2 558.8 382.2 559.2 382.8 556.8 388.2 558.8 383.2 569.8 368.2 575.8 358.2 584.8 349.2Z"/><path fill="#f8e553" fill-rule="evenodd" d="M350.2 450.2 350.2 471.8 381.2 471.8 363.8 463.8 359.8 460.8 353.2 454.2ZM578.8 413.2 574.2 414.2 562.2 420.8 556.2 425.8 554.8 426.2 547.2 434.2 546.8 433.8 547.2 425.8 545.8 435.8 543.8 438.2 543.8 441.8 544.8 443.2 541.2 454.2 537.8 461.2 529.8 471.8 546.2 471.8 546.8 465.8 551.2 451.2 551.8 443.2 577.2 417.8 579.2 414.8ZM584.8 340.8 577.2 346.2 569.2 350.8 567.2 352.8 565.2 356.8 565.2 358.8 563.2 364.2 562.8 369.8 560.2 379.2 560.8 379.8 558.8 383.2 560.2 380.2 569.8 368.2 577.8 355.2 584.8 349.2Z"/><path fill="#f8e762" fill-rule="evenodd" d="M350.2 450.2 350.2 471.8 381.2 471.8 363.8 463.8 359.8 460.8 353.2 454.2ZM576.2 414.8 572.8 415.2 562.2 420.8 552.8 428.2 547.2 434.2 546.8 433.8 547.2 426.8 545.8 432.8 545.8 435.8 543.8 438.8 543.8 441.2 544.8 443.2 541.2 454.2 537.8 461.2 529.8 471.8 545.8 471.8 547.2 463.2 550.8 452.8 551.8 443.2 567.2 426.8 574.2 420.2 576.2 417.2ZM584.8 340.8 567.2 352.8 565.8 355.8 563.2 364.8 561.2 378.2 563.8 376.2 567.2 371.8 577.8 355.2 584.8 349.2Z"/><path fill="#f8e971" fill-rule="evenodd" d="M350.2 450.2 350.2 471.8 381.2 471.8 363.8 463.8 359.8 460.8 353.2 454.2ZM573.8 415.8 567.8 417.8 565.2 419.8 562.2 420.8 559.8 423.2 555.8 425.8 547.2 434.2 546.8 433.8 547.2 427.2 546.8 431.2 545.8 432.8 545.8 435.8 543.8 438.8 543.8 441.2 544.8 443.2 541.2 454.2 537.8 461.2 529.8 471.8 545.8 471.8 547.2 463.2 550.8 452.8 551.8 447.2 551.2 443.8 572.8 421.2 574.2 418.2ZM584.8 340.8 567.2 352.8 565.2 357.2 563.2 364.8 561.8 373.2 561.8 377.2 564.2 375.2 569.2 368.8 577.8 355.2 584.8 349.2Z"/><path fill="#f8eb7f" fill-rule="evenodd" d="M350.2 450.2 350.2 471.8 381.2 471.8 363.8 463.8 359.8 460.8 353.2 454.2ZM571.8 417.2 567.2 418.2 561.8 421.2 559.2 423.8 555.8 425.8 547.2 434.2 546.8 433.8 546.8 428.8 547.2 428.2 546.8 432.2 545.8 432.8 545.8 435.8 543.8 438.8 543.8 441.2 544.8 443.8 541.8 453.2 537.8 461.2 529.8 471.8 545.8 471.8 547.2 462.8 550.8 452.2 551.8 446.8 551.2 443.8 569.8 424.2 572.2 419.8ZM584.8 340.8 575.8 347.2 570.2 350.2 566.8 353.8 563.2 364.8 561.8 374.8 562.2 375.8 563.2 375.8 565.8 373.2 577.8 355.2 584.8 349.2Z"/><path fill="#f8ed8e" fill-rule="evenodd" d="M350.2 450.8 350.2 471.8 380.8 471.8 368.2 466.8 363.8 464.2 359.8 461.2 352.8 454.2ZM569.8 418.2 567.8 418.2 561.8 421.2 559.2 423.8 555.8 425.8 547.2 434.2 546.2 433.8 546.8 428.8 546.8 432.2 545.8 435.8 543.8 438.8 543.8 441.2 544.8 443.8 541.8 453.2 537.8 461.2 529.8 471.8 545.8 471.8 547.2 462.8 550.8 452.2 551.8 446.8 551.2 443.8 569.2 424.2 570.2 421.8ZM584.8 340.8 578.2 345.8 570.2 350.2 566.8 353.8 563.2 364.8 563.2 367.8 562.2 370.8 562.8 375.2 568.8 369.2 577.2 355.8 584.8 349.2Z"/><path fill="#f8ef9d" fill-rule="evenodd" d="M350.2 450.8 350.2 471.8 380.8 471.8 368.2 466.8 363.8 464.2 359.8 461.2 352.8 454.2ZM568.2 418.8 562.8 420.8 555.8 425.8 546.8 434.8 546.2 434.2 546.8 429.8 546.2 434.8 543.8 439.2 544.8 443.8 541.8 453.2 537.8 461.2 529.8 471.8 545.8 471.8 547.2 462.8 550.8 452.2 551.8 446.8 551.2 443.8 566.2 427.8 568.8 423.2ZM584.8 340.8 576.8 346.8 570.2 350.2 566.8 353.8 563.2 365.2 562.8 374.2 564.8 373.8 566.8 371.8 577.2 355.8 584.8 349.2Z"/><path fill="#f8f0ac" fill-rule="evenodd" d="M350.2 450.8 350.2 471.8 380.8 471.8 368.2 466.8 363.8 464.2 359.8 461.2 352.8 454.2ZM567.2 419.8 562.2 421.2 555.2 426.2 546.8 434.8 546.2 434.2 546.8 430.2 546.2 435.8 544.2 437.8 543.8 439.2 544.8 444.2 541.8 453.8 538.2 460.8 529.8 471.8 545.8 471.8 546.2 466.2 550.8 451.8 551.8 446.2 551.2 443.8 566.2 427.2 567.8 424.2ZM584.8 340.8 576.8 346.8 570.2 350.2 566.8 353.8 563.2 365.2 563.8 365.8 562.8 368.8 563.2 373.2 564.8 373.2 567.2 370.8 577.2 355.8 584.8 349.2Z"/><path fill="#f6f1b9" fill-rule="evenodd" d="M350.2 451.2 350.2 471.8 380.2 471.8 367.8 466.8 363.2 464.2 359.2 461.2 352.8 454.8ZM566.2 420.8 563.8 420.8 555.2 426.2 546.8 435.2 546.2 434.8 546.8 431.8 546.2 435.8 544.2 437.8 543.8 439.8 544.8 444.2 541.8 453.8 537.8 461.8 529.8 471.8 545.8 471.8 546.2 466.2 550.8 451.8 551.8 446.2 551.2 443.8 563.8 430.2 565.8 427.2ZM584.8 340.8 581.2 343.8 569.8 350.8 567.2 353.2 565.2 357.8 563.8 363.8 562.8 370.8 563.8 372.2 566.8 371.2 571.8 364.8 577.2 355.8 582.2 350.8 584.8 349.2Z"/><path fill="#f4f2c6" fill-rule="evenodd" d="M350.2 451.2 350.2 471.8 380.2 471.8 367.8 466.8 363.2 464.2 359.2 461.2 352.8 454.8ZM564.8 421.2 562.2 421.8 556.2 425.8 546.8 435.2 546.2 433.2 546.2 435.8 544.2 438.2 544.8 444.2 541.8 453.8 537.8 461.8 529.8 471.8 545.8 471.8 546.2 466.2 550.8 451.8 551.8 446.2 551.2 443.8 553.2 441.8 553.8 440.2 563.8 429.8 565.2 426.8 565.2 421.8ZM584.8 341.2 569.8 350.8 567.2 353.2 565.2 357.8 563.2 367.2 563.8 371.2 565.8 371.2 568.2 369.2 577.2 355.8 582.2 350.8 584.8 349.2Z"/><path fill="#f3f3d4" fill-rule="evenodd" d="M350.2 451.2 350.2 471.8 380.2 471.8 367.8 466.8 363.2 464.2 359.2 461.2 352.8 454.8ZM562.8 421.8 555.8 426.2 544.8 437.2 544.2 438.2 544.8 444.2 541.8 453.8 537.8 461.8 529.8 471.8 545.8 471.8 546.2 466.2 550.8 451.8 551.8 446.2 551.2 443.2 563.2 429.8 564.2 427.2 564.2 422.2ZM584.8 341.2 576.2 347.2 569.8 350.8 567.2 353.2 563.8 364.2 563.2 369.2 564.2 370.2 566.2 370.2 569.2 367.8 576.8 356.2 584.8 348.8Z"/><path fill="#f1f3e1" fill-rule="evenodd" d="M350.2 451.2 350.2 471.8 379.8 471.8 368.2 467.2 363.8 464.8 359.8 461.8 352.2 454.2ZM562.8 422.8 555.8 426.2 544.8 437.2 544.2 441.8 545.2 443.2 541.8 454.2 538.2 461.2 530.2 471.8 545.8 471.8 546.2 465.8 550.8 451.2 551.2 443.2 559.2 434.8 562.8 429.8 563.2 428.2 563.2 423.2ZM584.8 341.2 567.8 352.8 565.8 356.8 564.8 362.2 563.8 364.2 563.8 369.2 564.2 369.8 566.8 369.8 569.2 367.8 577.2 355.2 584.8 348.8Z"/><path fill="#eef3ed" fill-rule="evenodd" d="M350.2 451.8 350.2 471.8 379.2 471.8 367.8 467.2 363.2 464.8 359.2 461.8 352.2 454.8ZM561.8 423.8 558.2 424.8 555.2 426.8 545.2 436.8 544.2 438.8 544.2 441.2 545.2 443.2 541.8 454.2 538.2 461.2 530.2 471.8 545.8 471.8 546.2 465.8 550.8 451.2 551.2 443.2 560.8 432.2 562.2 429.2 562.2 424.2ZM584.8 341.2 567.8 352.8 566.2 355.8 563.8 364.8 564.2 369.2 567.8 368.8 571.8 364.2 577.2 355.2 584.8 348.8Z"/><path fill="#e7f0f0" fill-rule="evenodd" d="M350.2 451.8 350.2 471.8 379.2 471.8 367.8 467.2 363.2 464.8 359.2 461.8 352.2 454.8ZM559.8 425.2 558.2 425.2 555.8 426.8 544.8 437.8 544.2 441.2 545.2 443.8 542.2 453.2 537.8 462.2 530.2 471.8 545.2 471.8 546.8 462.8 550.2 452.2 551.2 446.8 550.8 443.8 559.8 432.8 560.2 431.2 560.2 425.8ZM584.8 341.2 575.8 347.8 570.2 350.8 567.2 353.8 564.2 363.2 564.8 368.2 568.2 367.8 571.2 364.8 576.8 355.8 584.8 348.8Z"/><path fill="#e0edf3" fill-rule="evenodd" d="M350.2 452.8 350.2 471.8 378.2 471.8 367.8 467.8 363.2 465.2 359.2 462.2ZM557.8 426.8 555.8 427.2 545.2 437.2 544.8 438.2 545.2 444.2 542.2 453.8 538.2 461.8 530.2 471.8 545.2 471.8 545.8 466.2 550.2 451.8 551.2 446.2 550.8 443.2 556.2 436.8 558.2 433.2 558.2 427.2ZM584.8 341.2 581.2 344.2 569.8 351.2 567.8 353.2 564.8 361.8 564.2 364.8 564.8 366.8 565.8 367.2 568.8 366.8 572.8 362.2 577.2 354.8 584.8 348.2Z"/></g></g>
<line x1="468.0" y1="270.4" x2="468.0" y2="472.4" stroke="#767a76" stroke-width="2"/>
<line x1="514.9" y1="270.4" x2="514.9" y2="472.4" stroke="#d0d0d0" stroke-width="1.8" stroke-dasharray="4.3,2.4" stroke-dashoffset="-1.3"/>
<g stroke="#7f7f7f" stroke-width="1.2" fill="none">
<path d="M349.6,270.09999999999997 V472.5 H585.0999999999999"/>
<line x1="343.1" y1="472.40" x2="349.6" y2="472.40"/>
<line x1="346.6" y1="459.77" x2="349.6" y2="459.77"/>
<line x1="346.6" y1="447.15" x2="349.6" y2="447.15"/>
<line x1="346.6" y1="434.52" x2="349.6" y2="434.52"/>
<line x1="343.1" y1="421.90" x2="349.6" y2="421.90"/>
<line x1="346.6" y1="409.27" x2="349.6" y2="409.27"/>
<line x1="346.6" y1="396.65" x2="349.6" y2="396.65"/>
<line x1="346.6" y1="384.02" x2="349.6" y2="384.02"/>
<line x1="343.1" y1="371.40" x2="349.6" y2="371.40"/>
<line x1="346.6" y1="358.77" x2="349.6" y2="358.77"/>
<line x1="346.6" y1="346.15" x2="349.6" y2="346.15"/>
<line x1="346.6" y1="333.52" x2="349.6" y2="333.52"/>
<line x1="343.1" y1="320.90" x2="349.6" y2="320.90"/>
<line x1="346.6" y1="308.27" x2="349.6" y2="308.27"/>
<line x1="346.6" y1="295.65" x2="349.6" y2="295.65"/>
<line x1="346.6" y1="283.02" x2="349.6" y2="283.02"/>
<line x1="343.1" y1="270.40" x2="349.6" y2="270.40"/>
<line x1="349.80" y1="472.5" x2="349.80" y2="479.0"/>
<line x1="354.50" y1="472.5" x2="354.50" y2="475.5"/>
<line x1="359.20" y1="472.5" x2="359.20" y2="475.5"/>
<line x1="363.90" y1="472.5" x2="363.90" y2="475.5"/>
<line x1="368.60" y1="472.5" x2="368.60" y2="475.5"/>
<line x1="373.30" y1="472.5" x2="373.30" y2="480.0"/>
<line x1="378.00" y1="472.5" x2="378.00" y2="475.5"/>
<line x1="382.70" y1="472.5" x2="382.70" y2="475.5"/>
<line x1="387.40" y1="472.5" x2="387.40" y2="475.5"/>
<line x1="392.10" y1="472.5" x2="392.10" y2="475.5"/>
<line x1="396.80" y1="472.5" x2="396.80" y2="479.0"/>
<line x1="401.50" y1="472.5" x2="401.50" y2="475.5"/>
<line x1="406.20" y1="472.5" x2="406.20" y2="475.5"/>
<line x1="410.90" y1="472.5" x2="410.90" y2="475.5"/>
<line x1="415.60" y1="472.5" x2="415.60" y2="475.5"/>
<line x1="420.30" y1="472.5" x2="420.30" y2="480.0"/>
<line x1="425.00" y1="472.5" x2="425.00" y2="475.5"/>
<line x1="429.70" y1="472.5" x2="429.70" y2="475.5"/>
<line x1="434.40" y1="472.5" x2="434.40" y2="475.5"/>
<line x1="439.10" y1="472.5" x2="439.10" y2="475.5"/>
<line x1="443.80" y1="472.5" x2="443.80" y2="479.0"/>
<line x1="448.50" y1="472.5" x2="448.50" y2="475.5"/>
<line x1="453.20" y1="472.5" x2="453.20" y2="475.5"/>
<line x1="457.90" y1="472.5" x2="457.90" y2="475.5"/>
<line x1="462.60" y1="472.5" x2="462.60" y2="475.5"/>
<line x1="467.30" y1="472.5" x2="467.30" y2="480.0"/>
<line x1="472.00" y1="472.5" x2="472.00" y2="475.5"/>
<line x1="476.70" y1="472.5" x2="476.70" y2="475.5"/>
<line x1="481.40" y1="472.5" x2="481.40" y2="475.5"/>
<line x1="486.10" y1="472.5" x2="486.10" y2="475.5"/>
<line x1="490.80" y1="472.5" x2="490.80" y2="479.0"/>
<line x1="495.50" y1="472.5" x2="495.50" y2="475.5"/>
<line x1="500.20" y1="472.5" x2="500.20" y2="475.5"/>
<line x1="504.90" y1="472.5" x2="504.90" y2="475.5"/>
<line x1="509.60" y1="472.5" x2="509.60" y2="475.5"/>
<line x1="514.30" y1="472.5" x2="514.30" y2="480.0"/>
<line x1="519.00" y1="472.5" x2="519.00" y2="475.5"/>
<line x1="523.70" y1="472.5" x2="523.70" y2="475.5"/>
<line x1="528.40" y1="472.5" x2="528.40" y2="475.5"/>
<line x1="533.10" y1="472.5" x2="533.10" y2="475.5"/>
<line x1="537.80" y1="472.5" x2="537.80" y2="479.0"/>
<line x1="542.50" y1="472.5" x2="542.50" y2="475.5"/>
<line x1="547.20" y1="472.5" x2="547.20" y2="475.5"/>
<line x1="551.90" y1="472.5" x2="551.90" y2="475.5"/>
<line x1="556.60" y1="472.5" x2="556.60" y2="475.5"/>
<line x1="561.30" y1="472.5" x2="561.30" y2="480.0"/>
<line x1="566.00" y1="472.5" x2="566.00" y2="475.5"/>
<line x1="570.70" y1="472.5" x2="570.70" y2="475.5"/>
<line x1="575.40" y1="472.5" x2="575.40" y2="475.5"/>
<line x1="580.10" y1="472.5" x2="580.10" y2="475.5"/>
<line x1="584.80" y1="472.5" x2="584.80" y2="479.0"/>
</g>
<g font-family="Liberation Sans, sans-serif" font-size="16.3" fill="#111" text-anchor="end">
<text x="338.3" y="275.4">0.8</text>
<text x="338.3" y="325.9">0.6</text>
<text x="338.3" y="376.4">0.4</text>
<text x="338.3" y="426.9">0.2</text>
<text x="338.3" y="477.4">0.0</text>
</g>
<g font-family="Liberation Sans, sans-serif" font-size="16.3" fill="#111" text-anchor="middle">
<text x="373.3" y="495">–2.0</text>
<text x="420.3" y="495">–1.0</text>
<text x="467.3" y="495">0.0</text>
<text x="514.3" y="495">1.0</text>
<text x="561.3" y="495">2.0</text>
<text x="467.8" y="514.5" font-size="16.6">Energy (eV)</text>
<text transform="translate(310,367.3) rotate(-90)" font-size="17.4">Velocity (a. u.)</text>
</g>
<text x="358.1" y="299" font-family="Liberation Sans, sans-serif" font-size="23" fill="#f4f4f4">(c)</text>
<g font-family="Liberation Sans, sans-serif" font-size="18" fill="#f2f2f2">
<text x="125.2" y="355">B1'</text>
<text x="189.6" y="358">B1</text>
<text x="127.6" y="421.2">B2'</text>
<text x="180.8" y="422">B2</text>
<text x="425.2" y="363.5">B1'</text>
<text x="485.2" y="367.5">B1</text>
</g>
<defs><linearGradient id="cbg" x1="0" y1="0" x2="0" y2="1"><stop offset="0.0000" stop-color="#dcecf4"/><stop offset="0.0833" stop-color="#f0f4ec"/><stop offset="0.1500" stop-color="#f8f0a8"/><stop offset="0.2167" stop-color="#f8e030"/><stop offset="0.2667" stop-color="#f8d810"/><stop offset="0.3167" stop-color="#f0a030"/><stop offset="0.3533" stop-color="#ec6448"/><stop offset="0.4033" stop-color="#e84848"/><stop offset="0.4700" stop-color="#d83a30"/><stop offset="0.5333" stop-color="#c04830"/><stop offset="0.5900" stop-color="#a05a30"/><stop offset="0.6333" stop-color="#807040"/><stop offset="0.6600" stop-color="#55a078"/><stop offset="0.6833" stop-color="#40a890"/><stop offset="0.7200" stop-color="#40b8c0"/><stop offset="0.7467" stop-color="#3cbcd8"/><stop offset="0.7733" stop-color="#38c0f0"/><stop offset="0.7967" stop-color="#4090e0"/><stop offset="0.8167" stop-color="#3a70c8"/><stop offset="0.8367" stop-color="#3460c0"/><stop offset="0.8600" stop-color="#2e4caa"/><stop offset="0.8967" stop-color="#283890"/><stop offset="0.9200" stop-color="#202870"/><stop offset="0.9467" stop-color="#181848"/><stop offset="0.9867" stop-color="#080810"/><stop offset="1.0000" stop-color="#000000"/></linearGradient></defs><rect x="602.8" y="295.6" width="10.800000000000068" height="174.59999999999997" fill="url(#cbg)"/>
<g stroke="#4a4a4a" stroke-width="1.2" fill="none"><rect x="602.8" y="295.6" width="10.8" height="174.6"/>
<line x1="613.6" y1="470.2" x2="619.5" y2="470.2"/>
<line x1="613.6" y1="412.0" x2="619.5" y2="412.0"/>
<line x1="613.6" y1="353.8" x2="619.5" y2="353.8"/>
<line x1="613.6" y1="295.6" x2="619.5" y2="295.6"/>
</g>
<g font-family="Liberation Sans, sans-serif" font-size="16.3" fill="#111">
<text x="624" y="476.0">0</text>
<text x="624" y="417.8">1</text>
<text x="624" y="359.6">2</text>
<text x="624" y="301.4">3</text>
</g>
</svg></body></html>
